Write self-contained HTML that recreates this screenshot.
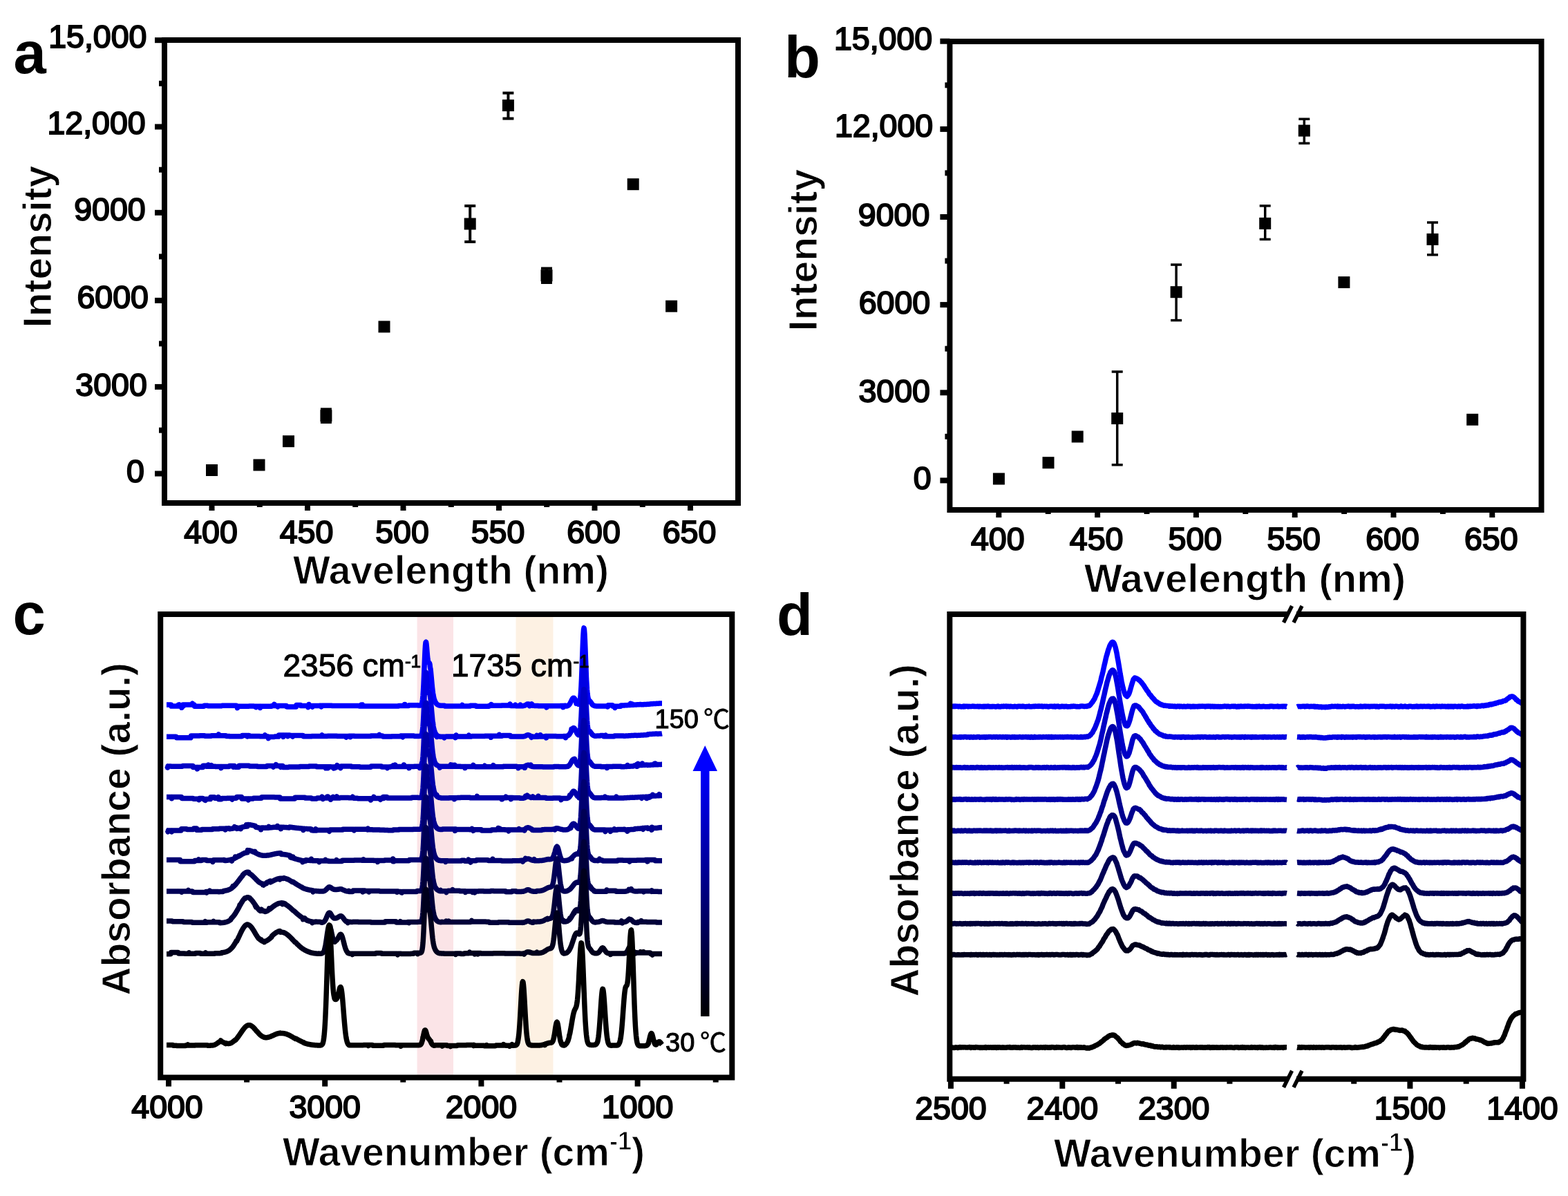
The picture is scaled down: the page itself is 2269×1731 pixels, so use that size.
<!DOCTYPE html>
<html><head><meta charset="utf-8"><title>Figure</title>
<style>
html,body{margin:0;padding:0;background:#fff;}
svg{display:block;}
text{font-family:'Liberation Sans', Arial, Helvetica, sans-serif;fill:#000;}
.tk{stroke:#000;stroke-width:2px;}
.an{stroke:#000;stroke-width:1.1px;}
.th{stroke:#fff;stroke-width:1px;}
</style></head>
<body>
<svg xmlns="http://www.w3.org/2000/svg" width="2269" height="1731" viewBox="0 0 2269 1731">
<rect width="2269" height="1731" fill="#fff"/>
<rect x="238" y="58" width="830" height="670" fill="none" stroke="#000" stroke-width="8" stroke-linejoin="miter"/>
<line x1="224.0" y1="685.5" x2="238.0" y2="685.5" stroke="#000" stroke-width="8" stroke-linecap="butt"/>
<line x1="224.0" y1="559.9" x2="238.0" y2="559.9" stroke="#000" stroke-width="8" stroke-linecap="butt"/>
<line x1="224.0" y1="434.9" x2="238.0" y2="434.9" stroke="#000" stroke-width="8" stroke-linecap="butt"/>
<line x1="224.0" y1="307.8" x2="238.0" y2="307.8" stroke="#000" stroke-width="8" stroke-linecap="butt"/>
<line x1="224.0" y1="183.5" x2="238.0" y2="183.5" stroke="#000" stroke-width="8" stroke-linecap="butt"/>
<line x1="224.0" y1="58.2" x2="238.0" y2="58.2" stroke="#000" stroke-width="8" stroke-linecap="butt"/>
<line x1="230.0" y1="622.7" x2="238.0" y2="622.7" stroke="#000" stroke-width="8" stroke-linecap="butt"/>
<line x1="230.0" y1="497.4" x2="238.0" y2="497.4" stroke="#000" stroke-width="8" stroke-linecap="butt"/>
<line x1="230.0" y1="371.4" x2="238.0" y2="371.4" stroke="#000" stroke-width="8" stroke-linecap="butt"/>
<line x1="230.0" y1="245.7" x2="238.0" y2="245.7" stroke="#000" stroke-width="8" stroke-linecap="butt"/>
<line x1="230.0" y1="120.8" x2="238.0" y2="120.8" stroke="#000" stroke-width="8" stroke-linecap="butt"/>
<text x="208.8" y="698.2" font-size="46.5" font-weight="normal" text-anchor="end" class="tk">0</text>
<text x="212.8" y="573.4" font-size="46.5" font-weight="normal" text-anchor="end" class="tk">3000</text>
<text x="214.9" y="445.6" font-size="46.5" font-weight="normal" text-anchor="end" class="tk">6000</text>
<text x="210.7" y="318.5" font-size="46.5" font-weight="normal" text-anchor="end" class="tk">9000</text>
<text x="210.7" y="193.9" font-size="46.5" font-weight="normal" text-anchor="end" class="tk">12,000</text>
<text x="212.4" y="68.8" font-size="46.5" font-weight="normal" text-anchor="end" class="tk">15,000</text>
<line x1="306.5" y1="728.0" x2="306.5" y2="739.0" stroke="#000" stroke-width="8" stroke-linecap="butt"/>
<text x="305.0" y="786.0" font-size="46.5" font-weight="normal" text-anchor="middle" class="tk">400</text>
<line x1="375.8" y1="728.0" x2="375.8" y2="734.0" stroke="#000" stroke-width="8" stroke-linecap="butt"/>
<line x1="445.0" y1="728.0" x2="445.0" y2="739.0" stroke="#000" stroke-width="8" stroke-linecap="butt"/>
<text x="443.5" y="786.0" font-size="46.5" font-weight="normal" text-anchor="middle" class="tk">450</text>
<line x1="514.2" y1="728.0" x2="514.2" y2="734.0" stroke="#000" stroke-width="8" stroke-linecap="butt"/>
<line x1="583.5" y1="728.0" x2="583.5" y2="739.0" stroke="#000" stroke-width="8" stroke-linecap="butt"/>
<text x="582.0" y="786.0" font-size="46.5" font-weight="normal" text-anchor="middle" class="tk">500</text>
<line x1="652.8" y1="728.0" x2="652.8" y2="734.0" stroke="#000" stroke-width="8" stroke-linecap="butt"/>
<line x1="722.0" y1="728.0" x2="722.0" y2="739.0" stroke="#000" stroke-width="8" stroke-linecap="butt"/>
<text x="720.5" y="786.0" font-size="46.5" font-weight="normal" text-anchor="middle" class="tk">550</text>
<line x1="791.2" y1="728.0" x2="791.2" y2="734.0" stroke="#000" stroke-width="8" stroke-linecap="butt"/>
<line x1="860.5" y1="728.0" x2="860.5" y2="739.0" stroke="#000" stroke-width="8" stroke-linecap="butt"/>
<text x="859.0" y="786.0" font-size="46.5" font-weight="normal" text-anchor="middle" class="tk">600</text>
<line x1="929.8" y1="728.0" x2="929.8" y2="734.0" stroke="#000" stroke-width="8" stroke-linecap="butt"/>
<line x1="999.0" y1="728.0" x2="999.0" y2="739.0" stroke="#000" stroke-width="8" stroke-linecap="butt"/>
<text x="997.5" y="786.0" font-size="46.5" font-weight="normal" text-anchor="middle" class="tk">650</text>
<text x="19.5" y="106.0" font-size="85" font-weight="bold" text-anchor="start" >a</text>
<text class="th" transform="translate(74.0,357.0) rotate(-90)" font-size="57" font-weight="bold" text-anchor="middle">Intensity</text>
<text x="652.5" y="845.0" font-size="57" font-weight="bold" text-anchor="middle" class="th">Wavelength (nm)</text>
<rect x="298.0" y="672.0" width="17" height="17" fill="#000"/>
<rect x="366.5" y="664.5" width="17" height="17" fill="#000"/>
<rect x="409.0" y="630.2" width="17" height="17" fill="#000"/>
<line x1="471.9" y1="592.3" x2="471.9" y2="611.1" stroke="#000" stroke-width="4" stroke-linecap="butt"/>
<line x1="463.9" y1="592.3" x2="479.9" y2="592.3" stroke="#000" stroke-width="4" stroke-linecap="butt"/>
<line x1="463.9" y1="611.1" x2="479.9" y2="611.1" stroke="#000" stroke-width="4" stroke-linecap="butt"/>
<rect x="463.4" y="593.2" width="17" height="17" fill="#000"/>
<rect x="547.5" y="464.4" width="17" height="17" fill="#000"/>
<line x1="680.2" y1="298.0" x2="680.2" y2="350.0" stroke="#000" stroke-width="4" stroke-linecap="butt"/>
<line x1="672.2" y1="298.0" x2="688.2" y2="298.0" stroke="#000" stroke-width="4" stroke-linecap="butt"/>
<line x1="672.2" y1="350.0" x2="688.2" y2="350.0" stroke="#000" stroke-width="4" stroke-linecap="butt"/>
<rect x="671.7" y="315.5" width="17" height="17" fill="#000"/>
<line x1="735.4" y1="134.6" x2="735.4" y2="171.6" stroke="#000" stroke-width="4" stroke-linecap="butt"/>
<line x1="727.4" y1="134.6" x2="743.4" y2="134.6" stroke="#000" stroke-width="4" stroke-linecap="butt"/>
<line x1="727.4" y1="171.6" x2="743.4" y2="171.6" stroke="#000" stroke-width="4" stroke-linecap="butt"/>
<rect x="726.9" y="144.1" width="17" height="17" fill="#000"/>
<line x1="791.0" y1="388.5" x2="791.0" y2="409.0" stroke="#000" stroke-width="4" stroke-linecap="butt"/>
<line x1="783.0" y1="388.5" x2="799.0" y2="388.5" stroke="#000" stroke-width="4" stroke-linecap="butt"/>
<line x1="783.0" y1="409.0" x2="799.0" y2="409.0" stroke="#000" stroke-width="4" stroke-linecap="butt"/>
<rect x="782.5" y="390.2" width="17" height="17" fill="#000"/>
<rect x="907.7" y="258.2" width="17" height="17" fill="#000"/>
<rect x="963.1" y="434.7" width="17" height="17" fill="#000"/>
<rect x="1374.4" y="60" width="856.0999999999999" height="678" fill="none" stroke="#000" stroke-width="8" stroke-linejoin="miter"/>
<line x1="1360.4" y1="695.4" x2="1374.4" y2="695.4" stroke="#000" stroke-width="8" stroke-linecap="butt"/>
<line x1="1360.4" y1="568.3" x2="1374.4" y2="568.3" stroke="#000" stroke-width="8" stroke-linecap="butt"/>
<line x1="1360.4" y1="441.1" x2="1374.4" y2="441.1" stroke="#000" stroke-width="8" stroke-linecap="butt"/>
<line x1="1360.4" y1="314.0" x2="1374.4" y2="314.0" stroke="#000" stroke-width="8" stroke-linecap="butt"/>
<line x1="1360.4" y1="186.9" x2="1374.4" y2="186.9" stroke="#000" stroke-width="8" stroke-linecap="butt"/>
<line x1="1360.4" y1="59.7" x2="1374.4" y2="59.7" stroke="#000" stroke-width="8" stroke-linecap="butt"/>
<line x1="1367.4" y1="631.8" x2="1374.4" y2="631.8" stroke="#000" stroke-width="8" stroke-linecap="butt"/>
<line x1="1367.4" y1="504.7" x2="1374.4" y2="504.7" stroke="#000" stroke-width="8" stroke-linecap="butt"/>
<line x1="1367.4" y1="377.6" x2="1374.4" y2="377.6" stroke="#000" stroke-width="8" stroke-linecap="butt"/>
<line x1="1367.4" y1="250.4" x2="1374.4" y2="250.4" stroke="#000" stroke-width="8" stroke-linecap="butt"/>
<line x1="1367.4" y1="123.3" x2="1374.4" y2="123.3" stroke="#000" stroke-width="8" stroke-linecap="butt"/>
<text x="1347.5" y="708.0" font-size="46.5" font-weight="normal" text-anchor="end" class="tk">0</text>
<text x="1345.9" y="581.7" font-size="46.5" font-weight="normal" text-anchor="end" class="tk">3000</text>
<text x="1346.2" y="453.9" font-size="46.5" font-weight="normal" text-anchor="end" class="tk">6000</text>
<text x="1345.3" y="326.9" font-size="46.5" font-weight="normal" text-anchor="end" class="tk">9000</text>
<text x="1350.2" y="197.8" font-size="46.5" font-weight="normal" text-anchor="end" class="tk">12,000</text>
<text x="1349.2" y="72.2" font-size="46.5" font-weight="normal" text-anchor="end" class="tk">15,000</text>
<line x1="1445.3" y1="738.0" x2="1445.3" y2="749.0" stroke="#000" stroke-width="8" stroke-linecap="butt"/>
<text x="1443.8" y="796.0" font-size="46.5" font-weight="normal" text-anchor="middle" class="tk">400</text>
<line x1="1516.7" y1="738.0" x2="1516.7" y2="744.0" stroke="#000" stroke-width="8" stroke-linecap="butt"/>
<line x1="1588.1" y1="738.0" x2="1588.1" y2="749.0" stroke="#000" stroke-width="8" stroke-linecap="butt"/>
<text x="1586.6" y="796.0" font-size="46.5" font-weight="normal" text-anchor="middle" class="tk">450</text>
<line x1="1659.5" y1="738.0" x2="1659.5" y2="744.0" stroke="#000" stroke-width="8" stroke-linecap="butt"/>
<line x1="1730.9" y1="738.0" x2="1730.9" y2="749.0" stroke="#000" stroke-width="8" stroke-linecap="butt"/>
<text x="1729.4" y="796.0" font-size="46.5" font-weight="normal" text-anchor="middle" class="tk">500</text>
<line x1="1802.3" y1="738.0" x2="1802.3" y2="744.0" stroke="#000" stroke-width="8" stroke-linecap="butt"/>
<line x1="1873.7" y1="738.0" x2="1873.7" y2="749.0" stroke="#000" stroke-width="8" stroke-linecap="butt"/>
<text x="1872.2" y="796.0" font-size="46.5" font-weight="normal" text-anchor="middle" class="tk">550</text>
<line x1="1945.1" y1="738.0" x2="1945.1" y2="744.0" stroke="#000" stroke-width="8" stroke-linecap="butt"/>
<line x1="2016.5" y1="738.0" x2="2016.5" y2="749.0" stroke="#000" stroke-width="8" stroke-linecap="butt"/>
<text x="2015.0" y="796.0" font-size="46.5" font-weight="normal" text-anchor="middle" class="tk">600</text>
<line x1="2087.9" y1="738.0" x2="2087.9" y2="744.0" stroke="#000" stroke-width="8" stroke-linecap="butt"/>
<line x1="2159.3" y1="738.0" x2="2159.3" y2="749.0" stroke="#000" stroke-width="8" stroke-linecap="butt"/>
<text x="2157.8" y="796.0" font-size="46.5" font-weight="normal" text-anchor="middle" class="tk">650</text>
<text x="1135.0" y="112.0" font-size="85" font-weight="bold" text-anchor="start" >b</text>
<text class="th" transform="translate(1182.0,362.0) rotate(-90)" font-size="57" font-weight="bold" text-anchor="middle">Intensity</text>
<text x="1801.5" y="857.0" font-size="58" font-weight="bold" text-anchor="middle" class="th">Wavelength (nm)</text>
<rect x="1436.9" y="684.5" width="17" height="17" fill="#000"/>
<rect x="1508.5" y="661.2" width="17" height="17" fill="#000"/>
<rect x="1550.7" y="623.5" width="17" height="17" fill="#000"/>
<line x1="1616.7" y1="538.0" x2="1616.7" y2="672.8" stroke="#000" stroke-width="3.5" stroke-linecap="butt"/>
<line x1="1608.7" y1="538.0" x2="1624.7" y2="538.0" stroke="#000" stroke-width="3.5" stroke-linecap="butt"/>
<line x1="1608.7" y1="672.8" x2="1624.7" y2="672.8" stroke="#000" stroke-width="3.5" stroke-linecap="butt"/>
<rect x="1608.2" y="597.1" width="17" height="17" fill="#000"/>
<line x1="1702.1" y1="383.1" x2="1702.1" y2="463.6" stroke="#000" stroke-width="3.5" stroke-linecap="butt"/>
<line x1="1694.1" y1="383.1" x2="1710.1" y2="383.1" stroke="#000" stroke-width="3.5" stroke-linecap="butt"/>
<line x1="1694.1" y1="463.6" x2="1710.1" y2="463.6" stroke="#000" stroke-width="3.5" stroke-linecap="butt"/>
<rect x="1693.6" y="414.2" width="17" height="17" fill="#000"/>
<line x1="1830.7" y1="297.9" x2="1830.7" y2="346.4" stroke="#000" stroke-width="3.5" stroke-linecap="butt"/>
<line x1="1822.7" y1="297.9" x2="1838.7" y2="297.9" stroke="#000" stroke-width="3.5" stroke-linecap="butt"/>
<line x1="1822.7" y1="346.4" x2="1838.7" y2="346.4" stroke="#000" stroke-width="3.5" stroke-linecap="butt"/>
<rect x="1822.2" y="314.9" width="17" height="17" fill="#000"/>
<line x1="1887.3" y1="172.3" x2="1887.3" y2="207.4" stroke="#000" stroke-width="3.5" stroke-linecap="butt"/>
<line x1="1879.3" y1="172.3" x2="1895.3" y2="172.3" stroke="#000" stroke-width="3.5" stroke-linecap="butt"/>
<line x1="1879.3" y1="207.4" x2="1895.3" y2="207.4" stroke="#000" stroke-width="3.5" stroke-linecap="butt"/>
<rect x="1878.8" y="180.6" width="17" height="17" fill="#000"/>
<rect x="1936.4" y="400.1" width="17" height="17" fill="#000"/>
<line x1="2073.0" y1="322.0" x2="2073.0" y2="368.8" stroke="#000" stroke-width="3.5" stroke-linecap="butt"/>
<line x1="2065.0" y1="322.0" x2="2081.0" y2="322.0" stroke="#000" stroke-width="3.5" stroke-linecap="butt"/>
<line x1="2065.0" y1="368.8" x2="2081.0" y2="368.8" stroke="#000" stroke-width="3.5" stroke-linecap="butt"/>
<rect x="2064.5" y="337.9" width="17" height="17" fill="#000"/>
<rect x="2122.2" y="598.8" width="17" height="17" fill="#000"/>
<rect x="603.6" y="893" width="52.4" height="662.5" fill="#FBE4E7"/>
<rect x="746.5" y="893" width="54" height="662.5" fill="#FDF1E3"/>
<g fill="none" stroke-width="7.5" stroke-linejoin="round" stroke-linecap="butt">
<path stroke="#0000FF" d="M241.0 1020.0l.5 0l.5 0l.5 0l.5 0l.5 0l.5 0l.5 0l.5 0l.5 0l.5 0l.5 0l.5 0l.5 0l.5 2.1l.5 0l.5 0l.5 0l.5 0l.5 0l.5 0l.5 0l.5 0l.5 0l.5 0l.5 0l.5 0l.5 0l.5 0l.5 0l.5 0l.5 0l.5 0l.5 0l.5-1.7l.5 1.7l.5 0l.5-2.2l.5 2.2l.5 0l.5 0l.5 0l.5 0l.5 0l.5 2.2l.5-2.2l.5 0l.5-2.1l.5 0l.5 1.9l.5-1.9l.5 0l.5 0l.5 0l.5 0l.5 0l.5 0l.5 0l.5 0l.5 0l.5 0l.5 0l.5 0l.5 0l.5 0l.5 0l.5 0l.5 0l.5 0l.5 0l.5 0l.5 0l.5 0l.5 0l.5 0l.5-1.9l.5 1.9l.5 0l.5 0l.5 0l.5 0l.5 2.3l.5 0l.5 0l.5 0l.5 0l.5 0l.5 0l.5 0l.5 0l.5 0l.5 0l.5 0l.5 0l.5 0l.5 0l.5 0l.5 0l.5 0l.5 0l.5 0l.5 0l.5 0l.5 0l.5 0l.5 0l.5 0l.5 0l.5 0l.5-1l.5 0l.5 0l.5 0l.5 0l.5 0l.5 0l.5 0l.5 0l.5 0l.5 0l.5 .4l.5 0l.5 0l.5 0l.5 0l.5 0l.5 0l.5 0l.5 0l.5 0l.5 0l.5 0l.5 0l.5 0l.5 0l.5 0l.5 0l.5 0l.5 0l.5 0l.5 0l.5 0l.5 0l.5 0l.5 0l.5 0l.5 0l.5 0l.5 0l.5 0l.5 0l.5 0l.5 0l.5 0l.5 0l.5 0l.5 0l.5 0l.5 0l.5 0l.5 0l.5-.5l.5 0l.5 0l.5 0l.5 0l.5 0l.5 0l.5 0l.5 0l.5 0l.5 0l.5 0l.5 0l.5 0l.5 0l.5 0l.5 0l.5 0l.5 0l.5 0l.5 0l.5 0l.5 0l.5 0l.5 0l.5 0l.5 0l.5 0l.5 0l.5 0l.5 0l.5 0l.5 0l.5 0l.5 0l.5 0l.5 0l.5 0l.5 0l.5 0l.5 0l.5 0l.5 1.1l.5 0l.5 2.3l.5-2.3l.5 0l.5 0l.5 0l.5 0l.5 0l.5 0l.5 0l.5 0l.5 0l.5 0l.5 0l.5 0l.5 0l.5 0l.5 0l.5 0l.5 0l.5 0l.5 0l.5 0l.5 0l.5 0l.5 0l.5 0l.5 0l.5 0l.5 0l.5 0l.5 0l.5 0l.5 0l.5 0l.5-.4l.5 0l.5 0l.5 0l.5 0l.5 0l.5 0l.5 0l.5 0l.5 0l.5 0l.5 0l.5 0l.5 0l.5 0l.5 .3l.5 0l.5 0l.5 0l.5 0l.5 1.4l.5-1.4l.5 0l.5 0l.5 0l.5 0l.5 0l.5 0l.5 0l.5 0l.5 0l.5 0l.5 2.3l.5-2.3l.5 0l.5 0l.5 .1l.5 0l.5 0l.5 0l.5 0l.5 0l.5 0l.5 0l.5 0l.5 0l.5 0l.5 0l.5 0l.5 0l.5 0l.5 0l.5 0l.5 0l.5 0l.5 0l.5 0l.5 0l.5 0l.5 0l.5 0l.5 0l.5 0l.5 0l.5 0l.5 0l.5-.9l.5 0l.5 0l.5 0l.5 0l.5 0l.5 0l.5-2l.5 2l.5 0l.5 0l.5 0l.5 0l.5 0l.5 0l.5 0l.5 0l.5 1.6l.5-1.6l.5 0l.5 0l.5 0l.5 0l.5 0l.5 0l.5 0l.5 0l.5 0l.5 0l.5 0l.5 0l.5 0l.5 0l.5 0l.5 0l.5 0l.5 0l.5 0l.5 0l.5 0l.5 0l.5 0l.5 0l.5 1.7l.5 0l.5 0l.5 0l.5 0l.5 0l.5 0l.5 0l.5 0l.5 0l.5 0l.5 0l.5 0l.5 0l.5 0l.5 0l.5 0l.5 0l.5 0l.5 0l.5 0l.5 0l.5 0l.5 0l.5 0l.5 0l.5 0l.5 0l.5-2.6l.5 0l.5 0l.5 0l.5 0l.5 0l.5 0l.5 0l.5 0l.5 0l.5 0l.5 0l.5 0l.5 1.1l.5 0l.5 0l.5 0l.5 0l.5 0l.5 0l.5 0l.5 0l.5 0l.5 0l.5 0l.5 0l.5 0l.5 0l.5 0l.5 0l.5 0l.5 0l.5 0l.5 0l.5 2l.5-2l.5-2.1l.5 2.1l.5 0l.5 0l.5 0l.5 0l.5 0l.5 0l.5 0l.5 0l.5 1.5l.5-1.5l.5 0l.5 0l.5 0l.5 0l.5 0l.5 0l.5 0l.5 0l.5 0l.5 0l.5 0l.5 0l.5 0l.5 0l.5 0l.5 0l.5 0l.5 0l.5 0l.5-.3l.5 0l.5 0l.5 0l.5 0l.5 1.6l.5-1.6l.5 0l.5 0l.5 0l.5 0l.5 0l.5 0l.5 0l.5 0l.5 0l.5 0l.5 0l.5 0l.5 0l.5 0l.5 0l.5 0l.5 0l.5 0l.5 0l.5 0l.5 0l.5 0l.5 0l.5 0l.5 0l.5 0l.5 0l.5 0l.5 0l.5 .2l.5 0l.5 0l.5 0l.5 0l.5 0l.5 0l.5 0l.5 0l.5 0l.5 0l.5 0l.5 0l.5 0l.5 0l.5 0l.5 0l.5 0l.5 0l.5 0l.5 0l.5 0l.5 0l.5 0l.5 0l.5 0l.5 0l.5 0l.5 0l.5 0l.5 0l.5 0l.5 0l.5 0l.5 0l.5 0l.5 0l.5 0l.5 .1l.5 0l.5 0l.5 0l.5 0l.5 0l.5 0l.5 0l.5 0l.5 0l.5 0l.5 0l.5 0l.5 0l.5 0l.5 0l.5 0l.5 0l.5 0l.5 0l.5 0l.5 0l.5 0l.5 0l.5 0l.5 0l.5 0l.5 0l.5 0l.5 0l.5 0l.5 0l.5 0l.5 0l.5 0l.5 0l.5 0l.5 0l.5 0l.5 0l.5 0l.5 .5l.5 0l.5 0l.5 0l.5 0l.5 0l.5-2l.5 2l.5 0l.5-2.1l.5 2.1l.5 0l.5 0l.5 0l.5 0l.5 0l.5 0l.5 0l.5 0l.5 0l.5 0l.5 0l.5 0l.5 0l.5 0l.5 0l.5 0l.5 0l.5 0l.5 0l.5 0l.5-.1l.5 0l.5 0l.5 0l.5 0l.5 0l.5 0l.5 0l.5 0l.5 0l.5 0l.5 0l.5 0l.5 0l.5 0l.5 0l.5 0l.5 0l.5 0l.5 0l.5 0l.5 0l.5 0l.5 0l.5 0l.5 0l.5 0l.5 0l.5 0l.5 0l.5 0l.5 0l.5 0l.5 0l.5 0l.5 0l.5 0l.5 0l.5 0l.5 0l.5 0l.5 0l.5 0l.5 0l.5 0l.5 0l.5 0l.5 0l.5 0l.5 0l.5 0l.5 0l.5 0l.5 0l.5 0l.5 0l.5 0l.5 0l.5 0l.5 0l.5 0l.5 0l.5 0l.5 0l.5 0l.5 0l.5 0l.5 0l.5 0l.5 0l.5 0l.5 0l.5 0l.5 0l.5 0l.5 0l.5 0l.5 0l.5 0l.5 0l.5 0l.5 0l.5 0l.5-.6l.5 0l.5 0l.5 0l.5 0l.5 0l.5 0l.5 0l.5 0l.5 0l.5 0l.5 0l.5 0l.5 0l.5 0l.5 0l.5 0l.5-2l.5 0l.5 2l.5 0l.5 0l.5 0l.5 0l.5 0l.5 0l.5 0l.5 0l.5 0l.5 0l.5-.6l.5 0l.5 0l.5 0l.5 0l.5 0l.5 0l.5 0l.5 0l.5 0l.5 0l.5 0l.5 0l.5 0l.5 0l.5 0l.5 0l.5 0l.5 0l.5 0l.5 0l.5 0l.5 0l.5 0l.5 0l.5 0l.5 0l.5 .3l.5 0l.5 0l.5 0l.5 0l.5-.1l.5-.1l.5-.2l.5-.4l.5-.7l.5-1.4l.5-2.2l.5-3.6l.5-5.4l.5-7.4l.5-9.5l.5-11.4l.5-12.5l.5-12.3l.5-11.1l.5-8.3l.5-4.6l.5-.7l.5 2.8l.5 5.1l.5 6.2l.5 5.9l.5 4.7l.5 3.1l.5 1.5l.5 .5l.5 .3l.5 .6l.5 1.6l.5 4.6l.5 2l.5 4.8l.5 5.5l.5 5.5l.5 5.5l.5 5.1l.5 4.5l.5 3.8l.5 3.2l.5 2.6l.5 2.2l.5 1.7l.5 1.4l.5 1.2l.5 1l.5 .9l.5 .7l.5 .7l.5 .5l.5 .5l.5 .4l.5 .3l.5 .2l.5 .3l.5 .1l.5 .2l.5 .1l.5 0l.5 .1l.5 .1l.5 0l.5 0l.5 0l.5 0l.5 0l.5 .1l.5 0l.5 0l.5 0l.5 0l.5 0l.5 0l.5 .7l.5 0l.5 0l.5 0l.5 0l.5 0l.5 0l.5 0l.5 0l.5 0l.5 0l.5 0l.5 0l.5 0l.5 0l.5 0l.5 0l.5 0l.5 0l.5 0l.5 0l.5 0l.5 0l.5 0l.5 0l.5 0l.5 0l.5 0l.5 0l.5 0l.5 0l.5 0l.5 0l.5 0l.5 0l.5 0l.5 .1l.5 0l.5 0l.5 0l.5 0l.5 0l.5 0l.5 0l.5 0l.5 0l.5 0l.5 0l.5 0l.5 0l.5-1.7l.5 1.7l.5 0l.5 0l.5 0l.5 0l.5 0l.5 0l.5 0l.5 0l.5 0l.5 0l.5 0l.5 0l.5 0l.5 0l.5 0l.5 0l.5 0l.5 0l.5 0l.5 0l.5 0l.5-.9l.5 0l.5 0l.5 0l.5 0l.5 0l.5 0l.5 0l.5 0l.5 0l.5 0l.5 0l.5 0l.5 0l.5 0l.5 0l.5 0l.5 1l.5 0l.5 0l.5 0l.5 0l.5 0l.5 0l.5 0l.5 0l.5 0l.5 0l.5 0l.5 0l.5 0l.5 0l.5 0l.5 0l.5 0l.5 0l.5 0l.5 0l.5 0l.5 0l.5 0l.5 0l.5 0l.5 0l.5 0l.5 0l.5 0l.5 0l.5 0l.5 0l.5 0l.5 0l.5 0l.5 0l.5 0l.5-1l.5 0l.5 0l.5 0l.5 0l.5 0l.5-1.7l.5 1.7l.5 0l.5 0l.5 0l.5 0l.5 0l.5 0l.5 0l.5 0l.5 0l.5 0l.5 0l.5 0l.5 0l.5 0l.5 0l.5 0l.5 0l.5 0l.5 0l.5 0l.5 0l.5 0l.5 0l.5 0l.5 0l.5 0l.5 0l.5 0l.5-.2l.5 0l.5 0l.5 0l.5 0l.5 0l.5 0l.5 0l.5 0l.5 0l.5 0l.5 0l.5 0l.5 0l.5 0l.5 0l.5 0l.5 0l.5 0l.5 0l.5 0l.5 0l.5 0l.5 0l.5-2l.5 2l.5 0l.5 .6l.5 0l.5 0l.5 0l.5 0l.5 0l.5 0l.5 0l.5 0l.5 0l.5 0l.5 0l.5 0l.5-1.4l.5 1.6l.5 0l.5 0l.5 0l.5 0l.5 0l.5 0l.5 0l.5 0l.5 0l.5 0l.5 0l.5 0l.5-1.6l.5 1.6l.5 0l.5 0l.5-.1l.5 0l.5 0l.5 0l.5-.1l.5-.1l.5-.1l.5-.1l.5-.1l.5-.2l.5-.3l.5-.2l.5-.2l.5-.3l.5-.6l.5-.2l.5-.2l.5-.1l.5 0l.5 0l.5 .1l.5 .2l.5 .2l.5 2.4l.5-1.9l.5 .2l.5 .3l.5 .2l.5 .2l.5-1.9l.5 2.2l.5 .1l.5 0l.5 .1l.5 0l.5 0l.5 .1l.5 0l.5 0l.5 0l.5 0l.5 0l.5 0l.5 0l.5 0l.5 0l.5 0l.5 0l.5 0l.5 .3l.5 0l.5 0l.5 0l.5 0l.5 0l.5 0l.5 0l.5 0l.5 0l.5 0l.5 0l.5 0l.5 0l.5 0l.5 0l.5 0l.5 0l.5 0l.5 0l.5 0l.5 0l.5 0l.5 2.2l.5-2.2l.5 0l.5 0l.5 0l.5 0l.5 0l.5 0l.5 0l.5 0l.5 0l.5 0l.5 0l.5 0l.5 0l.5 0l.5 0l.5 0l.5 0l.5 0l.5 0l.5 0l.5 0l.5 0l.5 0l.5 0l.5 0l.5 0l.5 0l.5 0l.5 0l.5 0l.5 0l.5 0l.5 0l.5 0l.5 0l.5 0l.5 0l.5 0l.5-.3l.5 0l.5 0l.5 0l.5 0l.5 0l.5 0l.5 0l.5 2.3l.5-2.3l.5 0l.5 0l.5 0l.5-.1l.5 0l.5 0l.5 .8l.5-.1l.5 0l.5-.1l.5-.2l.5-.1l.5-.3l.5-.3l.5-.4l.5-.6l.5-.6l.5-.7l.5-.8l.5-1l.5-1l.5-1l.5-1l.5-1l.5-.9l.5-.8l.5-.5l.5-.4l.5-.1l.5 .1l.5 .4l.5 .5l.5 .8l.5 .9l.5 1l.5 1l.5 3.2l.5-2.1l.5 .9l.5 .8l.5 .7l.5 .5l.5 .3l.5 0l.5-.4l.5-1.1l.5-1.8l.5-3.1l.5-4.6l.5-6.4l.5-8.6l.5-10.7l.5-12.6l.5-13.8l.5-14.1l.5-13l.5-10.6l.5-7l.5-2.5l.5 2.3l.5 6.7l.5 10.3l.5 12.6l.5 13.6l.5 13.3l.5 14.1l.5 8l.5 7.9l.5 5.8l.5 4l.5 2.6l.5 1.6l.5 1.2l.5 .7l.5 .5l.5 .5l.5 .6l.5 .6l.5 .7l.5 .7l.5 .7l.5 1l.5 .6l.5 .5l.5 .5l.5 .3l.5 .3l.5 .2l.5 .2l.5 .1l.5 .1l.5 0l.5 0l.5 .4l.5 0l.5 0l.5 0l.5 0l.5 0l.5 0l.5 0l.5 0l.5 0l.5 0l.5 0l.5 0l.5 0l.5 0l.5 0l.5 0l.5 0l.5 0l.5 0l.5 0l.5 0l.5 0l.5 0l.5 0l.5 0l.5 0l.5 0l.5 0l.5 0l.5 0l.5 0l.5 0l.5 0l.5 .8l.5-2.1l.5 0l.5 0l.5 0l.5 0l.5 0l.5 0l.5 0l.5 0l.5 0l.5 0l.5 0l.5 0l.5 0l.5 1.5l.5 0l.5 0l.5 0l.5 0l.5 0l.5 2.2l.5-2.2l.5 0l.5 0l.5 0l.5 0l.5 0l.5 0l.5 0l.5 0l.5 0l.5 0l.5 0l.5 0l.5 0l.5 0l.5 0l.5-1.2l.5 0l.5 0l.5 0l.5 0l.5 0l.5-.1l.5 0l.5 0l.5-.1l.5 0l.5 0l.5-.1l.5 0l.5 0l.5 0l.5-.1l.5 0l.5 0l.5-.1l.5 0l.5 0l.5-.1l.5 0l.5 0l.5 0l.5-.1l.5 0l.5-2.2l.5 2.1l.5 0l.5 0l.5-1.5l.5 1.4l.5 0l.5 0l.5 0l.5-.1l.5 0l.5 0l.5-.1l.5 0l.5 0l.5 0l.5-.1l.5 0l.5 0l.5-.1l.5 0l.5 0l.5-.1l.5 0l.5 0l.5 0l.5-.1l.5 0l.5 0l.5-.1l.5 0l.5 .3l.5 0l.5 0l.5-.1l.5 0l.5 0l.5 0l.5-.1l.5 0l.5 0l.5-.1l.5 0l.5 0l.5-.1l.5 0l.5 0l.5 0l.5-.1l.5 0l.5 0l.5-.1l.5 0l.5 0l.5-.1l.5 0l.5 0l.5 0l.5-.2l.5-.1l.5 0l.5 0l.5-.1l.5 0l.5 0l.5-.1l.5 0l.5 0l.5 0l.5-.1l.5 0l.5 0l.5-.1l.5 0l.5 0l.5-.1l.5 0l.5 0l.5 0l.5-.1l.5 0l.5 0l.5-.1l.5 0l.5 0l.5-.1l.5 0l.5 0l.5 0l.5-.1l.5 0l.5 0"/>
<path stroke="#0000E3" d="M241.0 1066.3l.5 0l.5 0l.5 0l.5 0l.5 0l.5 0l.5 0l.5 0l.5 0l.5 0l.5 0l.5 0l.5 0l.5 0l.5 0l.5 0l.5 0l.5 0l.5 0l.5 0l.5 0l.5 0l.5 0l.5 0l.5 0l.5 0l.5 0l.5 0l.5 1.5l.5 0l.5 0l.5 0l.5 0l.5 0l.5 0l.5 0l.5 0l.5 0l.5 0l.5 0l.5 0l.5 0l.5 0l.5 0l.5 0l.5 0l.5 0l.5 0l.5 0l.5 0l.5 0l.5 0l.5 0l.5 0l.5 0l.5 0l.5 0l.5 0l.5 0l.5 0l.5 0l.5 0l.5 0l.5 0l.5 0l.5 0l.5 0l.5 0l.5 0l.5 0l.5-2.8l.5 0l.5 0l.5 0l.5 0l.5 0l.5 0l.5 0l.5 0l.5 0l.5 0l.5 0l.5 0l.5 0l.5 0l.5 0l.5 0l.5 0l.5 0l.5 0l.5 0l.5 0l.5 0l.5 0l.5 0l.5-.2l.5 0l.5 0l.5 0l.5 0l.5 0l.5 0l.5 0l.5 0l.5 0l.5 0l.5 0l.5 0l.5 0l.5 0l.5 .4l.5 0l.5 0l.5 0l.5 0l.5 0l.5 0l.5 0l.5 0l.5 0l.5 0l.5 0l.5 0l.5 0l.5 0l.5 0l.5 0l.5 0l.5 0l.5-.4l.5 0l.5 0l.5 0l.5 0l.5 0l.5 0l.5 0l.5 0l.5 0l.5 0l.5 0l.5 0l.5 0l.5 0l.5 0l.5 0l.5 0l.5 0l.5 0l.5 0l.5-2l.5 2l.5 0l.5 0l.5 0l.5 0l.5 0l.5 0l.5 0l.5 0l.5 0l.5 0l.5 0l.5 0l.5 0l.5 0l.5 0l.5 0l.5 0l.5 0l.5 0l.5 0l.5 .8l.5 0l.5 0l.5 0l.5 0l.5 0l.5 0l.5 0l.5 0l.5 0l.5 .2l.5 0l.5 0l.5 0l.5 0l.5 0l.5 0l.5 0l.5 0l.5 0l.5 0l.5 0l.5 0l.5 0l.5 0l.5 0l.5 0l.5 0l.5 0l.5 0l.5 0l.5 0l.5 0l.5 0l.5 0l.5 0l.5 0l.5 0l.5 0l.5 0l.5 0l.5 0l.5 0l.5 0l.5 0l.5 0l.5-1.3l.5 0l.5 0l.5 0l.5 0l.5 0l.5 0l.5 0l.5 0l.5 0l.5 0l.5 0l.5 0l.5 0l.5 0l.5 1.5l.5-1.5l.5 0l.5 0l.5 0l.5 0l.5 1.1l.5 0l.5 0l.5 0l.5 0l.5 0l.5 0l.5 0l.5 0l.5 0l.5 0l.5 0l.5 0l.5 0l.5 0l.5 0l.5 0l.5 0l.5 0l.5 0l.5 0l.5 0l.5 0l.5 0l.5 0l.5 0l.5 0l.5 0l.5 0l.5 0l.5 0l.5 .1l.5 0l.5 0l.5 0l.5 0l.5 0l.5 0l.5 0l.5 0l.5 0l.5 0l.5 0l.5 0l.5 0l.5-1.8l.5 1.8l.5 0l.5 0l.5 0l.5 0l.5 0l.5 0l.5 0l.5 .7l.5 2.2l.5-2.2l.5 0l.5 0l.5 0l.5 0l.5 0l.5 0l.5 0l.5 0l.5 0l.5 0l.5 0l.5 0l.5 0l.5 0l.5 0l.5 0l.5-.3l.5 0l.5 0l.5 0l.5 0l.5 0l.5 0l.5 0l.5 0l.5 0l.5 0l.5 0l.5-2.1l.5 0l.5 0l.5 0l.5 0l.5 0l.5 0l.5 0l.5 0l.5 0l.5 0l.5 0l.5 0l.5 2.4l.5-2.4l.5 0l.5 0l.5 0l.5 0l.5 0l.5 0l.5 0l.5 0l.5 0l.5 0l.5 0l.5 1.6l.5-1.6l.5 0l.5 0l.5 0l.5 0l.5 .6l.5 0l.5 0l.5 0l.5 0l.5 0l.5 0l.5 0l.5 1.6l.5-1.6l.5 0l.5 0l.5 0l.5 0l.5 0l.5 0l.5 0l.5 0l.5 0l.5 0l.5 0l.5 0l.5 0l.5 0l.5 0l.5 0l.5 0l.5 0l.5 0l.5 0l.5 0l.5 0l.5 0l.5 0l.5 0l.5 0l.5 0l.5 0l.5 0l.5 1.1l.5 0l.5 0l.5 0l.5 0l.5 0l.5 0l.5 0l.5 0l.5 0l.5 0l.5 0l.5 0l.5 0l.5 0l.5 0l.5 0l.5 0l.5 0l.5 0l.5 0l.5 0l.5 0l.5 0l.5-.3l.5 0l.5 0l.5 0l.5 0l.5 0l.5 0l.5 0l.5 0l.5 0l.5 0l.5 0l.5 0l.5 0l.5 0l.5 0l.5 0l.5 0l.5 0l.5 0l.5 0l.5 0l.5 0l.5 0l.5 0l.5 0l.5 0l.5 0l.5 0l.5 0l.5-1.6l.5 1.6l.5 0l.5 0l.5 0l.5 0l.5 0l.5 0l.5 0l.5 0l.5 0l.5 0l.5 0l.5 0l.5 0l.5 0l.5 0l.5-.1l.5 0l.5 0l.5 0l.5 0l.5 0l.5 0l.5 0l.5 0l.5 0l.5 0l.5 0l.5 0l.5 0l.5 0l.5 0l.5 0l.5 0l.5 0l.5 0l.5 0l.5 0l.5 0l.5 0l.5 0l.5 0l.5 0l.5 .2l.5 0l.5 0l.5 0l.5 0l.5 0l.5 0l.5 0l.5 0l.5 0l.5 0l.5 0l.5 0l.5 0l.5 0l.5 0l.5 0l.5 0l.5 0l.5 0l.5 0l.5 0l.5 0l.5 0l.5 0l.5 0l.5 1.6l.5-1.6l.5 0l.5 0l.5 0l.5 0l.5 0l.5 0l.5-.3l.5 0l.5 0l.5 0l.5 1.5l.5-1.5l.5 0l.5 0l.5 .1l.5 0l.5 0l.5 0l.5 0l.5 0l.5 0l.5 0l.5 0l.5 .3l.5 0l.5 0l.5 0l.5 0l.5 0l.5 0l.5 0l.5 0l.5 0l.5 0l.5 0l.5 0l.5 0l.5 0l.5-.1l.5 0l.5 0l.5 0l.5 0l.5 0l.5 0l.5 0l.5 0l.5 0l.5 0l.5 0l.5 0l.5 0l.5 0l.5 0l.5 0l.5 0l.5 0l.5 0l.5 0l.5 0l.5 0l.5 0l.5 0l.5 0l.5 0l.5 0l.5 0l.5 0l.5 0l.5 0l.5-.5l.5 0l.5 0l.5 0l.5 0l.5 0l.5 0l.5 0l.5 0l.5 0l.5 0l.5 0l.5 0l.5 0l.5 0l.5 0l.5 0l.5 0l.5 0l.5 0l.5 0l.5 0l.5 0l.5 0l.5-1.7l.5 1.7l.5 0l.5 0l.5 0l.5 0l.5 0l.5 0l.5 0l.5 0l.5 .9l.5 0l.5 0l.5 0l.5 0l.5 0l.5 0l.5 0l.5 0l.5 0l.5 0l.5 0l.5 0l.5 0l.5 0l.5 0l.5 0l.5 0l.5 0l.5 0l.5 0l.5 0l.5 0l.5 0l.5 0l.5 0l.5-.2l.5 0l.5 0l.5 0l.5 0l.5 0l.5 0l.5 0l.5 0l.5 0l.5 0l.5 0l.5 0l.5 0l.5 0l.5 0l.5 0l.5 0l.5 0l.5 0l.5 0l.5 0l.5 0l.5 0l.5 0l.5 0l.5-.6l.5 0l.5 0l.5 0l.5 0l.5 0l.5 1.7l.5-1.7l.5 0l.5 0l.5 0l.5 0l.5 0l.5 0l.5 0l.5 0l.5 0l.5 0l.5 0l.5 0l.5 0l.5 0l.5 0l.5 0l.5 0l.5 0l.5 0l.5 0l.5 0l.5 0l.5 0l.5 0l.5 0l.5 0l.5 0l.5 0l.5 0l.5 0l.5 0l.5 .3l.5 0l.5 0l.5 0l.5 0l.5 0l.5 0l.5 0l.5 0l.5 0l.5 0l.5 0l.5 0l.5 0l.5 0l.5 0l.5-.1l.5 0l.5-.1l.5-.2l.5-.4l.5-.8l.5-1.3l.5-2.3l.5-3.6l.5-5.3l.5-7.4l.5-9.6l.5-11.4l.5-12.5l.5-12.5l.5-11l.5-8.3l.5-4.6l.5-.7l.5 2.7l.5 5.2l.5 6.2l.5 5.9l.5 4.7l.5 3l.5 1.5l.5 .6l.5 .2l.5 .1l.5 1.6l.5 2.7l.5 3.9l.5 4.8l.5 5.4l.5 5.7l.5 5.4l.5 5.1l.5 6l.5 2.1l.5 4.9l.5 2.7l.5 2.1l.5 1.7l.5 1.4l.5 1.2l.5 1l.5 3.2l.5-1.6l.5 .7l.5 .5l.5 2.6l.5-1.7l.5 .3l.5 .3l.5 .2l.5 .2l.5 .1l.5 .1l.5 .1l.5 0l.5 .1l.5 0l.5 0l.5 .1l.5 0l.5 0l.5 0l.5 0l.5 0l.5 0l.5 0l.5 1.7l.5-1.7l.5 0l.5 0l.5 0l.5-.4l.5 0l.5 0l.5 0l.5 0l.5 0l.5 0l.5 0l.5 0l.5 0l.5 0l.5 0l.5 0l.5 0l.5 0l.5 0l.5 0l.5 0l.5 0l.5 0l.5 0l.5 0l.5 0l.5 0l.5 0l.5 0l.5 0l.5 1.8l.5-1.8l.5-1.9l.5 1.9l.5 0l.5 0l.5 0l.5 0l.5 0l.5 0l.5 0l.5 0l.5 0l.5 0l.5 0l.5 0l.5 0l.5 0l.5 0l.5 0l.5 0l.5 0l.5 0l.5 0l.5 0l.5 0l.5 0l.5 0l.5 0l.5 0l.5 0l.5 0l.5 0l.5 0l.5 0l.5 0l.5 0l.5 0l.5 0l.5-1.7l.5 1.7l.5 0l.5 0l.5 0l.5 0l.5 0l.5 0l.5 0l.5-.4l.5 0l.5 0l.5 0l.5 0l.5 0l.5 0l.5 0l.5 0l.5 0l.5 0l.5 0l.5 0l.5 0l.5 0l.5 0l.5 0l.5 0l.5 0l.5 0l.5 0l.5 0l.5 0l.5 0l.5 0l.5 0l.5 0l.5 0l.5 0l.5 0l.5 0l.5 0l.5 0l.5 0l.5 0l.5 0l.5 0l.5-.3l.5 0l.5 0l.5 0l.5 0l.5 0l.5 0l.5 0l.5 0l.5 0l.5 0l.5 0l.5 0l.5 0l.5 .1l.5 0l.5 0l.5 0l.5 2l.5-2l.5 0l.5 0l.5 0l.5 0l.5 0l.5 0l.5 0l.5 0l.5 0l.5 0l.5 0l.5 0l.5 0l.5 0l.5 0l.5 0l.5 0l.5 0l.5 0l.5 0l.5 0l.5 0l.5-2.1l.5 2.1l.5 0l.5 0l.5 0l.5 0l.5 0l.5 0l.5 0l.5-.8l.5 0l.5 0l.5 0l.5 0l.5 0l.5 0l.5 0l.5 0l.5 0l.5 0l.5 0l.5 0l.5 0l.5 0l.5 0l.5 0l.5 0l.5 0l.5 0l.5 0l.5 0l.5 0l.5 0l.5 1.6l.5 0l.5 0l.5 0l.5 0l.5 0l.5 0l.5 0l.5 0l.5 0l.5 0l.5 0l.5 0l.5 0l.5 0l.5 0l.5 0l.5 0l.5 0l.5 0l.5 0l.5 0l.5 0l.5 0l.5 0l.5 0l.5 0l.5 0l.5 0l.5 0l.5 0l.5 0l.5 0l.5 0l.5 0l.5-.1l.5 0l.5-.1l.5-.1l.5-.1l.5-.1l.5-.1l.5-.3l.5-.2l.5-.2l.5-.3l.5-.2l.5-.2l.5-.2l.5-.1l.5 0l.5 0l.5 .1l.5 .2l.5 .2l.5 .2l.5 .3l.5 .2l.5 .2l.5 .3l.5 1.9l.5-1.6l.5 .1l.5 .1l.5 .1l.5 .1l.5 0l.5 0l.5 0l.5 .1l.5 0l.5 0l.5 0l.5 0l.5 0l.5 0l.5-2l.5 2l.5 0l.5 0l.5-.4l.5 0l.5 0l.5 0l.5 0l.5 0l.5-2.2l.5 2.2l.5 0l.5 0l.5 0l.5 0l.5 0l.5 0l.5 0l.5 0l.5 0l.5 0l.5 0l.5 0l.5-.3l.5 0l.5 0l.5 2.3l.5-2.3l.5 0l.5 0l.5 0l.5 0l.5 0l.5 0l.5 0l.5 0l.5 0l.5 0l.5 0l.5 0l.5 0l.5 0l.5 0l.5 0l.5 0l.5 0l.5 0l.5 0l.5 0l.5 0l.5 0l.5 0l.5 0l.5 0l.5 0l.5 0l.5 .1l.5 0l.5 0l.5 0l.5 0l.5 0l.5 0l.5 0l.5 0l.5 0l.5 0l.5 0l.5 0l.5 0l.5 0l.5 0l.5 0l.5 0l.5 0l.5 0l.5-.2l.5 0l.5 0l.5 0l.5 0l.5 0l.5 2.3l.5-2.4l.5 0l.5-.1l.5-.1l.5-.1l.5-.2l.5-.3l.5-.3l.5-.4l.5-.5l.5-.6l.5-.8l.5-.8l.5-.9l.5-1l.5-1l.5-3l.5 .9l.5-.9l.5 1l.5-2.3l.5-.3l.5-.2l.5 .2l.5 .3l.5 .6l.5 .7l.5 .9l.5 1l.5 1l.5 1.1l.5 1.2l.5 .9l.5 .8l.5 .7l.5 .5l.5 .3l.5 0l.5-.5l.5-1l.5-1.8l.5-3.1l.5-5l.5-6.5l.5-8.5l.5-10.8l.5-12.6l.5-13.8l.5-14l.5-13l.5-10.6l.5-7l.5-2.5l.5 2.2l.5 6.7l.5 10.3l.5 12.6l.5 14.7l.5 13.3l.5 12l.5 10.1l.5 7.9l.5 5.8l.5 4l.5 2.7l.5 1.6l.5 1l.5 .6l.5 .5l.5-.5l.5 .5l.5 .6l.5 .7l.5 .7l.5 .7l.5 .7l.5 .6l.5 .5l.5 .5l.5 .3l.5 .3l.5 .2l.5 .2l.5 .1l.5 .1l.5 0l.5 0l.5 .1l.5 0l.5-.4l.5 0l.5 0l.5 0l.5 0l.5 0l.5 0l.5 0l.5 0l.5 0l.5 0l.5-.3l.5 0l.5 0l.5 0l.5 0l.5 0l.5 0l.5 0l.5 0l.5 1.1l.5 0l.5 0l.5 0l.5 0l.5 0l.5-1.6l.5 1.6l.5 0l.5 0l.5 0l.5 0l.5 0l.5 0l.5 0l.5 0l.5 0l.5 0l.5 0l.5 0l.5 0l.5 0l.5 0l.5 0l.5 0l.5 0l.5 0l.5 0l.5 0l.5 0l.5 0l.5-.7l.5 0l.5 0l.5 0l.5 0l.5 0l.5 0l.5 0l.5 0l.5 0l.5 0l.5 0l.5 0l.5 0l.5 0l.5 0l.5 0l.5 0l.5 0l.5 0l.5 0l.5 0l.5 0l.5 0l.5-.1l.5 0l.5 0l.5 0l.5 .3l.5 0l.5 0l.5 0l.5-.1l.5 0l.5 0l.5-.1l.5 0l.5 0l.5-.1l.5 0l.5 0l.5 0l.5-.1l.5 0l.5 0l.5-.1l.5 0l.5 0l.5-.1l.5 0l.5 0l.5 0l.5-.1l.5 0l.5 0l.5-.1l.5 0l.5 0l.5-.1l.5 0l.5 0l.5 0l.5-.1l.5 0l.5 0l.5 .3l.5-.1l.5 0l.5 0l.5-.1l.5 0l.5 0l.5 0l.5-.1l.5 0l.5 0l.5-.1l.5 0l.5 0l.5-.1l.5 0l.5 0l.5 0l.5-.1l.5 0l.5 0l.5-.1l.5 0l.5 0l.5-.1l.5 0l.5 0l.5 0l.5-.1l.5 0l.5 0l.5-.1l.5-.7l.5-.1l.5 0l.5 0l.5-.1l.5 0l.5 0l.5-.1l.5 0l.5 0l.5 0l.5-.1l.5 0l.5 0l.5-.1l.5 0l.5 0l.5-.1l.5 0l.5 0l.5 0l.5-.1l.5 0l.5 0l.5-.1l.5 0l.5 0l.5-.1l.5 .3l.5 0l.5 0l.5-.1l.5 0l.5 0l.5-.1l.5 0l.5 0l.5 0l.5-.1l.5 0l.5 0l.5-.1"/>
<path stroke="#0000C6" d="M241.0 1109.1l.5 0l.5 0l.5 1.9l.5-1.9l.5 0l.5 0l.5 0l.5 0l.5 0l.5 0l.5 0l.5 0l.5 0l.5 .1l.5 0l.5 0l.5 0l.5 0l.5 0l.5 0l.5 0l.5 0l.5 0l.5 0l.5 0l.5 0l.5 0l.5 0l.5 0l.5 0l.5 0l.5 0l.5 0l.5 0l.5 0l.5 0l.5 0l.5 0l.5 0l.5 0l.5 0l.5 0l.5 0l.5 0l.5 0l.5 0l.5-.6l.5 0l.5 0l.5 0l.5 0l.5 0l.5 0l.5 0l.5 0l.5 0l.5 0l.5 0l.5 0l.5 0l.5 0l.5 0l.5 0l.5 0l.5 0l.5 0l.5 0l.5 0l.5 0l.5 0l.5 0l.5 0l.5 0l.5 0l.5 0l.5 0l.5 1.9l.5 0l.5 0l.5 0l.5 0l.5 0l.5 0l.5 0l.5 0l.5 0l.5 0l.5 0l.5 2.4l.5-2.4l.5 0l.5 0l.5 0l.5 0l.5 0l.5 0l.5 0l.5 0l.5 0l.5 0l.5 0l.5 0l.5 0l.5 0l.5 0l.5-2.3l.5 0l.5 0l.5 0l.5 0l.5 0l.5 0l.5 0l.5 0l.5 1.1l.5 0l.5 0l.5 0l.5 0l.5 0l.5-2.3l.5 2.3l.5 0l.5 0l.5 0l.5 0l.5 0l.5 0l.5 0l.5-1.8l.5 1.8l.5 0l.5 0l.5 0l.5 0l.5 0l.5 0l.5 0l.5 0l.5 0l.5 0l.5 .2l.5 0l.5 0l.5 0l.5 0l.5 0l.5 0l.5 0l.5 0l.5 0l.5 0l.5 0l.5 0l.5 0l.5 0l.5 0l.5 2.2l.5-2.2l.5 0l.5 0l.5 0l.5 0l.5 0l.5 0l.5 0l.5 0l.5 0l.5 0l.5 0l.5 0l.5 0l.5 0l.5 0l.5 0l.5 0l.5 0l.5 0l.5 0l.5 0l.5 0l.5-.9l.5 0l.5 0l.5 0l.5 0l.5 0l.5 0l.5 0l.5 0l.5 0l.5 0l.5 1.6l.5-1.6l.5 0l.5 0l.5 0l.5 1.6l.5 0l.5 0l.5 0l.5 0l.5 0l.5 0l.5 0l.5 0l.5 0l.5 0l.5 0l.5-2l.5 0l.5 0l.5 0l.5 0l.5 0l.5 0l.5 0l.5 0l.5 0l.5 0l.5 0l.5 0l.5 0l.5 0l.5 0l.5 0l.5 0l.5 0l.5 0l.5 0l.5 0l.5 0l.5 0l.5 0l.5 0l.5 0l.5 0l.5 0l.5 0l.5 .7l.5 0l.5 0l.5 0l.5 0l.5 0l.5 0l.5 0l.5 0l.5 0l.5 0l.5 0l.5 0l.5 0l.5 0l.5 0l.5 0l.5 0l.5 0l.5 0l.5 0l.5 0l.5 0l.5 0l.5 .7l.5 0l.5 0l.5 0l.5 0l.5 0l.5 0l.5 0l.5 0l.5 0l.5 0l.5 0l.5 0l.5 0l.5 0l.5 0l.5 0l.5 0l.5 0l.5 0l.5 0l.5 0l.5 0l.5 0l.5 0l.5 0l.5 0l.5-1l.5 0l.5 0l.5 0l.5 0l.5 0l.5 0l.5 0l.5 0l.5 0l.5 0l.5 0l.5 0l.5 0l.5 0l.5 0l.5 0l.5 0l.5 1.6l.5-1.6l.5 0l.5 0l.5 0l.5 0l.5 0l.5 0l.5-2l.5 2l.5 0l.5 0l.5 0l.5 0l.5 0l.5 0l.5 0l.5 0l.5 0l.5 0l.5 0l.5 1.7l.5-1.7l.5 0l.5 0l.5 0l.5 0l.5 0l.5 1.8l.5 0l.5 0l.5 0l.5 0l.5 0l.5 0l.5 0l.5 0l.5 0l.5 0l.5 0l.5 0l.5 0l.5 0l.5 0l.5 0l.5-.3l.5 0l.5 0l.5 0l.5 0l.5 0l.5 0l.5 0l.5 0l.5 0l.5 0l.5 0l.5 0l.5 0l.5 0l.5 0l.5 0l.5 0l.5 0l.5 0l.5 0l.5 0l.5 0l.5 0l.5 0l.5 0l.5 0l.5 0l.5 0l.5 0l.5 0l.5 0l.5-.5l.5 0l.5 0l.5 0l.5 0l.5 0l.5 0l.5 0l.5 0l.5 0l.5 0l.5 0l.5 0l.5 0l.5 0l.5 0l.5 0l.5 0l.5 0l.5 0l.5 0l.5 0l.5 0l.5 0l.5 0l.5 0l.5 0l.5-.5l.5 0l.5 0l.5 0l.5 0l.5 0l.5 0l.5 0l.5 0l.5 0l.5 0l.5 0l.5 0l.5 0l.5 0l.5 0l.5 0l.5 0l.5 0l.5 0l.5 0l.5 0l.5 .7l.5 0l.5 0l.5 0l.5 0l.5 0l.5 0l.5 0l.5 0l.5 0l.5 0l.5 0l.5 0l.5 0l.5 0l.5 0l.5 0l.5 0l.5 0l.5 0l.5 0l.5 0l.5 0l.5 0l.5 0l.5 0l.5 2l.5-2l.5 0l.5 0l.5 0l.5 0l.5 2l.5-2l.5 0l.5 0l.5 0l.5 0l.5 0l.5 0l.5 0l.5 .1l.5 0l.5 0l.5 0l.5 0l.5 0l.5 0l.5 0l.5 2.1l.5-2.1l.5 0l.5 0l.5 1.5l.5-1.5l.5 0l.5 0l.5 0l.5 0l.5-2.3l.5 2.3l.5 0l.5 0l.5 0l.5 0l.5 0l.5 0l.5 0l.5 0l.5 1.7l.5-2.5l.5 0l.5 0l.5 0l.5 0l.5 0l.5 0l.5 0l.5 0l.5 0l.5 0l.5 0l.5 0l.5 0l.5 0l.5 0l.5 0l.5 0l.5 0l.5 0l.5 0l.5 0l.5 0l.5 0l.5 0l.5 0l.5 0l.5 0l.5 0l.5 0l.5 0l.5 .7l.5 0l.5 0l.5 0l.5 0l.5 0l.5 0l.5 0l.5 0l.5 0l.5 0l.5 0l.5 0l.5 0l.5 0l.5 0l.5 0l.5 0l.5 0l.5 0l.5 0l.5 0l.5 0l.5 0l.5 .4l.5 0l.5 0l.5 0l.5 0l.5 0l.5 0l.5 0l.5 0l.5 0l.5 0l.5 0l.5 0l.5 0l.5 0l.5 0l.5 0l.5 0l.5 0l.5 0l.5 0l.5 0l.5 0l.5 0l.5 0l.5 0l.5 0l.5 0l.5 0l.5 0l.5 0l.5 0l.5-1.1l.5 0l.5 0l.5 0l.5 0l.5 0l.5 0l.5 0l.5 0l.5 0l.5 0l.5 0l.5 0l.5 0l.5 0l.5 0l.5 0l.5 0l.5 0l.5 0l.5 0l.5 0l.5 0l.5 0l.5 0l.5 0l.5 0l.5 0l.5 0l.5 0l.5 0l.5 1l.5 0l.5 0l.5 0l.5 0l.5 0l.5 0l.5 0l.5 0l.5 0l.5 0l.5 0l.5 0l.5 0l.5 0l.5 0l.5 1.5l.5-1.5l.5 0l.5 0l.5 0l.5 0l.5 0l.5 0l.5 0l.5-.7l.5 0l.5 0l.5 0l.5 0l.5 0l.5 0l.5 0l.5-1.5l.5 1.5l.5 0l.5 0l.5 0l.5 0l.5-2.3l.5 2.3l.5 0l.5 0l.5 0l.5 0l.5 0l.5 0l.5 0l.5 0l.5 0l.5 0l.5 0l.5 0l.5 0l.5 0l.5 0l.5 0l.5 0l.5 0l.5 0l.5 0l.5 0l.5 0l.5 0l.5-2.4l.5 2.4l.5 0l.5 0l.5 0l.5 0l.5 0l.5 0l.5 0l.5 0l.5 0l.5 0l.5 0l.5 0l.5 0l.5 2.3l.5-2.3l.5 0l.5 0l.5 0l.5 0l.5 0l.5 0l.5 0l.5 0l.5 0l.5 0l.5 0l.5 0l.5 0l.5-.2l.5 0l.5 0l.5 0l.5 0l.5 0l.5 0l.5 0l.5 0l.5 0l.5 0l.5 0l.5 0l.5 0l.5 0l.5 0l.5 2.3l.5-2.4l.5-.1l.5-.2l.5-.4l.5-.8l.5-3.5l.5-.1l.5-3.6l.5-5.3l.5-7.4l.5-9.6l.5-11.4l.5-12.5l.5-12.4l.5-11.1l.5-8.3l.5-4.6l.5-.7l.5 3.7l.5 5.2l.5 6.2l.5 5.9l.5 4.7l.5 3l.5 1.5l.5 .6l.5 .2l.5 .7l.5 1.5l.5 2.8l.5 3.9l.5 4.8l.5 5.4l.5 5.6l.5 5.5l.5 5.1l.5 4.5l.5 3.8l.5 3.2l.5 2.6l.5 2.1l.5 1.8l.5 1.4l.5 1.2l.5 1l.5 .9l.5 .7l.5 .6l.5-.3l.5 .5l.5 .4l.5 .3l.5 .3l.5 .2l.5 .1l.5 .2l.5 .1l.5 2.2l.5-2.1l.5 .1l.5 0l.5 0l.5 0l.5 .1l.5 0l.5 0l.5 0l.5 0l.5 0l.5 0l.5 0l.5 0l.5 0l.5 0l.5 0l.5-.1l.5 0l.5 0l.5 0l.5 0l.5 0l.5 0l.5 0l.5 0l.5 0l.5 0l.5 0l.5 0l.5 0l.5-2.3l.5 2.3l.5 0l.5 0l.5 0l.5 0l.5-1.8l.5 1.8l.5 0l.5 0l.5 0l.5-2l.5 2l.5 0l.5 0l.5 0l.5 0l.5 0l.5 0l.5 0l.5 0l.5 0l.5 0l.5 0l.5 0l.5 0l.5 0l.5 0l.5 0l.5 .3l.5 0l.5 0l.5 0l.5 0l.5 0l.5 0l.5 0l.5 0l.5 0l.5 0l.5 0l.5 2l.5-2l.5 0l.5 0l.5 0l.5 0l.5 0l.5 0l.5 0l.5 0l.5 0l.5 0l.5 0l.5 0l.5 0l.5 0l.5 0l.5 0l.5 0l.5 0l.5 0l.5 0l.5 0l.5 0l.5-2.1l.5 2.1l.5 0l.5 0l.5 0l.5 0l.5 .2l.5 0l.5 0l.5 0l.5 0l.5 0l.5 0l.5 0l.5 0l.5 0l.5 0l.5 0l.5 0l.5 0l.5 0l.5 0l.5 0l.5 0l.5 0l.5 0l.5 0l.5 0l.5 0l.5 0l.5 0l.5 0l.5 0l.5-1.5l.5 1.5l.5 0l.5 0l.5 0l.5 0l.5 0l.5 0l.5 0l.5 0l.5 0l.5 0l.5 0l.5 0l.5 0l.5 .1l.5 0l.5 0l.5 0l.5 0l.5 0l.5 0l.5 0l.5 0l.5 0l.5-2.2l.5 2.2l.5 0l.5 0l.5 0l.5 0l.5 0l.5 0l.5 0l.5 0l.5 0l.5 0l.5 0l.5 0l.5 0l.5 0l.5 0l.5 0l.5 0l.5 0l.5 0l.5 0l.5 0l.5 0l.5 0l.5 0l.5 0l.5 0l.5 0l.5-.5l.5 0l.5 0l.5 0l.5 0l.5 0l.5 0l.5 0l.5 0l.5 0l.5 0l.5 0l.5 0l.5 0l.5 0l.5 0l.5 0l.5 0l.5 0l.5 0l.5 0l.5 0l.5 0l.5 0l.5 0l.5 0l.5 0l.5 0l.5 0l.5 0l.5 0l.5 0l.5 0l.5 0l.5 0l.5 0l.5 0l.5 0l.5 0l.5 .5l.5 0l.5 0l.5 0l.5 1.9l.5-1.9l.5 0l.5 0l.5 0l.5 0l.5 0l.5 0l.5 0l.5 0l.5 0l.5 0l.5 0l.5-.1l.5 0l.5-.1l.5-.1l.5-.1l.5-.2l.5 2.1l.5-2.5l.5-.2l.5-.3l.5-.2l.5-.3l.5-.2l.5-.1l.5-.1l.5-.1l.5-.1l.5 .1l.5 .2l.5 .2l.5 .2l.5 .3l.5 .2l.5-1.3l.5 1.8l.5 .2l.5 .1l.5 .2l.5 .1l.5 0l.5 .1l.5 0l.5 .1l.5 0l.5 0l.5 0l.5 0l.5 0l.5 0l.5 0l.5 0l.5 0l.5 0l.5 0l.5 0l.5 0l.5 0l.5 0l.5 0l.5 0l.5 0l.5 0l.5 0l.5 0l.5 0l.5 0l.5 0l.5 0l.5 .4l.5 0l.5 0l.5 0l.5 0l.5 0l.5 0l.5 0l.5 0l.5 0l.5 0l.5 0l.5 0l.5 0l.5 0l.5 0l.5 0l.5 0l.5 0l.5 0l.5 0l.5 0l.5 0l.5 0l.5 0l.5 0l.5 0l.5 0l.5 0l.5 0l.5 0l.5 0l.5-.7l.5 0l.5 0l.5 0l.5 0l.5 0l.5 0l.5 0l.5 0l.5 0l.5 0l.5 0l.5 0l.5 0l.5 0l.5 0l.5 .3l.5 0l.5 0l.5 0l.5 0l.5 0l.5 0l.5 0l.5 0l.5 0l.5 0l.5 0l.5 0l.5 0l.5 0l.5 0l.5 0l.5 0l.5 0l.5-.1l.5 0l.5-.1l.5 0l.5-.2l.5-.1l.5 0l.5-.3l.5-.4l.5-.5l.5-.5l.5-.7l.5-.8l.5-.8l.5-.9l.5-1l.5-.9l.5-.9l.5-.9l.5-.6l.5-.6l.5-.3l.5-.3l.5 .1l.5 .4l.5-1l.5 2.2l.5 .8l.5 .9l.5 .9l.5 1l.5 .9l.5 .8l.5 .8l.5 .6l.5 .4l.5 .4l.5-.1l.5-.4l.5 .6l.5-3.6l.5-3l.5-4.6l.5-6.5l.5-8.5l.5-10.8l.5-12.5l.5-13.9l.5-13.9l.5-13l.5-10.6l.5-7l.5-2.5l.5 2.2l.5 6.7l.5 10.3l.5 12.6l.5 13.6l.5 13.3l.5 12l.5 10.1l.5 7.9l.5 5.8l.5 4.1l.5 2.6l.5 1.6l.5 1l.5 0l.5 .5l.5 .5l.5 .5l.5 .7l.5 .6l.5 .8l.5 .7l.5 .6l.5 .6l.5 .6l.5 .4l.5 .4l.5 .2l.5 .3l.5 .1l.5 .1l.5 .1l.5 0l.5 .1l.5 0l.5 0l.5 0l.5 0l.5 0l.5 0l.5 0l.5 0l.5 0l.5 0l.5 0l.5 0l.5 0l.5 0l.5 0l.5 .5l.5 0l.5 0l.5 0l.5 0l.5 0l.5 0l.5 0l.5 0l.5 0l.5 0l.5 0l.5 0l.5 0l.5-.2l.5 0l.5 0l.5 1.8l.5-1.8l.5 0l.5 0l.5 0l.5 0l.5 0l.5 0l.5 0l.5 0l.5 0l.5 0l.5 0l.5 0l.5 0l.5 0l.5-.3l.5 0l.5 0l.5 0l.5 0l.5 0l.5 0l.5 0l.5 0l.5 0l.5 0l.5 0l.5 0l.5 0l.5 0l.5 0l.5 0l.5 0l.5 0l.5 0l.5 0l.5 0l.5 0l.5 0l.5 0l.5 .5l.5 0l.5 0l.5 0l.5 0l.5 0l.5-.1l.5 0l.5 0l.5-.1l.5 0l.5 0l.5-.1l.5 0l.5 0l.5 0l.5-.1l.5 0l.5-1.9l.5 1.8l.5 0l.5 0l.5-.1l.5 0l.5 0l.5 0l.5-.1l.5 0l.5 0l.5-.1l.5 0l.5 0l.5-.1l.5 0l.5 0l.5 0l.5-.1l.5-.7l.5 0l.5 0l.5-.1l.5 0l.5 0l.5-.1l.5 0l.5-1.6l.5 3l.5-1.5l.5 0l.5-2.4l.5 2.3l.5 0l.5 0l.5-.1l.5 0l.5 0l.5-.1l.5 0l.5 0l.5 0l.5-.1l.5-2.4l.5 2.4l.5-.1l.5 0l.5 0l.5-.1l.5 0l.5 0l.5 0l.5-.1l.5 0l.5 0l.5-.1l.5 0l.5 .4l.5 0l.5 0l.5-.1l.5 0l.5 0l.5 0l.5-.1l.5 0l.5 0l.5-.1l.5 0l.5 0l.5-.1l.5 0l.5 0l.5 0l.5-.1l.5 0l.5 0l.5-.1l.5-1.5l.5 1.5l.5-.1l.5-1.7l.5 1.7l.5 0l.5-.1l.5 0l.5 0l.5-.1l.5 .2l.5-.1l.5 0l.5 0l.5 0l.5-.1l.5 0l.5 0l.5-.1l.5 0l.5 0l.5-.1l.5 0"/>
<path stroke="#0000AA" d="M241.0 1153.5l.5 0l.5 0l.5 0l.5 0l.5 0l.5 0l.5 0l.5 0l.5 0l.5 0l.5 0l.5 0l.5 0l.5 0l.5 2.3l.5-2.3l.5 0l.5 0l.5 0l.5 0l.5 0l.5 0l.5 0l.5 0l.5 0l.5 0l.5 0l.5 0l.5 0l.5 0l.5 0l.5 0l.5 0l.5 0l.5 0l.5 0l.5 0l.5 0l.5 0l.5 0l.5 0l.5 0l.5 0l.5 1.9l.5 0l.5 0l.5 0l.5 0l.5 0l.5 0l.5 0l.5 0l.5 0l.5 0l.5 0l.5 0l.5 0l.5 0l.5 0l.5 0l.5 0l.5 0l.5 0l.5 0l.5 0l.5 0l.5 0l.5 0l.5 0l.5 0l.5 0l.5 0l.5 0l.5 0l.5 0l.5 0l.5 0l.5 .8l.5 0l.5 0l.5 0l.5 0l.5 0l.5 0l.5 0l.5 0l.5 0l.5 0l.5 0l.5 0l.5 0l.5 0l.5 0l.5 1.5l.5-2.1l.5 0l.5 0l.5 0l.5 0l.5 0l.5 0l.5 0l.5 0l.5 0l.5 0l.5 1l.5 0l.5 0l.5 0l.5 0l.5 1.5l.5-1.5l.5 1.7l.5-1.7l.5 0l.5 0l.5 0l.5 0l.5 0l.5 0l.5 0l.5 0l.5 0l.5 0l.5 0l.5 0l.5 0l.5-2.9l.5 0l.5 0l.5 0l.5 0l.5 0l.5 0l.5 0l.5 0l.5 0l.5 0l.5 0l.5 1.6l.5 0l.5 0l.5 0l.5 0l.5 0l.5 0l.5 0l.5 0l.5 0l.5-1.8l.5 3.3l.5 0l.5 0l.5 0l.5 0l.5 0l.5 0l.5 0l.5 0l.5-1.4l.5 0l.5 0l.5 0l.5 0l.5 0l.5 0l.5 0l.5 0l.5 0l.5 0l.5 0l.5 0l.5 0l.5 0l.5 0l.5-.1l.5 0l.5 0l.5 0l.5 0l.5 0l.5 0l.5 0l.5 0l.5 0l.5 0l.5 0l.5 0l.5 0l.5 1.8l.5-1.8l.5 0l.5 0l.5 0l.5 0l.5 0l.5 0l.5 0l.5 0l.5 0l.5 0l.5 0l.5-1.7l.5 0l.5 0l.5 0l.5 0l.5 0l.5 0l.5 0l.5 0l.5 0l.5 0l.5 0l.5 0l.5 0l.5 0l.5 2.3l.5 0l.5 0l.5 0l.5 0l.5 0l.5 0l.5 0l.5 0l.5 0l.5 0l.5 0l.5 0l.5 0l.5 0l.5 0l.5 0l.5 0l.5 0l.5 2l.5-2l.5 0l.5 0l.5 0l.5 0l.5 0l.5 0l.5 0l.5 0l.5 0l.5 0l.5 0l.5 0l.5 0l.5-.6l.5 0l.5 0l.5 0l.5 0l.5 0l.5 0l.5 0l.5 0l.5 0l.5 0l.5 0l.5 0l.5 0l.5 0l.5 0l.5 0l.5 0l.5 0l.5 0l.5 0l.5 0l.5 0l.5-1.6l.5 0l.5 0l.5 0l.5 0l.5 0l.5 0l.5 0l.5 0l.5 0l.5 0l.5 0l.5 0l.5 0l.5 0l.5 0l.5 0l.5 0l.5 0l.5 0l.5 0l.5 0l.5 0l.5 0l.5 0l.5 0l.5 0l.5 0l.5 0l.5 0l.5 0l.5 0l.5 0l.5 0l.5 0l.5 0l.5 0l.5 0l.5 .4l.5 0l.5 0l.5 0l.5 0l.5 0l.5 0l.5 0l.5 0l.5 0l.5 0l.5 0l.5 0l.5 0l.5 0l.5 0l.5 1.9l.5 0l.5 0l.5 0l.5 0l.5 0l.5 0l.5 0l.5 0l.5 0l.5 0l.5 0l.5 0l.5 0l.5 0l.5 0l.5 0l.5 0l.5 0l.5 0l.5 0l.5 0l.5 0l.5 0l.5 0l.5 0l.5 0l.5 0l.5 0l.5 0l.5 0l.5 0l.5 0l.5 0l.5 0l.5 0l.5 0l.5 0l.5 0l.5 0l.5 0l.5 0l.5 0l.5-1.8l.5 0l.5 0l.5 0l.5 0l.5 0l.5 0l.5 0l.5 0l.5 0l.5 0l.5 0l.5 0l.5 0l.5 0l.5 0l.5 0l.5 0l.5 0l.5 0l.5 0l.5 0l.5 0l.5 0l.5 0l.5 0l.5 0l.5 0l.5 0l.5 0l.5 .9l.5 0l.5 0l.5 0l.5 0l.5 0l.5 0l.5 0l.5 0l.5 0l.5 0l.5 0l.5 0l.5 0l.5 0l.5 0l.5 0l.5 0l.5 .8l.5 0l.5 0l.5 0l.5 0l.5 0l.5 0l.5 0l.5 0l.5 0l.5 0l.5 0l.5 0l.5 0l.5 0l.5 0l.5-1l.5 0l.5 0l.5 0l.5 0l.5 0l.5 0l.5 0l.5 0l.5 0l.5 0l.5 0l.5 0l.5 0l.5-1.7l.5 1.7l.5 0l.5 1.6l.5-1.6l.5 0l.5 0l.5 0l.5 0l.5 0l.5 0l.5 0l.5 0l.5 0l.5 0l.5-1.9l.5 1.9l.5-1.9l.5 1.9l.5 0l.5 0l.5 0l.5 0l.5 0l.5 0l.5 2.4l.5-2.4l.5 0l.5 0l.5 0l.5 0l.5 0l.5-1.5l.5 1.5l.5 0l.5 0l.5 0l.5 0l.5 0l.5 0l.5 0l.5 0l.5 0l.5-2.1l.5 2.1l.5 0l.5 0l.5 0l.5 0l.5 0l.5 0l.5 0l.5 0l.5-.3l.5 0l.5 0l.5 0l.5 0l.5 0l.5 0l.5 0l.5 0l.5 0l.5 0l.5 0l.5 0l.5 0l.5 0l.5 0l.5 0l.5 0l.5 0l.5 0l.5 0l.5 0l.5 0l.5 0l.5 0l.5 .1l.5 0l.5 0l.5 0l.5 0l.5 0l.5 0l.5 0l.5 0l.5 0l.5 0l.5-1.5l.5 1.5l.5 .5l.5 0l.5 0l.5 0l.5 0l.5 0l.5 0l.5 0l.5 0l.5 0l.5 0l.5 0l.5 .5l.5 0l.5 0l.5 0l.5 0l.5 0l.5 0l.5 0l.5 0l.5 0l.5 0l.5 0l.5 0l.5 0l.5 0l.5 0l.5 0l.5 0l.5 0l.5 0l.5 0l.5 0l.5 0l.5 0l.5 0l.5 0l.5 0l.5 0l.5 0l.5 0l.5 0l.5 0l.5 0l.5 0l.5 0l.5 0l.5 0l.5 0l.5 2.3l.5-2.3l.5 0l.5-.2l.5 0l.5 0l.5 0l.5 0l.5 0l.5-2.1l.5 2.1l.5 0l.5 0l.5 0l.5 0l.5 0l.5 0l.5 0l.5 0l.5 0l.5 0l.5 0l.5 0l.5 0l.5 0l.5 0l.5 0l.5 0l.5 1.9l.5-1.9l.5 0l.5 0l.5 0l.5 0l.5 0l.5 0l.5-2l.5 0l.5 1.8l.5-1.8l.5 0l.5 0l.5 0l.5 0l.5 0l.5 0l.5 0l.5 0l.5 1.6l.5 0l.5 0l.5 0l.5 0l.5 0l.5 0l.5 0l.5 0l.5 0l.5 0l.5 0l.5 0l.5 0l.5 0l.5 0l.5 0l.5 0l.5 0l.5 0l.5 0l.5 0l.5 0l.5 0l.5 0l.5 0l.5 0l.5 0l.5 0l.5 0l.5 0l.5 0l.5 0l.5 0l.5 0l.5 0l.5 0l.5 0l.5 0l.5 0l.5 0l.5 0l.5 0l.5 0l.5 0l.5 0l.5 0l.5 0l.5 0l.5 0l.5 0l.5 0l.5 0l.5 0l.5 0l.5 0l.5 0l.5 0l.5 0l.5 0l.5 0l.5 0l.5 0l.5 0l.5 0l.5 0l.5 0l.5 0l.5 0l.5 0l.5 0l.5-.8l.5 0l.5 0l.5 0l.5 0l.5 0l.5 0l.5 0l.5 0l.5 0l.5 0l.5 0l.5 0l.5 0l.5 0l.5 0l.5 0l.5 0l.5 0l.5 .3l.5 0l.5 0l.5 0l.5 0l.5-.1l.5-.1l.5-.2l.5-.4l.5-.7l.5-1.4l.5-2.3l.5-3.6l.5-5.3l.5-7.4l.5-9.5l.5-11.4l.5-12.5l.5-12.5l.5-11l.5-8.3l.5-4.7l.5-.7l.5 2.8l.5 5.2l.5 6.2l.5 5.9l.5 4.6l.5 3.2l.5 1.5l.5 .6l.5 .2l.5 .7l.5 1.5l.5 2.8l.5 3.9l.5 4.8l.5 5.4l.5 5.6l.5 5.5l.5 5.1l.5 4.5l.5 3.8l.5 3.2l.5 2.6l.5 2.1l.5 1.8l.5 1.4l.5 1.2l.5 1l.5 .9l.5 .7l.5 .6l.5-1.3l.5 2.3l.5 .4l.5 .4l.5 .2l.5 .2l.5 .2l.5 .1l.5 .1l.5 .1l.5 .1l.5 0l.5 .3l.5 0l.5 .1l.5 0l.5 0l.5 0l.5 0l.5 0l.5 0l.5 0l.5 0l.5 0l.5 0l.5 0l.5 0l.5 0l.5 0l.5 0l.5 0l.5 0l.5 0l.5 0l.5 0l.5 0l.5-.2l.5 0l.5 0l.5 0l.5 0l.5 0l.5 0l.5 0l.5 0l.5 0l.5 0l.5 0l.5 0l.5 0l.5 0l.5 1.9l.5-1.9l.5 0l.5 0l.5 0l.5 0l.5 0l.5 0l.5 0l.5-.4l.5 0l.5 0l.5 0l.5 0l.5 0l.5 0l.5 0l.5 0l.5 0l.5-.1l.5 0l.5 0l.5 0l.5 0l.5 0l.5 0l.5 0l.5 0l.5 0l.5 0l.5 0l.5 0l.5 0l.5 0l.5 0l.5 0l.5 0l.5 0l.5 0l.5 0l.5 0l.5 0l.5 0l.5 0l.5 0l.5 0l.5 .5l.5 0l.5 0l.5 0l.5 0l.5 0l.5 0l.5 0l.5 0l.5 0l.5 0l.5 0l.5 0l.5 0l.5 0l.5 0l.5 0l.5 0l.5 0l.5 0l.5-2.4l.5 2.4l.5 0l.5 0l.5 0l.5 0l.5 0l.5 0l.5 0l.5 0l.5 0l.5 0l.5 0l.5 0l.5 0l.5 0l.5 0l.5 0l.5 0l.5 0l.5 0l.5 0l.5 0l.5 0l.5 0l.5 0l.5 0l.5 0l.5 0l.5 0l.5 0l.5-.1l.5 0l.5 0l.5 0l.5 0l.5 0l.5 0l.5 0l.5 0l.5 0l.5 0l.5 0l.5 0l.5 0l.5 0l.5 0l.5 0l.5 0l.5 0l.5 0l.5 0l.5 0l.5 0l.5 0l.5 0l.5 0l.5 0l.5 0l.5 0l.5 0l.5 0l.5 0l.5 0l.5 0l.5 0l.5 0l.5 0l.5 0l.5 0l.5 0l.5 2l.5-2l.5 1.9l.5-1.9l.5 0l.5 0l.5 0l.5 0l.5 0l.5 0l.5 0l.5 0l.5-1.6l.5 1.6l.5-.3l.5 0l.5 0l.5 0l.5 0l.5 0l.5 0l.5 0l.5 0l.5 0l.5 0l.5 0l.5 0l.5 2.2l.5-2.2l.5 0l.5 0l.5 0l.5 0l.5 0l.5 .4l.5 0l.5 0l.5 0l.5 0l.5 0l.5 0l.5 0l.5 0l.5 0l.5 0l.5 0l.5 0l.5 0l.5 0l.5 0l.5 0l.5 0l.5 0l.5 .5l.5 0l.5 0l.5 0l.5 0l.5 0l.5 0l.5 0l.5-.1l.5 0l.5-.1l.5-.1l.5-.1l.5-.2l.5-.2l.5-.2l.5-2.1l.5 1.6l.5-.2l.5-.3l.5-.2l.5-1.9l.5 1.7l.5-.1l.5 .1l.5 .1l.5 .1l.5 .2l.5 .3l.5 .2l.5 .3l.5 .2l.5 .2l.5-.6l.5 .2l.5 .1l.5 .1l.5-1.5l.5 1.6l.5 .1l.5 0l.5 0l.5 0l.5 0l.5 0l.5 0l.5 0l.5 0l.5 0l.5 0l.5 0l.5 0l.5 0l.5-2.3l.5 2.3l.5 0l.5 0l.5 0l.5 0l.5 0l.5 0l.5 0l.5 0l.5 0l.5 0l.5 0l.5 0l.5 0l.5 0l.5 0l.5 0l.5 0l.5 0l.5 0l.5 0l.5 0l.5 .7l.5 0l.5 0l.5 0l.5 0l.5 0l.5 0l.5 0l.5 0l.5 0l.5 0l.5 0l.5 0l.5 0l.5 0l.5 0l.5 0l.5 0l.5 0l.5-.3l.5 0l.5 0l.5 0l.5 0l.5 0l.5 0l.5 0l.5 0l.5 0l.5 0l.5 0l.5 0l.5 0l.5 0l.5 0l.5 0l.5 0l.5 0l.5 0l.5 0l.5 0l.5 .7l.5 0l.5 2.1l.5-2.1l.5 0l.5 0l.5 0l.5 0l.5 0l.5 0l.5 0l.5 0l.5 0l.5 0l.5 0l.5 0l.5-.1l.5 0l.5-.1l.5 0l.5-.2l.5-.1l.5-.2l.5-.3l.5-.3l.5-.5l.5-.5l.5-2.2l.5 .9l.5-.8l.5-.8l.5-.9l.5-.8l.5-.8l.5-.8l.5-.6l.5-.5l.5-.8l.5-.1l.5 .1l.5 .3l.5 .5l.5 .6l.5 .8l.5 .8l.5 .9l.5 .8l.5 .8l.5 .8l.5 .7l.5 .5l.5 .4l.5 .2l.5 0l.5 1.3l.5-2.9l.5-1.9l.5-3l.5-4.6l.5-6.5l.5-8.6l.5-10.7l.5-12.6l.5-13.8l.5-14.1l.5-13l.5-10.6l.5-7l.5-2.5l.5 2.3l.5 6.7l.5 10.3l.5 12.6l.5 13.6l.5 13.3l.5 12l.5 9.8l.5 7.9l.5 5.8l.5 4l.5 2.6l.5 1.6l.5 1l.5 .7l.5 .5l.5 .5l.5 .6l.5 .6l.5 .7l.5 .7l.5 .7l.5 .6l.5 .7l.5 .5l.5 .4l.5 .4l.5 .3l.5 .2l.5 .1l.5 .1l.5 .1l.5 .1l.5 0l.5 0l.5 0l.5 0l.5 0l.5 0l.5 0l.5 0l.5 0l.5 0l.5 0l.5 0l.5 0l.5 0l.5 0l.5 0l.5-.2l.5 0l.5 0l.5 0l.5 0l.5 0l.5 0l.5 0l.5 0l.5 0l.5 0l.5-1.5l.5 1.5l.5 0l.5 0l.5 0l.5 0l.5 0l.5 0l.5 0l.5 .5l.5 0l.5 0l.5 0l.5 0l.5 0l.5 0l.5 0l.5 0l.5 0l.5 0l.5 0l.5 0l.5 0l.5 0l.5 0l.5 0l.5 0l.5 0l.5 0l.5 0l.5 0l.5 0l.5 0l.5-2l.5 2l.5 0l.5 0l.5 0l.5 0l.5 0l.5-.1l.5 0l.5 0l.5 0l.5 0l.5 0l.5 0l.5 0l.5 0l.5 0l.5 0l.5 0l.5 0l.5-.1l.5 0l.5 0l.5-.1l.5 0l.5 0l.5-.1l.5 0l.5 0l.5 0l.5-.1l.5 0l.5 0l.5-.1l.5 0l.5 0l.5-.1l.5 0l.5 0l.5 0l.5-.1l.5 0l.5 0l.5-.1l.5 0l.5 0l.5-.1l.5 .2l.5 0l.5 0l.5-.1l.5 0l.5 0l.5-.1l.5 0l.5 0l.5-.1l.5 0l.5 0l.5 0l.5-.1l.5 0l.5 0l.5-.1l.5 0l.5 0l.5-.1l.5 0l.5 0l.5 0l.5-.1l.5 0l.5 0l.5 1.7l.5-1.8l.5 0l.5-.1l.5 .2l.5-.1l.5 0l.5 0l.5 0l.5-.1l.5 0l.5 0l.5-.1l.5 1.8l.5-1.8l.5 2.2l.5-2.3l.5 0l.5 0l.5-.1l.5 0l.5 0l.5-.1l.5 1.1l.5-1.7l.5 0l.5-.1l.5 0l.5 0l.5 0l.5-.1l.5 0l.5-2l.5 1.9l.5 0l.5 0l.5-.1l.5 0l.5 0l.5 0l.5-.1l.5 0l.5 0l.5-.1l.5 0l.5 0l.5-.1l.5 0l.5 0l.5 0l.5-.1l.5-1.9l.5 1.9l.5-.1l.5 0l.5 0l.5-.1l.5 0l.5 0l.5 0"/>
<path stroke="#00008E" d="M241.0 1202.0l.5 0l.5 0l.5 0l.5 1.9l.5-1.9l.5 0l.5 0l.5 0l.5 0l.5 0l.5 0l.5 0l.5 0l.5 0l.5 1.8l.5-1.8l.5 0l.5 0l.5 0l.5 0l.5 0l.5 0l.5 0l.5 0l.5 0l.5 0l.5 0l.5 0l.5 0l.5 0l.5 0l.5 0l.5 0l.5 0l.5 0l.5 0l.5 0l.5 0l.5 0l.5 0l.5 0l.5 0l.5-2.3l.5 0l.5 0l.5 0l.5 0l.5 0l.5 0l.5 0l.5 0l.5 0l.5 0l.5 0l.5 0l.5 0l.5 0l.5 0l.5 .8l.5 0l.5 0l.5 0l.5 0l.5 0l.5 0l.5 0l.5 0l.5 0l.5 0l.5 0l.5 0l.5 0l.5 0l.5 0l.5 0l.5 0l.5 0l.5 0l.5-1.4l.5 0l.5 0l.5 0l.5 0l.5 0l.5 0l.5 0l.5 0l.5 2.2l.5 0l.5 0l.5 0l.5 0l.5 0l.5 0l.5 0l.5 0l.5 0l.5 0l.5 0l.5 0l.5 0l.5-.7l.5 0l.5 0l.5 0l.5 0l.5 0l.5 0l.5 0l.5 0l.5 0l.5 0l.5 0l.5 0l.5 0l.5 0l.5 0l.5 0l.5 0l.5 0l.5 0l.5 0l.5 0l.5 0l.5 0l.5 0l.5 0l.5 0l.5 0l.5 0l.5 0l.5 0l.5-.9l.5 0l.5 0l.5 0l.5 0l.5 0l.5 0l.5 0l.5 0l.5 0l.5 0l.5 0l.5 0l.5 0l.5 0l.5 0l.5 0l.5 0l.5 0l.5 0l.5-.4l.5 0l.5 0l.5 0l.5 0l.5 0l.5 0l.5 0l.5 0l.5 0l.5-.1l.5 0l.5 0l.5 0l.5 0l.5 0l.5 0l.5 1.7l.5-1.8l.5 0l.5 0l.5 0l.5-.1l.5 0l.5 0l.5-.1l.5 0l.5-.1l.5 0l.5 .9l.5 0l.5-.1l.5-.1l.5 0l.5-.1l.5-.1l.5 0l.5-.1l.5-.1l.5-.1l.5-.1l.5-.1l.5-.1l.5-.1l.5-2l.5 1.7l.5-.1l.5-.1l.5-.1l.5-.2l.5-.1l.5 1.7l.5-.1l.5-.2l.5-.1l.5-.2l.5-.1l.5-.2l.5-.2l.5-.1l.5-.2l.5-.1l.5 1.8l.5-2.1l.5-.1l.5-.2l.5-.1l.5-.1l.5-.2l.5-.1l.5-.1l.5-.1l.5-.1l.5-.1l.5-.1l.5 0l.5-.1l.5 0l.5-2.3l.5 2.2l.5 0l.5 0l.5-2.5l.5 0l.5 0l.5 0l.5 .1l.5 0l.5 .1l.5 0l.5 .1l.5 .1l.5 .1l.5 .1l.5 .1l.5 .1l.5 .1l.5 .1l.5 .1l.5 .1l.5 .1l.5 .2l.5 .1l.5 .1l.5 .1l.5 1.6l.5 .2l.5 .1l.5 .1l.5 .1l.5 .1l.5 .1l.5 .1l.5 .1l.5 .1l.5 .1l.5 .1l.5 .1l.5 .1l.5 0l.5 2.4l.5-2.2l.5-.7l.5 .1l.5 0l.5 .1l.5 0l.5 0l.5 0l.5 0l.5 .1l.5 0l.5-.1l.5 0l.5 0l.5 0l.5 .2l.5 0l.5 0l.5-.1l.5 0l.5 0l.5-.1l.5-1.8l.5 1.7l.5 0l.5-.1l.5 0l.5-.1l.5 0l.5-.1l.5 0l.5-.1l.5 0l.5-.1l.5 0l.5-.1l.5-.1l.5 0l.5-.1l.5 0l.5 0l.5-.1l.5 0l.5-.1l.5 0l.5 .5l.5 0l.5-2l.5 1.9l.5 0l.5 0l.5-.1l.5 0l.5 0l.5 0l.5 0l.5 0l.5 2.3l.5-2.3l.5 0l.5 0l.5 0l.5 0l.5 0l.5 0l.5 0l.5 .1l.5 0l.5 0l.5 0l.5 .1l.5 0l.5 .1l.5 0l.5 0l.5 .1l.5 0l.5 .1l.5 0l.5 .1l.5 0l.5 .1l.5-1l.5 .1l.5 0l.5 .1l.5 .1l.5 0l.5 .1l.5 .1l.5 0l.5 .1l.5 .1l.5 0l.5 .1l.5 .1l.5 0l.5 .1l.5 .1l.5 0l.5 .1l.5 .1l.5 0l.5 .1l.5 .1l.5-.1l.5 0l.5 .1l.5 .1l.5 0l.5 .1l.5 0l.5 .1l.5 0l.5 .1l.5 0l.5 .1l.5 0l.5 .1l.5 0l.5 .1l.5 0l.5 2.3l.5-2.2l.5 0l.5 .1l.5 0l.5 0l.5 .1l.5 0l.5 0l.5 .1l.5 0l.5 0l.5 .1l.5 0l.5 0l.5 0l.5 0l.5 .1l.5 0l.5 0l.5 0l.5 0l.5 .1l.5 0l.5 1.9l.5 0l.5 0l.5 .1l.5 0l.5 0l.5 0l.5 0l.5 0l.5 0l.5 0l.5 0l.5-2.1l.5 2.1l.5 .1l.5-.5l.5 0l.5 0l.5 0l.5 0l.5 0l.5 0l.5 0l.5 0l.5 0l.5 0l.5 0l.5 0l.5 0l.5 0l.5 0l.5 0l.5 0l.5 0l.5 0l.5 0l.5 0l.5 0l.5 0l.5 0l.5 0l.5 0l.5 0l.5 0l.5 0l.5 0l.5 0l.5 0l.5 0l.5 0l.5 0l.5 1.8l.5-1.8l.5-.4l.5 0l.5 0l.5 0l.5 0l.5 0l.5 0l.5 0l.5 0l.5 0l.5 0l.5 0l.5 0l.5 0l.5 0l.5 0l.5 0l.5 0l.5 0l.5 0l.5 0l.5 0l.5 0l.5 0l.5 0l.5 0l.5 0l.5 0l.5 0l.5 0l.5 0l.5 0l.5 0l.5 0l.5 0l.5 0l.5 0l.5-.9l.5 0l.5 0l.5 0l.5 0l.5 0l.5 0l.5 0l.5 0l.5 0l.5 0l.5 0l.5 0l.5 0l.5 0l.5 0l.5 0l.5 0l.5 0l.5 0l.5 0l.5 0l.5 0l.5 0l.5 0l.5 0l.5 0l.5 0l.5 0l.5 0l.5 0l.5 0l.5 0l.5 1.7l.5-1.7l.5 0l.5 0l.5 0l.5 0l.5 0l.5 0l.5 0l.5 0l.5 0l.5 0l.5 0l.5 0l.5 0l.5 0l.5 0l.5 0l.5 0l.5 0l.5 0l.5 0l.5 0l.5 0l.5 0l.5 0l.5 0l.5 0l.5 0l.5 0l.5 0l.5 0l.5 0l.5 0l.5 0l.5 0l.5 0l.5 0l.5 0l.5 .6l.5-1.7l.5 1.7l.5 0l.5 0l.5 0l.5 0l.5 0l.5 0l.5 0l.5 0l.5 0l.5 0l.5 0l.5 .1l.5 0l.5 0l.5 0l.5 0l.5 0l.5 0l.5 0l.5 0l.5 0l.5 0l.5 0l.5 0l.5 0l.5 0l.5 0l.5 0l.5 0l.5 0l.5 0l.5 0l.5 0l.5 .3l.5 0l.5 0l.5 0l.5 0l.5 0l.5 0l.5 0l.5 0l.5 0l.5 0l.5 0l.5 0l.5 .2l.5 0l.5 0l.5 0l.5 0l.5 0l.5 0l.5 0l.5 0l.5 0l.5 0l.5 .3l.5 0l.5 0l.5 0l.5 0l.5 0l.5 0l.5 0l.5 0l.5 0l.5 0l.5 0l.5 0l.5 0l.5-.7l.5 0l.5 0l.5 0l.5 0l.5 0l.5 0l.5 0l.5 0l.5 0l.5 0l.5 0l.5 0l.5 0l.5 0l.5 0l.5 0l.5-.6l.5 0l.5 0l.5 0l.5 0l.5 0l.5 0l.5 0l.5 0l.5 0l.5 0l.5 0l.5 0l.5 0l.5 0l.5 0l.5 0l.5 0l.5 0l.5 0l.5 0l.5 0l.5 0l.5 0l.5 0l.5 0l.5 0l.5 0l.5 0l.5 0l.5 0l.5 0l.5 0l.5 0l.5 0l.5 0l.5 0l.5 0l.5 0l.5 0l.5 0l.5-.2l.5 0l.5 0l.5 0l.5 0l.5 0l.5 0l.5 0l.5 0l.5 0l.5 0l.5 0l.5 0l.5 0l.5 0l.5 0l.5 0l.5 0l.5 0l.5 0l.5-.1l.5-.1l.5-.2l.5-.4l.5-.8l.5-1.3l.5-2.3l.5-3.6l.5-4.8l.5-7.4l.5-9.5l.5-11.4l.5-12.5l.5-12.5l.5-11l.5-8.3l.5-4.7l.5-.6l.5 2.7l.5 5.2l.5 6.2l.5 5.9l.5 4.7l.5 3l.5 1.5l.5 .6l.5 .2l.5 .5l.5 1.6l.5 2.7l.5 3.9l.5 4.8l.5 5.4l.5 5.7l.5 5.5l.5 5l.5 4.5l.5 3.8l.5 3.2l.5 2.7l.5 2.1l.5 1.7l.5 1.4l.5 1.2l.5 1l.5 .9l.5 .7l.5 .7l.5 .5l.5 .5l.5 .4l.5 .3l.5 .3l.5 .2l.5 .2l.5 .1l.5 .1l.5 .1l.5 0l.5 .1l.5 0l.5 0l.5 .1l.5 0l.5 0l.5-.5l.5 0l.5 0l.5 0l.5 0l.5 0l.5 0l.5 0l.5 0l.5 0l.5 0l.5 0l.5 0l.5 0l.5 0l.5 0l.5 0l.5 0l.5 0l.5 0l.5 0l.5 0l.5 0l.5 0l.5 0l.5 0l.5 0l.5 0l.5 0l.5 0l.5 0l.5 0l.5 0l.5 0l.5 0l.5 0l.5 2.3l.5-2.3l.5 0l.5 0l.5 .3l.5 0l.5 0l.5 0l.5 0l.5 0l.5 0l.5 0l.5 0l.5 0l.5 0l.5 0l.5 0l.5 0l.5 0l.5 0l.5 0l.5 0l.5 0l.5 0l.5 0l.5 0l.5 0l.5 0l.5 0l.5 0l.5 0l.5 0l.5 0l.5 0l.5 0l.5 0l.5 0l.5 0l.5 0l.5 0l.5 0l.5 0l.5 .4l.5 0l.5 0l.5 0l.5 0l.5 0l.5 0l.5-1.5l.5 1.5l.5 0l.5 0l.5 1.5l.5-1.5l.5 0l.5 0l.5 0l.5 0l.5 0l.5 0l.5 0l.5 0l.5 0l.5 0l.5 0l.5 0l.5 0l.5 0l.5 0l.5 0l.5 0l.5 0l.5 0l.5 0l.5 0l.5 0l.5 1.1l.5 0l.5 0l.5 0l.5 0l.5 0l.5 0l.5 0l.5 0l.5 0l.5 0l.5 0l.5 0l.5 0l.5 0l.5 0l.5 0l.5 0l.5 0l.5 0l.5 0l.5 0l.5 0l.5 0l.5 0l.5 0l.5 0l.5 0l.5 0l.5-.8l.5 0l.5 0l.5 0l.5 0l.5 0l.5 0l.5 0l.5 0l.5 0l.5 0l.5 0l.5 0l.5 0l.5 0l.5-.4l.5 0l.5 0l.5 0l.5-2.2l.5 2.2l.5 0l.5 0l.5 0l.5-1.5l.5 1.5l.5 0l.5 0l.5 0l.5 0l.5 0l.5 0l.5 0l.5 0l.5 0l.5 0l.5 0l.5 0l.5 0l.5 0l.5 .3l.5 0l.5 0l.5 0l.5 0l.5 0l.5 0l.5 0l.5 0l.5 1.9l.5-1.9l.5 0l.5 0l.5 0l.5 0l.5 0l.5 0l.5 0l.5 0l.5 0l.5 0l.5 0l.5 0l.5 0l.5 0l.5 0l.5 0l.5 0l.5 0l.5 .1l.5 0l.5 0l.5 0l.5 0l.5 0l.5 0l.5 0l.5 0l.5 0l.5-1.5l.5 1.5l.5 0l.5 0l.5 0l.5 0l.5 0l.5 0l.5 0l.5 0l.5 0l.5-.1l.5 0l.5-.1l.5-.1l.5-.1l.5 1.3l.5-1.7l.5-.2l.5-1l.5-.3l.5-.2l.5-.3l.5-.2l.5-.1l.5-.1l.5-.1l.5 .1l.5 .1l.5 .1l.5 .2l.5 .3l.5 .2l.5 .3l.5 .2l.5 .2l.5 .2l.5 .2l.5 1.3l.5 .1l.5 .1l.5 0l.5 0l.5 .1l.5 0l.5 0l.5 0l.5 0l.5 0l.5 0l.5 0l.5 0l.5 0l.5 0l.5 0l.5 0l.5 0l.5 0l.5 0l.5 0l.5 0l.5 0l.5 0l.5 0l.5 0l.5 0l.5 0l.5-.8l.5 0l.5 0l.5 0l.5 0l.5 0l.5-.1l.5 0l.5 0l.5 0l.5 0l.5 0l.5 0l.5 0l.5 0l.5-.1l.5 0l.5 0l.5 0l.5 0l.5 0l.5 0l.5 0l.5 0l.5 0l.5 0l.5 0l.5 0l.5-.1l.5 0l.5-.1l.5 0l.5-.1l.5-.1l.5-.2l.5-.1l.5-.2l.5 1.3l.5-1.6l.5-.2l.5-.2l.5-.1l.5-.1l.5 0l.5 .1l.5 0l.5 .2l.5 0l.5 .2l.5 .2l.5 .2l.5 .2l.5 .1l.5 .2l.5 .1l.5 .1l.5 .1l.5 .1l.5 0l.5 .1l.5 .3l.5 .1l.5 0l.5 0l.5 0l.5 0l.5 0l.5 0l.5-.1l.5 0l.5 0l.5-.1l.5 0l.5-.1l.5-.2l.5-.2l.5-.2l.5-.3l.5-.4l.5-.5l.5-.4l.5-.7l.5-.7l.5 1.3l.5-2.8l.5-.8l.5-.7l.5-.7l.5-.5l.5-.5l.5-.2l.5 2.1l.5-2.1l.5 .2l.5 .5l.5 .5l.5 .5l.5 .8l.5 .7l.5 .8l.5 .8l.5 .6l.5 .6l.5 .5l.5 .4l.5 .2l.5-.2l.5-.4l.5-1.1l.5-1.9l.5-3.1l.5-4.6l.5-5.7l.5-8.6l.5-10.7l.5-12.6l.5-13.8l.5-14.1l.5-13l.5-10.6l.5-7l.5-2.5l.5 2.2l.5 6.4l.5 10.3l.5 12.7l.5 13.6l.5 13.3l.5 12l.5 10l.5 7.9l.5 5.9l.5 4l.5 2.6l.5 1.6l.5 1l.5 .7l.5 .5l.5 .1l.5 .6l.5 .6l.5 .7l.5 .7l.5 .7l.5 .7l.5 .6l.5 .5l.5 .5l.5 .3l.5 .3l.5 .2l.5 .2l.5 .1l.5 .1l.5 0l.5-.1l.5 0l.5 0l.5 0l.5 0l.5 0l.5 0l.5 0l.5 0l.5 0l.5 0l.5 0l.5 0l.5 0l.5 0l.5 0l.5 0l.5 0l.5 0l.5 0l.5 0l.5 0l.5 0l.5 0l.5 0l.5 0l.5 0l.5 .3l.5 2.4l.5-2.4l.5 0l.5 0l.5 0l.5 0l.5 0l.5 0l.5 0l.5 0l.5 0l.5 0l.5 0l.5 0l.5 0l.5 2.2l.5-2.2l.5 0l.5 0l.5 0l.5 0l.5 0l.5 0l.5 0l.5 .1l.5 0l.5-1.5l.5 1.5l.5 0l.5 0l.5 0l.5 0l.5 0l.5 0l.5 0l.5-.8l.5 0l.5 0l.5 0l.5 0l.5 0l.5 0l.5 0l.5 0l.5 0l.5 0l.5 0l.5 0l.5 0l.5 0l.5 0l.5-.1l.5 0l.5 0l.5-.1l.5 0l.5 0l.5 .8l.5 0l.5 0l.5-.1l.5 0l.5 0l.5-.1l.5 2.2l.5-2.2l.5 0l.5-.1l.5 0l.5 0l.5-.1l.5 0l.5 0l.5-.1l.5 0l.5 0l.5 0l.5-.1l.5 0l.5 0l.5-.1l.5 0l.5 0l.5-.1l.5 0l.5-.7l.5 0l.5 0l.5-.1l.5 0l.5 0l.5-.1l.5 0l.5 0l.5-.1l.5 0l.5 0l.5 0l.5-.1l.5 0l.5 0l.5-.1l.5 0l.5 0l.5-.1l.5 0l.5 0l.5-.4l.5-.1l.5 1.8l.5-1.8l.5-.1l.5 0l.5 0l.5 0l.5-.1l.5 0l.5 0l.5-.1l.5 0l.5 0l.5-.1l.5 0l.5 1.1l.5-.1l.5 0l.5 0l.5 0l.5-.1l.5 0l.5 0l.5-.1l.5 0l.5 0l.5 2.2l.5-3.8l.5 1.5l.5 0l.5-.1l.5 0l.5 0l.5-.1l.5 0l.5 0l.5-.1l.5 0l.5 0l.5 0l.5-.1l.5 0l.5 0l.5-.1l.5 0l.5-.4l.5 0l.5 0l.5 0l.5-.1l.5 0l.5 0l.5-.1l.5 0l.5 0l.5-.1l.5 0"/>
<path stroke="#000071" d="M241.0 1244.4l.5 0l.5 0l.5 0l.5 0l.5 0l.5 0l.5 0l.5 0l.5 0l.5 0l.5 0l.5 0l.5 0l.5 0l.5 0l.5 0l.5 0l.5 0l.5 0l.5 0l.5 0l.5 0l.5 0l.5 0l.5 0l.5 0l.5 0l.5 0l.5 0l.5 0l.5 0l.5 0l.5 0l.5 0l.5 0l.5 0l.5 0l.5 0l.5 0l.5 2.4l.5 0l.5 0l.5 0l.5 0l.5 0l.5 0l.5 0l.5 0l.5 0l.5 0l.5 0l.5 0l.5 0l.5 0l.5 0l.5 0l.5 0l.5 0l.5 0l.5 0l.5 0l.5 0l.5 0l.5 0l.5 0l.5 0l.5 0l.5 0l.5 0l.5 0l.5 0l.5 0l.5 0l.5 0l.5 0l.5 0l.5 0l.5 0l.5 0l.5 0l.5 0l.5-1.3l.5 0l.5 0l.5 0l.5 0l.5 0l.5 0l.5 0l.5 0l.5 0l.5 0l.5-1.7l.5 1.7l.5 0l.5 0l.5 0l.5 0l.5 0l.5 0l.5 0l.5-1l.5 0l.5 0l.5 0l.5 0l.5 0l.5 0l.5 0l.5 0l.5 0l.5 0l.5 0l.5 0l.5 0l.5 .9l.5 0l.5 0l.5 0l.5 0l.5 0l.5 0l.5 0l.5 0l.5 0l.5 0l.5 0l.5 0l.5 0l.5 0l.5 0l.5 0l.5 0l.5 2.1l.5-2.1l.5-.6l.5 0l.5 0l.5 0l.5 0l.5 0l.5 0l.5 0l.5 0l.5 0l.5 0l.5 0l.5 0l.5 0l.5 0l.5 0l.5 0l.5 0l.5 0l.5 0l.5 0l.5 0l.5-.1l.5 0l.5 0l.5 0l.5 0l.5 0l.5-.1l.5 0l.5 0l.5 0l.5 1l.5 0l.5-.1l.5 0l.5 0l.5-.1l.5-.1l.5 0l.5-.1l.5-.1l.5 0l.5-.1l.5-.1l.5-.1l.5-.1l.5-.1l.5-.2l.5-.1l.5-.1l.5-.2l.5 .3l.5 1.9l.5-2.3l.5-.2l.5-.2l.5-.2l.5-.2l.5-.3l.5-.2l.5-.2l.5-.3l.5-2.1l.5 1.5l.5-.2l.5-.3l.5-.3l.5-.3l.5-.4l.5-.3l.5-.3l.5-.3l.5-.4l.5 .4l.5-.3l.5-.3l.5-.4l.5-.3l.5-.3l.5-.3l.5-.3l.5-.3l.5-.3l.5-.3l.5-.3l.5-.2l.5-.2l.5-.3l.5-.2l.5-.2l.5-.1l.5-.2l.5-.1l.5-.1l.5-.1l.5-.1l.5 0l.5-.1l.5-3.2l.5 .1l.5 0l.5 .1l.5 0l.5 .1l.5 .1l.5 .2l.5 .1l.5 .2l.5 .2l.5 .2l.5 .2l.5 .2l.5 .2l.5 .3l.5-.2l.5 .3l.5 .3l.5 .2l.5 .3l.5-1.3l.5 1.8l.5 .3l.5 .3l.5 .2l.5 .3l.5 .2l.5 .3l.5 .2l.5 .2l.5 .2l.5 .3l.5 .1l.5 .2l.5 .2l.5 .2l.5 .1l.5 .1l.5 .2l.5 .1l.5 .1l.5 .1l.5 0l.5 .1l.5 0l.5 .1l.5 0l.5 0l.5 0l.5 0l.5-.1l.5 0l.5 0l.5-.1l.5 0l.5-.1l.5-.1l.5-.1l.5-.1l.5 .2l.5-.1l.5-.1l.5-.1l.5-.1l.5-.1l.5-.1l.5-.1l.5-.2l.5-.1l.5-.1l.5-.1l.5-.1l.5-.2l.5-.1l.5-.1l.5-.1l.5-.1l.5-.1l.5-.1l.5-.1l.5-.1l.5-.1l.5-.1l.5-.1l.5-.1l.5 0l.5-.1l.5-.1l.5 0l.5-.1l.5 0l.5-.1l.5 0l.5 0l.5 0l.5 0l.5 1.6l.5 0l.5 0l.5 0l.5 0l.5 .1l.5 0l.5 .1l.5 0l.5 .1l.5 0l.5 .1l.5 .1l.5 .1l.5 0l.5 .1l.5 .1l.5 .1l.5 .1l.5 .2l.5 .1l.5 .1l.5 .1l.5 .1l.5 .2l.5 .1l.5 .2l.5 2.4l.5 .2l.5 .1l.5 .1l.5 .2l.5 .1l.5 .2l.5-1.7l.5 2l.5 .1l.5 .2l.5 .1l.5 .2l.5 .1l.5 .2l.5 .1l.5 .2l.5 .1l.5 .2l.5 .1l.5 .2l.5 .1l.5 .1l.5 .2l.5 .1l.5 .1l.5 .2l.5 .1l.5 .1l.5 .1l.5 .1l.5 .1l.5 .2l.5 .1l.5 .1l.5 2.1l.5-1.9l.5 0l.5 .1l.5 .1l.5 .1l.5 .1l.5 .1l.5 0l.5-1.6l.5 .1l.5 .1l.5 0l.5 .1l.5 .1l.5 0l.5 .1l.5 0l.5 .1l.5 0l.5 .1l.5 0l.5 0l.5 .1l.5 0l.5-2.3l.5 2.4l.5 0l.5 0l.5 .1l.5 0l.5 0l.5 0l.5 0l.5 .1l.5 0l.5 0l.5 0l.5 0l.5 0l.5 0l.5 0l.5 0l.5 0l.5 0l.5 .1l.5 0l.5 0l.5 1.7l.5-1.7l.5 0l.5 0l.5 0l.5 0l.5 0l.5 0l.5 0l.5 0l.5 0l.5 0l.5 0l.5 0l.5 0l.5 0l.5 0l.5 0l.5-1.5l.5 1.5l.5 0l.5 0l.5 0l.5 0l.5 .1l.5 0l.5 0l.5 .6l.5 0l.5 0l.5 0l.5 0l.5 0l.5 0l.5 0l.5 0l.5 0l.5 0l.5 0l.5 0l.5 0l.5 0l.5 0l.5 0l.5 0l.5 0l.5 0l.5 0l.5 0l.5 0l.5-1.9l.5 1.9l.5 0l.5 0l.5 0l.5 0l.5 0l.5 0l.5 0l.5 0l.5 0l.5 0l.5 0l.5 0l.5 0l.5 0l.5 0l.5-1.4l.5 0l.5 0l.5 0l.5 0l.5 0l.5 0l.5 0l.5 0l.5 0l.5 0l.5 0l.5 0l.5 0l.5 0l.5 0l.5 0l.5 0l.5 0l.5 0l.5 0l.5 0l.5 0l.5 0l.5 0l.5 0l.5 0l.5 0l.5 0l.5 0l.5 0l.5 0l.5 0l.5 0l.5-.3l.5 0l.5 0l.5 0l.5 0l.5 0l.5 0l.5 0l.5 0l.5 0l.5 0l.5 0l.5 0l.5 0l.5 0l.5 0l.5 0l.5 0l.5 0l.5 0l.5 0l.5 0l.5 .4l.5 0l.5 0l.5 0l.5 0l.5-1.5l.5 1.5l.5 0l.5 0l.5 0l.5 0l.5 0l.5 0l.5 0l.5 0l.5 0l.5 0l.5 0l.5 0l.5 0l.5 0l.5 0l.5 0l.5 0l.5 0l.5 0l.5 0l.5 0l.5 0l.5 0l.5 0l.5 0l.5 0l.5 0l.5 0l.5 0l.5 .3l.5 0l.5 0l.5 0l.5 0l.5 0l.5 0l.5 0l.5 0l.5 0l.5 1.8l.5-1.8l.5 0l.5 0l.5 0l.5 0l.5 0l.5 0l.5 0l.5 0l.5 0l.5 0l.5 0l.5 0l.5 0l.5 0l.5 0l.5 0l.5 0l.5 0l.5-.7l.5 0l.5 0l.5 0l.5 0l.5 0l.5 0l.5 0l.5 0l.5 0l.5 0l.5 0l.5 0l.5 0l.5 0l.5 0l.5 0l.5 0l.5 0l.5 0l.5 0l.5 0l.5 0l.5 0l.5-1.9l.5 3.7l.5-1.8l.5 1.9l.5-1.9l.5 .8l.5 0l.5 0l.5 0l.5 0l.5 0l.5 0l.5 0l.5 0l.5 0l.5 0l.5 0l.5 0l.5 0l.5 0l.5 0l.5 0l.5 0l.5 0l.5 0l.5 0l.5 0l.5 0l.5 0l.5 0l.5 0l.5 0l.5 0l.5 0l.5 0l.5 0l.5 0l.5 0l.5 0l.5 0l.5 0l.5 0l.5 0l.5 0l.5 0l.5 0l.5 0l.5 0l.5-1.3l.5 0l.5 0l.5 0l.5 0l.5 0l.5 0l.5 0l.5 0l.5 0l.5 0l.5 0l.5 0l.5 0l.5 0l.5 0l.5 0l.5 0l.5 0l.5 0l.5 0l.5 0l.5 0l.5 0l.5 0l.5 0l.5 0l.5 0l.5 0l.5 0l.5-.1l.5 0l.5-.1l.5 .5l.5-.4l.5-.8l.5-1.3l.5-2.3l.5-3.6l.5-5.3l.5-7.4l.5-9.6l.5-11.4l.5-12.5l.5-12.5l.5-11l.5-7.8l.5-4.6l.5-.7l.5 2.8l.5 5.1l.5 6.2l.5 5.9l.5 4.7l.5 3l.5 1.6l.5 .5l.5 .3l.5 .6l.5 1.6l.5 2.7l.5 3.9l.5 4.8l.5 5.7l.5 5.6l.5 5.5l.5 5l.5 4.5l.5 3.8l.5 3.2l.5 2.7l.5 2.1l.5 1.7l.5 1.4l.5 1.2l.5 1l.5 .8l.5 .8l.5 .6l.5 .6l.5 .4l.5 .4l.5 .3l.5 .3l.5 .2l.5 .2l.5 .1l.5 .1l.5 .1l.5 .1l.5 0l.5 .1l.5 0l.5 0l.5 0l.5 0l.5 0l.5 0l.5 0l.5 0l.5 0l.5 0l.5 0l.5 0l.5 0l.5 1.7l.5-1.7l.5 0l.5 0l.5 0l.5 0l.5 0l.5 .3l.5 0l.5 0l.5 0l.5 0l.5 0l.5 0l.5 0l.5 0l.5 0l.5 0l.5 0l.5 0l.5 0l.5 0l.5 0l.5 0l.5 0l.5 0l.5 0l.5 0l.5 0l.5 0l.5 0l.5 0l.5 0l.5 0l.5 0l.5 0l.5 0l.5 0l.5 0l.5 0l.5 0l.5 0l.5 0l.5 0l.5 0l.5 0l.5-.7l.5 0l.5 0l.5 0l.5 0l.5 0l.5 0l.5 0l.5 0l.5 .9l.5 0l.5 0l.5 0l.5 0l.5 0l.5 0l.5 0l.5 0l.5 0l.5 0l.5-2.1l.5 2.1l.5 0l.5 0l.5-.5l.5 0l.5 2.4l.5-2.4l.5 0l.5 0l.5 0l.5 0l.5 0l.5 0l.5 0l.5 0l.5 0l.5 0l.5 0l.5 0l.5 0l.5 0l.5 0l.5-.9l.5 0l.5 0l.5 0l.5 0l.5 0l.5 0l.5 0l.5 0l.5 0l.5 0l.5 0l.5 0l.5 0l.5 0l.5 0l.5 0l.5 0l.5 0l.5 0l.5 0l.5 0l.5 0l.5 0l.5 0l.5 0l.5 0l.5 0l.5 0l.5 0l.5 0l.5 0l.5 0l.5 0l.5 .8l.5 0l.5 0l.5 0l.5 0l.5 0l.5 0l.5 0l.5 0l.5 0l.5 0l.5 0l.5 0l.5-2.4l.5 2.4l.5 0l.5 0l.5 0l.5 0l.5 0l.5 0l.5 0l.5 0l.5 0l.5 0l.5 0l.5 0l.5 0l.5 0l.5 0l.5 0l.5 0l.5 0l.5 0l.5 0l.5 0l.5 0l.5 0l.5 0l.5 .4l.5 0l.5 0l.5 0l.5 0l.5 0l.5 0l.5 0l.5 0l.5 0l.5 0l.5 0l.5 0l.5 0l.5 0l.5 0l.5 0l.5 0l.5 0l.5 0l.5 0l.5 0l.5 0l.5 0l.5 0l.5 0l.5 0l.5 0l.5 0l.5 0l.5 0l.5-.3l.5 0l.5 0l.5 0l.5 0l.5 0l.5 0l.5 0l.5 0l.5 0l.5 0l.5 0l.5 0l.5 0l.5 0l.5 0l.5 0l.5 0l.5 0l.5 0l.5 0l.5-.3l.5 0l.5 0l.5 0l.5 0l.5-.1l.5 0l.5 0l.5 0l.5 1.9l.5-2l.5-.1l.5-.1l.5-.1l.5-.2l.5-.1l.5-.3l.5-2l.5 1.5l.5-.2l.5-.2l.5-.2l.5-.2l.5-.1l.5 0l.5 0l.5 .1l.5 .2l.5 .2l.5 .2l.5 .2l.5 .3l.5 .2l.5 .3l.5 .1l.5 .2l.5 .1l.5 .1l.5 .1l.5 .1l.5 0l.5 0l.5-1.8l.5 2.2l.5 0l.5 0l.5 0l.5 0l.5 0l.5 0l.5 0l.5 0l.5 0l.5 0l.5 0l.5 0l.5 0l.5-.1l.5 0l.5 0l.5 0l.5-.1l.5 0l.5 0l.5-.1l.5 0l.5-.1l.5-.1l.5-.1l.5-.1l.5 0l.5-.1l.5-.2l.5-.1l.5-.1l.5-.1l.5-.1l.5-.1l.5-.2l.5-.1l.5-.1l.5-.1l.5-.1l.5-.1l.5 0l.5 .3l.5-.1l.5 0l.5-.1l.5 0l.5-.1l.5-.1l.5-.1l.5-.3l.5-.3l.5-.5l.5-.7l.5-.9l.5-1.2l.5-1.4l.5-1.6l.5-1.8l.5-.2l.5-3.5l.5-1.8l.5-1.5l.5-1.2l.5-.7l.5-.5l.5 .4l.5 .8l.5 1.4l.5 1.7l.5 1.9l.5 2l.5 2.1l.5 1.9l.5 1.8l.5 1.5l.5 1.3l.5 1l.5 .8l.5 .6l.5 .5l.5 .3l.5 .2l.5 .1l.5 .1l.5 0l.5 .1l.5 0l.5-.1l.5 0l.5 0l.5-.1l.5-.1l.5 0l.5-.1l.5-.2l.5-.1l.5-.2l.5-.1l.5-.3l.5-.2l.5-.3l.5-.3l.5-.3l.5-.4l.5-.3l.5-.4l.5-.5l.5 1.1l.5-2l.5-.5l.5-.5l.5-.5l.5-.5l.5-.5l.5-.5l.5-.4l.5-.4l.5-.3l.5-.3l.5-.2l.5-.2l.5-.1l.5-.1l.5 0l.5 .1l.5 0l.5 .1l.5-.2l.5-.4l.5-3.1l.5 1l.5-2.8l.5-4.2l.5-6l.5-8.1l.5-10.3l.5-12.1l.5-13.3l.5-13.6l.5-12.6l.5-10.2l.5-6.6l.5-2.1l.5 2.6l.5 7l.5 10.5l.5 12.9l.5 13.8l.5 13.5l.5 12.1l.5 10.3l.5 8.1l.5 5.9l.5 4.1l.5 2.7l.5 1.7l.5 1l.5 .7l.5 .5l.5 .6l.5 .6l.5 .6l.5 .7l.5 .7l.5 .7l.5 .7l.5 .6l.5-.1l.5 .4l.5 .4l.5 .3l.5 .2l.5 .1l.5 .2l.5 0l.5 .1l.5 0l.5 0l.5 0l.5 0l.5 0l.5 0l.5 .1l.5 0l.5-.8l.5 0l.5 0l.5-1.7l.5 1.7l.5 0l.5 0l.5 0l.5 0l.5 0l.5 0l.5 0l.5 1l.5 0l.5 0l.5 0l.5 0l.5 0l.5 0l.5 0l.5 0l.5 0l.5 0l.5 0l.5 0l.5 0l.5 0l.5 0l.5 0l.5 0l.5 0l.5 0l.5 0l.5 0l.5 0l.5 0l.5 0l.5 0l.5 0l.5 0l.5 0l.5 0l.5 0l.5 0l.5 0l.5 0l.5 0l.5 0l.5 0l.5 0l.5 0l.5 0l.5 0l.5 0l.5 0l.5 0l.5-.8l.5 0l.5 0l.5 0l.5 0l.5 0l.5 0l.5 0l.5 0l.5 0l.5 0l.5 0l.5 0l.5 0l.5 0l.5 0l.5 .1l.5 0l.5 0l.5 0l.5 0l.5 0l.5 0l.5 0l.5 0l.5 0l.5 0l.5 0l.5 0l.5 0l.5 0l.5 0l.5 0l.5 0l.5 1.9l.5-1.9l.5 0l.5 0l.5 0l.5 0l.5 0l.5 0l.5 0l.5 0l.5 0l.5 0l.5 0l.5 0l.5 0l.5 0l.5 0l.5 0l.5 0l.5 0l.5 0l.5-.1l.5 0l.5 0l.5 0l.5 0l.5 0l.5 0l.5 0l.5 0l.5 0l.5 0l.5 0l.5 0l.5 0l.5 0l.5 0l.5 0l.5 0l.5 0l.5 0l.5 0l.5 0l.5 0l.5 0l.5 0l.5-.5l.5 0l.5 0l.5 0l.5 0l.5 0l.5 2.3l.5-2.3l.5 0l.5 0l.5 0l.5 0l.5 0l.5 0l.5 0l.5 0l.5 0l.5 0l.5 0l.5 0l.5 0l.5 0l.5 0l.5 0l.5 0l.5 0l.5 0l.5 0l.5 1.1l.5 0l.5 0l.5 0l.5 0l.5 0l.5 0l.5 0l.5 0l.5 0l.5 0l.5 0l.5 0l.5 0l.5 0l.5 0l.5 0l.5 0l.5 0l.5 0l.5 0"/>
<path stroke="#000055" d="M241.0 1290.1l.5 0l.5 0l.5 0l.5 0l.5 0l.5 0l.5 0l.5 0l.5 0l.5 0l.5 0l.5 0l.5 0l.5 0l.5 0l.5 0l.5 0l.5 0l.5 0l.5 0l.5 0l.5 0l.5 0l.5 0l.5 0l.5 0l.5 0l.5 0l.5 0l.5 0l.5 0l.5 0l.5 0l.5-.2l.5 0l.5 0l.5 0l.5 0l.5 0l.5 0l.5 0l.5 0l.5 0l.5 1.3l.5-1.3l.5 0l.5 0l.5 0l.5 0l.5 0l.5 0l.5 0l.5 0l.5 0l.5 0l.5 0l.5 0l.5 0l.5 0l.5 0l.5 0l.5 0l.5-1.5l.5 1.5l.5 0l.5 0l.5 0l.5 0l.5 0l.5 0l.5 0l.5 0l.5 0l.5 0l.5 0l.5 1.5l.5 0l.5 0l.5 0l.5 0l.5 0l.5 0l.5 0l.5 0l.5 0l.5 0l.5 0l.5 0l.5 0l.5 0l.5 0l.5 0l.5 0l.5 0l.5 0l.5 0l.5 0l.5 0l.5 0l.5 0l.5 0l.5 0l.5 0l.5 0l.5 0l.5 0l.5 0l.5 0l.5 0l.5 0l.5 0l.5 0l.5 0l.5-.9l.5 0l.5 1.7l.5-1.7l.5 0l.5 0l.5 0l.5 0l.5 0l.5 0l.5 0l.5-1.5l.5 1.5l.5 0l.5 0l.5 0l.5 0l.5 0l.5 0l.5 0l.5 0l.5 0l.5 0l.5 0l.5 0l.5 0l.5 0l.5 0l.5 0l.5 0l.5 0l.5 0l.5 0l.5 0l.5 0l.5 0l.5-.1l.5 .3l.5 0l.5 0l.5-.1l.5 0l.5 0l.5 0l.5 0l.5 0l.5-.1l.5 0l.5 0l.5-.1l.5 0l.5-1l.5 0l.5-.1l.5 0l.5-.1l.5-.1l.5-.1l.5-.1l.5-.1l.5-.1l.5-.1l.5-.1l.5-.2l.5-.1l.5-.2l.5-.2l.5-.2l.5-.2l.5-.3l.5-.2l.5-.3l.5-.3l.5-.3l.5-.3l.5-.3l.5-.7l.5-.4l.5-1.8l.5 1l.5-.5l.5-.4l.5-.5l.5-.5l.5-.5l.5-.6l.5-.5l.5-.6l.5-.6l.5-.6l.5-.6l.5-.7l.5-.6l.5-.6l.5-.7l.5-.7l.5-.6l.5-.7l.5-.6l.5-.7l.5-.7l.5-.6l.5-.6l.5-.6l.5-.6l.5-.6l.5-.6l.5-1.3l.5-.5l.5-.4l.5-.5l.5-.4l.5-.4l.5-.3l.5-.3l.5-.3l.5-.2l.5-.2l.5-.2l.5-.1l.5 0l.5 0l.5 0l.5 .1l.5 .1l.5 1.8l.5 .2l.5 .2l.5 .2l.5 .3l.5 .4l.5 .3l.5 .4l.5 .4l.5 .5l.5 .4l.5 .5l.5 .5l.5 .5l.5 .5l.5 .5l.5 .6l.5 .5l.5 .5l.5 .5l.5 .5l.5 .6l.5 .4l.5 .5l.5 .5l.5 .5l.5 .5l.5 .4l.5 .4l.5 .3l.5 .4l.5 .3l.5 .3l.5 .3l.5 .2l.5 .2l.5 .2l.5 .2l.5 .1l.5 .2l.5 1.5l.5-1.4l.5 1.8l.5-1.8l.5 0l.5 0l.5-.1l.5 0l.5-.1l.5-.2l.5-.1l.5-1.5l.5-.2l.5-.1l.5-.2l.5-.3l.5-.2l.5-.2l.5-.3l.5-.2l.5-.3l.5-.2l.5 1.8l.5-.3l.5-.3l.5-.3l.5-.2l.5-.3l.5-.3l.5-.2l.5-.3l.5-.3l.5-.2l.5-.3l.5-.2l.5-.3l.5-.1l.5-.2l.5-.2l.5-.2l.5-.2l.5-.2l.5-.2l.5-.1l.5-.1l.5-.2l.5-.1l.5-.1l.5 0l.5 1.5l.5-1.7l.5 0l.5 0l.5 0l.5 0l.5 0l.5 0l.5 .1l.5 .1l.5 0l.5-.8l.5 .1l.5 .1l.5 .2l.5 .1l.5 .2l.5 .2l.5 .2l.5 .2l.5 .2l.5 .2l.5-.1l.5 .3l.5 .2l.5 .3l.5 .3l.5 .3l.5 .3l.5 .3l.5 .3l.5 .3l.5 .3l.5 .3l.5 .3l.5 .4l.5 .3l.5-.5l.5 .3l.5 .4l.5 .3l.5 .3l.5 .4l.5 .3l.5 .3l.5 .4l.5 .3l.5 .3l.5 .4l.5 .3l.5 .3l.5 .3l.5 .3l.5 .3l.5 .3l.5 .3l.5 .3l.5 .3l.5 .2l.5 .3l.5 .3l.5 .2l.5 .3l.5 .2l.5 .2l.5 .7l.5 .2l.5 .3l.5 .2l.5 .2l.5 .2l.5 .1l.5 .2l.5 .2l.5 .2l.5 .1l.5 .2l.5 .1l.5 .2l.5 .1l.5 .1l.5 .1l.5 .2l.5 .1l.5 .1l.5 .1l.5 .1l.5 .1l.5 .1l.5 0l.5 .1l.5 .1l.5 .1l.5 0l.5 .1l.5 .5l.5 1.6l.5-1.5l.5 0l.5 .1l.5 0l.5 .1l.5 0l.5 .1l.5 0l.5 0l.5 0l.5 .1l.5 .1l.5 0l.5 0l.5 0l.5 .1l.5 0l.5 0l.5 0l.5 0l.5 0l.5 0l.5 0l.5 0l.5 0l.5 .2l.5 0l.5-.1l.5 0l.5-.1l.5-.1l.5-.2l.5-.2l.5-.3l.5-.3l.5-.4l.5-.4l.5-.5l.5-.5l.5-.5l.5-.5l.5-.5l.5-.5l.5-.4l.5-.5l.5-.2l.5-.1l.5 .1l.5 .1l.5 .2l.5 .3l.5 .3l.5 .4l.5 .4l.5 .4l.5 .3l.5 .3l.5 .2l.5 .2l.5 .2l.5 .1l.5 .1l.5 0l.5 .1l.5 0l.5 0l.5 0l.5-.1l.5 0l.5 0l.5-.1l.5-.1l.5 0l.5-.1l.5-.1l.5-.1l.5 0l.5-.1l.5 0l.5 0l.5 0l.5 .1l.5 .1l.5 .2l.5 .3l.5 .2l.5 .2l.5 .2l.5 .3l.5 .2l.5 .2l.5 .2l.5 .2l.5 .2l.5 .2l.5 .1l.5 .1l.5 .1l.5 .1l.5 0l.5 .1l.5 0l.5 .3l.5-1.1l.5 1.1l.5 0l.5 .1l.5 0l.5 0l.5 0l.5 0l.5 0l.5 0l.5 0l.5 0l.5-1.4l.5 0l.5 0l.5 0l.5 0l.5 0l.5 0l.5 0l.5 0l.5 0l.5 0l.5 0l.5 0l.5 0l.5 0l.5 0l.5 0l.5 0l.5 0l.5 0l.5 0l.5 0l.5 0l.5 0l.5 0l.5 0l.5 0l.5 0l.5 1.8l.5-1.8l.5 0l.5 0l.5 0l.5 0l.5 0l.5 .5l.5 0l.5 0l.5 0l.5 0l.5 0l.5 0l.5 0l.5 0l.5 0l.5 0l.5 1.3l.5-1.3l.5 0l.5 0l.5 0l.5 0l.5 0l.5 0l.5 0l.5 0l.5 0l.5 0l.5 0l.5 0l.5 0l.5 0l.5 0l.5 0l.5 0l.5 0l.5 0l.5 0l.5 0l.5 0l.5 0l.5 0l.5 0l.5 0l.5 0l.5 0l.5 0l.5 .3l.5 0l.5 0l.5 0l.5 0l.5 0l.5 0l.5 0l.5 0l.5 0l.5 0l.5 0l.5 0l.5 0l.5 0l.5 0l.5 0l.5 0l.5 0l.5 0l.5 0l.5 0l.5 .1l.5 0l.5 0l.5 0l.5 0l.5 0l.5 0l.5 0l.5 0l.5 0l.5 0l.5 0l.5 0l.5 0l.5 0l.5 0l.5 0l.5 0l.5 0l.5 0l.5 0l.5 0l.5 0l.5 0l.5 0l.5 0l.5 0l.5 0l.5 1.2l.5-1.2l.5 0l.5 0l.5 .5l.5 0l.5 0l.5 0l.5 0l.5 0l.5 0l.5 0l.5 0l.5 1.4l.5 .2l.5-1.6l.5 0l.5 0l.5 0l.5 0l.5 0l.5 0l.5 0l.5 0l.5 0l.5 0l.5-.1l.5 0l.5 0l.5 0l.5 0l.5 0l.5 0l.5 0l.5 0l.5 0l.5 0l.5 0l.5 0l.5 0l.5 0l.5 0l.5 0l.5 0l.5 0l.5 0l.5 0l.5 0l.5 0l.5 0l.5 0l.5 0l.5 0l.5 0l.5 0l.5 0l.5 0l.5 0l.5-.8l.5 0l.5 0l.5 0l.5 0l.5 0l.5 0l.5 0l.5-.1l.5 0l.5-.1l.5-.2l.5-.4l.5-.4l.5-1.4l.5-2.2l.5-3.6l.5-5.4l.5-7.4l.5-9.5l.5-11.4l.5-12.5l.5-12.5l.5-11l.5-8.3l.5-4.7l.5-.7l.5 2.8l.5 5.2l.5 6.2l.5 5.9l.5 4.7l.5 3l.5 1.5l.5 .6l.5 .2l.5 .7l.5 1.5l.5 2.8l.5 3.9l.5 4.8l.5 5.4l.5 5.2l.5 5.5l.5 5l.5 4.5l.5 3.9l.5 3.2l.5 2.6l.5 2.1l.5 1.7l.5 1.5l.5 1.1l.5 .9l.5 .9l.5 .7l.5 .7l.5 .5l.5 .5l.5 .4l.5 .3l.5 .3l.5 .2l.5 .1l.5 .6l.5 .2l.5 0l.5 .1l.5-1.4l.5 1.5l.5 0l.5 0l.5 0l.5 0l.5 0l.5 0l.5 0l.5 0l.5 0l.5 0l.5 0l.5 0l.5 0l.5 0l.5 0l.5 1.8l.5-1.8l.5 0l.5 0l.5 0l.5-.5l.5 0l.5 0l.5 0l.5 0l.5 0l.5 0l.5 0l.5 0l.5 0l.5 0l.5 0l.5 0l.5-1.6l.5 1.6l.5 0l.5 0l.5 0l.5 0l.5 0l.5 0l.5 0l.5 0l.5 0l.5 0l.5 0l.5 0l.5 0l.5 0l.5 0l.5 0l.5 0l.5 0l.5 0l.5 .5l.5 0l.5 0l.5 0l.5 0l.5 0l.5 0l.5 0l.5 0l.5 0l.5 0l.5 0l.5 0l.5 0l.5 0l.5 0l.5 1.6l.5-1.4l.5 0l.5 0l.5 0l.5 0l.5 0l.5 0l.5 0l.5 0l.5 0l.5 0l.5 0l.5 0l.5 0l.5 0l.5 0l.5 0l.5 0l.5 0l.5 0l.5 1.4l.5-1.4l.5 0l.5 0l.5 0l.5 0l.5 1.8l.5-1.8l.5 0l.5 0l.5 0l.5 0l.5 0l.5 0l.5 0l.5 0l.5 0l.5-.2l.5 0l.5 0l.5 0l.5 0l.5 0l.5 0l.5 0l.5 0l.5 0l.5 0l.5 0l.5 0l.5 0l.5 0l.5 0l.5 .3l.5 0l.5 0l.5 0l.5 0l.5 0l.5 0l.5 0l.5 0l.5 0l.5 0l.5 0l.5 0l.5 0l.5 0l.5 0l.5 0l.5 0l.5 0l.5-.7l.5 0l.5 0l.5 0l.5 0l.5 0l.5 0l.5 0l.5 0l.5 0l.5 .3l.5 0l.5 0l.5 0l.5 0l.5 0l.5 0l.5 0l.5 0l.5 0l.5 0l.5 0l.5 0l.5 0l.5 0l.5 0l.5 0l.5 0l.5 0l.5 0l.5 0l.5 0l.5 0l.5 0l.5 0l.5 0l.5 0l.5 0l.5 0l.5 0l.5 0l.5 0l.5 0l.5 0l.5 1l.5 0l.5 0l.5 0l.5 0l.5 0l.5 0l.5 0l.5 0l.5 0l.5 0l.5 0l.5 0l.5 0l.5 0l.5 0l.5 0l.5 0l.5-.9l.5 0l.5 0l.5 0l.5 0l.5 0l.5 0l.5 0l.5 0l.5 0l.5 0l.5 0l.5 .6l.5 0l.5 0l.5 0l.5 0l.5 0l.5 0l.5 0l.5 0l.5 0l.5 0l.5 0l.5 0l.5 0l.5 0l.5 0l.5 0l.5-.1l.5 0l.5 0l.5-.1l.5-.1l.5-.1l.5-.1l.5-.3l.5-.2l.5-.2l.5-.2l.5-.3l.5-.2l.5-.3l.5-.2l.5-.1l.5-.1l.5-.1l.5 .1l.5 .1l.5 .1l.5 .2l.5 .3l.5 .2l.5 .3l.5 .2l.5 .2l.5 .2l.5 .2l.5 .1l.5 .1l.5 .1l.5 0l.5 .1l.5 0l.5 0l.5 0l.5 0l.5 0l.5 0l.5 0l.5 0l.5 0l.5-.6l.5 0l.5 0l.5 0l.5 0l.5-.1l.5 0l.5 0l.5-.1l.5 0l.5-.1l.5-.1l.5-.1l.5-.1l.5-.1l.5-.1l.5-.2l.5-.1l.5-.2l.5-.2l.5-.2l.5-.3l.5-.2l.5-.3l.5-.2l.5-.3l.5-.3l.5-.3l.5-.2l.5-.3l.5-.2l.5-.3l.5-.2l.5-.2l.5-.2l.5-.1l.5-.1l.5-.1l.5-.1l.5-.1l.5-.2l.5-.2l.5-.4l.5-.5l.5-.5l.5-1.1l.5-1.6l.5-2.1l.5-2.6l.5-3.2l.5-3.7l.5-4.1l.5-4.4l.5-4.3l.5-4.1l.5-3.5l.5-2.7l.5-1.6l.5-.2l.5 .8l.5 2l.5 3.1l.5 3.9l.5 4.4l.5 4.7l.5 4.7l.5 4.5l.5 4l.5 3.5l.5 3l.5 2.3l.5 1.9l.5 1.4l.5 1l.5 .7l.5 .5l.5 .3l.5 .2l.5 .1l.5 .1l.5 0l.5 0l.5 0l.5-.1l.5 0l.5-.1l.5-.1l.5-.2l.5-.3l.5-.2l.5-.2l.5-.3l.5-.3l.5-.3l.5-.3l.5-.4l.5-.4l.5-.5l.5-.5l.5-.6l.5-.5l.5-.6l.5-.7l.5-.6l.5-.7l.5-.6l.5-.7l.5-.6l.5-.6l.5-.6l.5-.5l.5-.4l.5-.4l.5-.3l.5-.2l.5-.2l.5 0l.5 0l.5 .1l.5 .1l.5-.1l.5-.1l.5-.3l.5-.7l.5-1.5l.5-2.6l.5-4.1l.5-5.9l.5-7.9l.5-10.1l.5-12l.5-13.2l.5-13.4l.5-12.5l.5-10l.5-6.5l.5-2.1l.5 2.7l.5 7.1l.5 10.6l.5 13l.5 13.9l.5 13.5l.5 12.2l.5 10.3l.5 8l.5 6l.5 3.6l.5 2.7l.5 1.7l.5 1l.5 .7l.5 .6l.5 .5l.5 .6l.5 .6l.5 .7l.5 1.9l.5-.4l.5 .7l.5 .6l.5 .5l.5 .4l.5 .4l.5 .3l.5 .2l.5 1.1l.5 .2l.5 0l.5 .1l.5 0l.5 0l.5 0l.5 0l.5 .1l.5 0l.5 0l.5 0l.5 0l.5 0l.5 0l.5 0l.5 0l.5 0l.5 0l.5 0l.5 0l.5 0l.5 0l.5 0l.5 0l.5 0l.5 0l.5 0l.5 0l.5 0l.5 0l.5 0l.5 0l.5 0l.5 0l.5 0l.5-2.3l.5 1.3l.5 0l.5 0l.5 0l.5 0l.5 0l.5 0l.5 0l.5 0l.5 0l.5 0l.5 0l.5 0l.5 0l.5 0l.5 0l.5 0l.5 0l.5 0l.5 0l.5 0l.5 0l.5 0l.5 0l.5 0l.5 0l.5 1l.5 0l.5 0l.5 0l.5 0l.5 0l.5 0l.5 0l.5 0l.5 0l.5 0l.5 0l.5 0l.5 0l.5 0l.5 0l.5 0l.5 0l.5 0l.5 0l.5 0l.5-.1l.5 0l.5 0l.5 0l.5 0l.5 0l.5-.1l.5 0l.5-.1l.5-.1l.5-.1l.5-.2l.5-.2l.5-.2l.5-.2l.5-.4l.5-1.2l.5 .9l.5-.1l.5-.1l.5 0l.5 0l.5 .1l.5-1.6l.5 1.9l.5 .1l.5 .2l.5 .2l.5 .2l.5 .2l.5 .2l.5 .1l.5 .1l.5 .1l.5 0l.5 .1l.5 0l.5 0l.5 0l.5 0l.5 0l.5 .1l.5 0l.5-.4l.5 0l.5 0l.5 0l.5 0l.5 0l.5 0l.5 0l.5 0l.5 0l.5 0l.5 0l.5 0l.5 0l.5 0l.5 0l.5 1.2l.5-1.2l.5 0l.5 0l.5 0l.5 0l.5 0l.5 0l.5 0l.5 0l.5 0l.5 0l.5 0l.5 0l.5 0l.5 0l.5 0l.5 0l.5 0l.5 0l.5 0l.5 0l.5 .5l.5-1.4l.5 1.4l.5 0l.5 0l.5 0l.5 0l.5 0l.5 0l.5 0l.5 0l.5 0l.5 0l.5 0l.5 0l.5 0l.5 0l.5 0l.5 0l.5 0l.5 .4l.5 0l.5 0l.5 0l.5 0l.5 0l.5 0l.5 0l.5 0l.5 0l.5 0l.5 0"/>
<path stroke="#000039" d="M241.0 1332.9l.5 0l.5 0l.5 0l.5 0l.5 0l.5 0l.5 0l.5 0l.5 0l.5 0l.5 0l.5 0l.5 0l.5 0l.5 0l.5 0l.5 .9l.5 0l.5 0l.5 0l.5 0l.5 0l.5 0l.5 0l.5 0l.5 0l.5 0l.5 0l.5 0l.5 0l.5 0l.5 0l.5 0l.5 0l.5 0l.5 0l.5 0l.5 0l.5 0l.5 0l.5 0l.5 0l.5 0l.5 0l.5 0l.5 0l.5 0l.5 0l.5 .8l.5 0l.5 0l.5 0l.5 0l.5 0l.5 0l.5 0l.5 0l.5 0l.5 0l.5 0l.5 0l.5 0l.5 0l.5 0l.5 0l.5 0l.5 0l.5 0l.5 0l.5 0l.5 0l.5 0l.5 0l.5 .6l.5 0l.5 0l.5 0l.5 0l.5 0l.5 0l.5 0l.5 0l.5 0l.5 0l.5 0l.5 0l.5 0l.5 0l.5 0l.5 0l.5 0l.5 0l.5 0l.5 0l.5 0l.5 0l.5 0l.5 0l.5 0l.5 0l.5 0l.5 0l.5 0l.5 0l.5 0l.5 0l.5 0l.5 0l.5 0l.5 0l.5 0l.5-1.6l.5 1.6l.5 0l.5 0l.5 0l.5 0l.5-.4l.5 0l.5 0l.5 0l.5 0l.5 0l.5 0l.5 0l.5 0l.5 0l.5 0l.5 0l.5 0l.5 0l.5 0l.5 0l.5 0l.5 0l.5-1.5l.5 1.5l.5 0l.5 0l.5 0l.5 0l.5 0l.5 0l.5 0l.5 0l.5 0l.5-.1l.5 0l.5 0l.5 0l.5 0l.5 0l.5 0l.5 1l.5 0l.5 0l.5 0l.5-.1l.5 0l.5 0l.5-.1l.5 0l.5-.1l.5 0l.5-.1l.5-.1l.5-.1l.5 0l.5-.1l.5-.2l.5-.1l.5-.1l.5-.2l.5-.1l.5-.2l.5-.2l.5-.2l.5-.2l.5-.2l.5-.3l.5-.3l.5-.3l.5-.3l.5-.3l.5-.4l.5-.4l.5-1.6l.5-.5l.5-.4l.5-.5l.5-.6l.5-.5l.5-.6l.5-.6l.5-.7l.5-.6l.5-.7l.5-.7l.5-.8l.5-.8l.5-.8l.5-.8l.5-.8l.5-.9l.5-.8l.5-.9l.5-.9l.5-.9l.5-.9l.5-1l.5-.9l.5-2.1l.5 .3l.5-.9l.5-.9l.5-.9l.5-.8l.5-.8l.5-.8l.5-.8l.5-.8l.5-.7l.5-.6l.5-.6l.5-.6l.5-.6l.5-.4l.5 .4l.5-.4l.5-.3l.5-.3l.5-.2l.5-.1l.5-.1l.5 0l.5 0l.5 .1l.5 .2l.5 .2l.5 .2l.5 .3l.5 .9l.5 .4l.5 .4l.5 .5l.5 .6l.5 .5l.5 .6l.5 .7l.5 .6l.5 .7l.5 .7l.5 .7l.5 .7l.5 .8l.5 .7l.5 1.9l.5-.5l.5 2.2l.5-.8l.5 .7l.5 .7l.5 .6l.5 .7l.5 .6l.5 .5l.5 .6l.5 .5l.5 .5l.5 .4l.5 .4l.5-1.4l.5 .4l.5 .3l.5-1.4l.5 1.9l.5 .1l.5 .2l.5 .1l.5 .1l.5 0l.5 0l.5 0l.5 0l.5 .9l.5-.1l.5-.1l.5-.2l.5-.2l.5-.2l.5-.3l.5-.2l.5-.3l.5-.3l.5-.3l.5-.3l.5-2.1l.5 1.4l.5-.4l.5-.4l.5-.3l.5-.4l.5-.4l.5-.4l.5-.4l.5-.6l.5-.3l.5-.4l.5-.4l.5-.4l.5-.3l.5-.4l.5-.3l.5-.3l.5-.3l.5-.4l.5-.2l.5-.3l.5-.3l.5-.2l.5-.3l.5-.2l.5-.2l.5-.1l.5-.2l.5-.1l.5-.1l.5-.1l.5-.1l.5 0l.5-.1l.5-.3l.5 0l.5 .1l.5 0l.5 1.9l.5-1.7l.5 .1l.5 .1l.5 .2l.5 .2l.5 .2l.5 .2l.5 .2l.5 1l.5 .2l.5 .3l.5 .3l.5 .3l.5 .4l.5 .3l.5 .4l.5 .4l.5 .4l.5 .4l.5 .4l.5 .4l.5 .4l.5 .5l.5 .4l.5 .5l.5 .4l.5 .5l.5 .4l.5 .5l.5 .5l.5 .4l.5 .5l.5 0l.5 .5l.5 .4l.5 .5l.5 .5l.5 .4l.5 .5l.5 .4l.5 .5l.5 .4l.5 .5l.5 .4l.5 .4l.5 .4l.5 .4l.5 .4l.5 .4l.5 .4l.5 .4l.5 .3l.5 .4l.5 .4l.5 .3l.5 .3l.5 .3l.5 .3l.5 2.1l.5-1.5l.5 .3l.5 .3l.5 .2l.5-1.1l.5 1.6l.5 .3l.5 .2l.5 .2l.5 .2l.5 .2l.5 .7l.5 .1l.5 .2l.5 .2l.5 .1l.5 .2l.5 .1l.5 .2l.5 .1l.5 .1l.5 .1l.5 .1l.5 .1l.5 .1l.5 .1l.5 1.6l.5-1.4l.5 .1l.5 .1l.5 0l.5 .1l.5 0l.5 .1l.5-.7l.5 .1l.5 0l.5 0l.5 .1l.5 0l.5 .1l.5 0l.5 0l.5 .1l.5 0l.5 0l.5 0l.5 0l.5 .1l.5 0l.5 0l.5 0l.5 .8l.5 0l.5 0l.5-.1l.5-.1l.5-.2l.5-.2l.5-.3l.5-.4l.5-.5l.5-.6l.5-.8l.5-.9l.5-1l.5-1.1l.5-1.1l.5-1.3l.5-1.2l.5-1.1l.5-1.1l.5-.9l.5-.7l.5-.4l.5-.2l.5 0l.5 .3l.5 .5l.5 .7l.5 .8l.5 .9l.5 .9l.5 .8l.5 .8l.5 .7l.5 .5l.5 .5l.5 .3l.5 .3l.5 .1l.5-.1l.5 0l.5 0l.5-.1l.5-.1l.5-.1l.5-.2l.5-.2l.5-.3l.5-.3l.5-.3l.5-.4l.5-.3l.5-.3l.5-.3l.5-.2l.5-.1l.5-.1l.5 .1l.5 .2l.5 .3l.5 .4l.5 .5l.5 .6l.5 .6l.5 .7l.5 .7l.5 .7l.5 .7l.5 .6l.5 .6l.5 .5l.5 .4l.5 .4l.5-.5l.5 .2l.5 .3l.5 .1l.5 1.8l.5-1.5l.5 .1l.5 0l.5 .1l.5 0l.5 0l.5 .1l.5 0l.5 0l.5 0l.5 0l.5 0l.5 0l.5 0l.5-.1l.5 0l.5 0l.5 0l.5 0l.5 0l.5 0l.5 0l.5 0l.5 0l.5 0l.5 0l.5 0l.5 0l.5 0l.5 0l.5 .3l.5 0l.5 0l.5 0l.5 0l.5 0l.5 0l.5 0l.5 0l.5 0l.5 0l.5 0l.5 0l.5 0l.5 0l.5 0l.5 0l.5 0l.5 0l.5 0l.5 0l.5 0l.5 0l.5 0l.5 0l.5 0l.5 0l.5 0l.5 0l.5 0l.5 0l.5 0l.5 0l.5 0l.5 0l.5 0l.5 .5l.5 0l.5 0l.5 0l.5 0l.5 0l.5 0l.5 0l.5 0l.5 0l.5 0l.5 0l.5 0l.5 0l.5 0l.5 0l.5 0l.5 0l.5 0l.5 0l.5 0l.5 0l.5 0l.5 0l.5 0l.5 0l.5 0l.5 0l.5 0l.5 0l.5 0l.5 0l.5 0l.5 0l.5 0l.5 0l.5 0l.5 0l.5 0l.5 0l.5 0l.5-1.3l.5 0l.5 0l.5 0l.5 0l.5 0l.5 0l.5 0l.5 0l.5 0l.5 0l.5 0l.5 0l.5 0l.5 0l.5 0l.5 0l.5 0l.5 0l.5 0l.5 0l.5 0l.5 0l.5 0l.5 0l.5 0l.5 0l.5 0l.5 0l.5 0l.5 0l.5 0l.5 1.1l.5 0l.5 0l.5 0l.5 0l.5 0l.5 0l.5 0l.5 0l.5 0l.5 0l.5 0l.5-1.2l.5 1.2l.5 0l.5 0l.5 0l.5 0l.5 0l.5 0l.5 0l.5 0l.5 0l.5 0l.5 0l.5 0l.5 0l.5 0l.5 0l.5 0l.5 0l.5 0l.5 0l.5-.5l.5 0l.5 0l.5 0l.5 1.3l.5-1.3l.5 0l.5 0l.5 0l.5 0l.5 0l.5 0l.5 0l.5 0l.5 0l.5 0l.5 0l.5 0l.5 0l.5 0l.5 0l.5 0l.5 0l.5 0l.5 0l.5 0l.5 0l.5 0l.5 0l.5 0l.5 0l.5-.1l.5 0l.5 0l.5 0l.5 0l.5 0l.5-.1l.5-.2l.5-.4l.5-.7l.5-1.4l.5-2.3l.5-3.5l.5-5.4l.5-7.4l.5-9.5l.5-11.4l.5-12.5l.5-12.5l.5-11l.5-8.3l.5-4.7l.5-.7l.5 2.8l.5 4l.5 7.4l.5 5.9l.5 4.7l.5 3l.5 1.5l.5 .5l.5 .3l.5 .7l.5 1.5l.5 2.8l.5 3.9l.5 4.8l.5 5.4l.5 5.6l.5 5.5l.5 5.1l.5 4.4l.5 3.9l.5 3.2l.5 2.6l.5 2.5l.5 1.7l.5 1.4l.5 1.2l.5 1l.5 .9l.5 .7l.5 .7l.5 .5l.5 .5l.5 .4l.5 .3l.5 .3l.5 .2l.5 .1l.5 .2l.5 .1l.5 .1l.5 0l.5 .1l.5 0l.5 0l.5-.4l.5 0l.5 .1l.5 0l.5 0l.5 0l.5 0l.5 0l.5 0l.5 0l.5 0l.5 0l.5 0l.5-1.3l.5 1.3l.5 0l.5 0l.5 0l.5 0l.5 0l.5 0l.5-1.2l.5 1.2l.5 0l.5 0l.5 0l.5 0l.5 0l.5 0l.5 0l.5 .2l.5 0l.5 0l.5 0l.5 0l.5 0l.5 0l.5 0l.5 0l.5 0l.5 0l.5 0l.5 0l.5 0l.5 0l.5 0l.5 0l.5 0l.5 0l.5 0l.5 0l.5 0l.5-.2l.5 0l.5 0l.5 0l.5 0l.5 0l.5 0l.5 0l.5 0l.5 0l.5 0l.5 0l.5 0l.5 0l.5 0l.5 0l.5 0l.5 0l.5 0l.5 0l.5 0l.5 0l.5 0l.5 0l.5 0l.5 0l.5 0l.5 0l.5 0l.5 0l.5 0l.5 0l.5 0l.5 0l.5-.5l.5-1.5l.5 1.5l.5 0l.5 0l.5 0l.5 0l.5 0l.5 0l.5 0l.5 0l.5 0l.5 0l.5 0l.5 0l.5 0l.5 0l.5 0l.5 0l.5 0l.5 0l.5 0l.5 0l.5 0l.5 0l.5 0l.5 0l.5 0l.5 0l.5 0l.5 0l.5 0l.5 0l.5 0l.5 0l.5 0l.5 0l.5 0l.5 0l.5 0l.5 0l.5 0l.5 0l.5 .4l.5 0l.5 0l.5 0l.5 0l.5 0l.5 0l.5 0l.5 0l.5 .9l.5 0l.5 0l.5 0l.5 0l.5 0l.5 0l.5 0l.5 0l.5 0l.5 0l.5 0l.5 0l.5 0l.5 0l.5 0l.5 0l.5 0l.5 0l.5 0l.5 0l.5 0l.5 0l.5 0l.5 0l.5 0l.5 0l.5-.4l.5 0l.5 0l.5 0l.5 0l.5 0l.5 0l.5 0l.5 0l.5 0l.5 0l.5 0l.5 0l.5 0l.5 0l.5 0l.5 0l.5 0l.5 0l.5 0l.5 0l.5 0l.5 0l.5 0l.5 0l.5 0l.5 0l.5 0l.5 0l.5 0l.5 .4l.5 0l.5 0l.5 0l.5 0l.5 0l.5 0l.5 0l.5 0l.5 0l.5 0l.5 0l.5 0l.5 0l.5 0l.5 0l.5 0l.5 0l.5 0l.5 0l.5 0l.5 0l.5 0l.5 0l.5 0l.5 0l.5 0l.5 0l.5 0l.5 0l.5 0l.5 0l.5 0l.5 0l.5 0l.5 0l.5 0l.5 0l.5-.1l.5 .3l.5-.1l.5 0l.5-.1l.5-.1l.5-.1l.5-.2l.5-.2l.5-.2l.5-.2l.5-.3l.5-.2l.5-.3l.5-.2l.5-.1l.5-.1l.5-.1l.5 .1l.5 .1l.5 .1l.5 .2l.5 .3l.5 .2l.5 .3l.5 .2l.5 .2l.5 .2l.5 .2l.5 .1l.5 .1l.5 .1l.5 0l.5-1.2l.5 0l.5 0l.5 .1l.5 0l.5 0l.5 0l.5 0l.5 0l.5 0l.5-.1l.5 0l.5 0l.5 0l.5 0l.5-.1l.5 0l.5 0l.5-.1l.5 0l.5-.1l.5-.1l.5-.1l.5-.1l.5-.1l.5-.2l.5-.1l.5-.2l.5-.2l.5-.2l.5-.3l.5-.2l.5-.3l.5-.3l.5-.3l.5-.3l.5-.3l.5-.3l.5-.3l.5-.2l.5-.3l.5 1.1l.5-.3l.5-.2l.5-.2l.5-.1l.5-.1l.5-.2l.5-.1l.5-.1l.5-.1l.5-.3l.5-.4l.5-.6l.5-.8l.5-1.3l.5-1.7l.5-2.3l.5-2.9l.5-3.4l.5-4.1l.5-4.4l.5-4.7l.5-4.7l.5-4.5l.5-3.8l.5-2.9l.5-1.8l.5-.5l.5 .9l.5 2.2l.5 3.4l.5 4.2l.5 4.8l.5 5.1l.5 5.1l.5 4.9l.5 4.4l.5 3.8l.5 3.2l.5 2.6l.5 .8l.5 1.6l.5 1.1l.5 .7l.5 .6l.5 .3l.5-1.4l.5 1.7l.5 .1l.5 0l.5 0l.5-.1l.5-.1l.5-.1l.5-.1l.5-.1l.5-.2l.5-.2l.5-.3l.5-.3l.5-.3l.5-.4l.5-.4l.5-.5l.5-1.8l.5 .7l.5-.7l.5-.7l.5-.7l.5-.8l.5-.9l.5-.8l.5-.9l.5-.9l.5-1l.5-.9l.5-.8l.5 .8l.5-2.4l.5-.7l.5-.6l.5-.5l.5-.4l.5-.3l.5-.2l.5-.1l.5 .1l.5 .1l.5 .2l.5 1.5l.5-1.2l.5-.1l.5-.6l.5-1.3l.5-2.4l.5-3.8l.5-5.6l.5-7.7l.5-9.9l.5-11.7l.5-12.9l.5-13.3l.5-12.2l.5-9.8l.5-5.7l.5-1.9l.5 2.9l.5 7.2l.5 10.8l.5 13.1l.5 13.9l.5 13.7l.5 12.3l.5 10.3l.5 8.1l.5 6l.5 4.2l.5 2.7l.5 1.7l.5 1.1l.5 .7l.5 .6l.5 .5l.5 .6l.5 .7l.5 .7l.5 .7l.5 .8l.5 .6l.5 .6l.5 .6l.5 .4l.5 .4l.5 .3l.5 .2l.5 .1l.5 .1l.5 .1l.5 .1l.5 0l.5-.4l.5 0l.5 0l.5-.1l.5 0l.5 0l.5-.1l.5-.1l.5-.1l.5-.1l.5-.1l.5-.2l.5-.2l.5-.2l.5-.2l.5-.2l.5-.2l.5-.1l.5-.1l.5 0l.5 0l.5 .1l.5 .1l.5 .2l.5 .2l.5 .2l.5 .2l.5 .2l.5 .2l.5 .1l.5 .1l.5 .1l.5 .1l.5 .1l.5 0l.5 0l.5 .1l.5 0l.5 0l.5 0l.5 0l.5 0l.5 0l.5-.2l.5 0l.5 0l.5 0l.5 0l.5 0l.5 0l.5 0l.5 0l.5 0l.5 0l.5 .6l.5 0l.5 0l.5 0l.5 0l.5 0l.5 0l.5 0l.5 0l.5 0l.5 0l.5 0l.5-.1l.5 0l.5 0l.5 0l.5 0l.5 0l.5 0l.5 0l.5-2.1l.5 1.7l.5 1.5l.5-1.5l.5 0l.5 0l.5-.1l.5 0l.5 0l.5-.1l.5 0l.5-.2l.5-.1l.5-.2l.5-.3l.5-.3l.5-.4l.5-.4l.5-.5l.5-.5l.5-.5l.5-.4l.5-.4l.5 .9l.5-.2l.5-.1l.5 .1l.5 .2l.5 .3l.5 .4l.5 .5l.5 .5l.5 .5l.5 .5l.5 .4l.5 .4l.5 .1l.5 .2l.5 .2l.5 .2l.5 .1l.5 .1l.5 0l.5 .1l.5 0l.5 0l.5 0l.5 0l.5-1.2l.5 0l.5 0l.5 0l.5 0l.5 0l.5 0l.5 0l.5 0l.5-1.8l.5 1.8l.5 0l.5 0l.5 0l.5 0l.5 0l.5 0l.5 0l.5 0l.5 0l.5 0l.5 0l.5 0l.5 0l.5 0l.5 0l.5 .3l.5 0l.5 0l.5 0l.5 0l.5 0l.5 0l.5 0l.5 0l.5 0l.5 0l.5 0l.5 0l.5 0l.5 0l.5 0l.5 0l.5 0l.5 0l.5 0l.5 0l.5 0l.5 0l.5 0l.5 0l.5 0l.5 0l.5 .5l.5 0l.5 0l.5 0l.5 0l.5 0l.5 0l.5 0l.5 0l.5 0l.5 0l.5 0l.5 0l.5 0l.5 0l.5 0l.5 0"/>
<path stroke="#00001C" d="M241.0 1380.7l.5 0l.5 0l.5 0l.5 0l.5 0l.5 0l.5 0l.5 0l.5 0l.5 0l.5 0l.5 0l.5-2.2l.5 0l.5 0l.5 0l.5 0l.5 0l.5 0l.5 0l.5 0l.5 0l.5 0l.5 0l.5 0l.5 0l.5 0l.5 0l.5 0l.5 0l.5 0l.5 0l.5 0l.5 0l.5 1.6l.5 0l.5 0l.5 0l.5 0l.5 0l.5 0l.5 0l.5 0l.5 0l.5 0l.5 0l.5 0l.5 0l.5 0l.5 0l.5 0l.5 0l.5 .2l.5 0l.5 0l.5 0l.5 0l.5 0l.5 0l.5 0l.5 0l.5 0l.5 0l.5 0l.5-1.4l.5 1.4l.5 0l.5 0l.5 0l.5 0l.5 0l.5 0l.5 0l.5 0l.5 0l.5 0l.5 0l.5 0l.5 0l.5 0l.5 0l.5 0l.5 0l.5-.7l.5 0l.5 0l.5 0l.5 0l.5 0l.5 0l.5 0l.5 0l.5 0l.5 0l.5 0l.5 0l.5 0l.5 0l.5 .7l.5 0l.5 0l.5 0l.5 0l.5 0l.5 0l.5 0l.5 0l.5 0l.5 0l.5 0l.5 0l.5 0l.5-1.5l.5 1.5l.5 0l.5 0l.5 0l.5 0l.5 0l.5 0l.5 0l.5 0l.5 0l.5 0l.5 0l.5 0l.5 0l.5 0l.5 0l.5 0l.5 0l.5 0l.5 0l.5 0l.5 0l.5 0l.5 0l.5 0l.5 0l.5-.5l.5 0l.5 0l.5 0l.5 0l.5 0l.5 0l.5 0l.5-.1l.5 0l.5 0l.5 0l.5 0l.5 0l.5 0l.5-.1l.5 0l.5 0l.5-.1l.5 0l.5-.7l.5-.1l.5 0l.5-.1l.5-.1l.5 0l.5-.1l.5-.1l.5-.1l.5-.1l.5-.2l.5-.1l.5-.2l.5-.1l.5-.2l.5-.2l.5-.2l.5-.3l.5-.2l.5-.3l.5-.3l.5-.3l.5-.4l.5-.4l.5-.4l.5-.4l.5-.5l.5-.5l.5-.5l.5-.5l.5-.6l.5-.6l.5-.7l.5-.6l.5-.8l.5-.7l.5-.8l.5-.8l.5-.8l.5-.9l.5-.9l.5-.9l.5-1l.5 .6l.5-1l.5-1l.5-1l.5-1.1l.5-1l.5-1.1l.5-1.1l.5-1l.5-1.1l.5-1.1l.5-1l.5-1.1l.5-1l.5-1l.5-.9l.5-1l.5-.9l.5-.8l.5-.9l.5-.7l.5-.7l.5-.7l.5-.6l.5-.6l.5-.5l.5-.4l.5-.4l.5-.3l.5-.2l.5-.2l.5-.1l.5 0l.5 .5l.5 .1l.5 .2l.5 .3l.5 .3l.5 .3l.5 .5l.5 .5l.5 .5l.5 .6l.5 .6l.5 .7l.5 .7l.5 .7l.5 .8l.5 .8l.5 .8l.5 .8l.5 .9l.5 .8l.5 .9l.5 .8l.5 .9l.5 .8l.5 .8l.5 .8l.5 .8l.5 .8l.5 .7l.5 .7l.5 .7l.5 .6l.5-.2l.5 .6l.5 .5l.5 .5l.5 .5l.5 .4l.5-1.1l.5 1.7l.5 .3l.5 .2l.5 .2l.5 .2l.5 .1l.5 0l.5 .1l.5 1.1l.5-1.2l.5-.1l.5-.1l.5-.2l.5-.2l.5-.2l.5-.2l.5-.3l.5-.3l.5-.3l.5-.3l.5-.4l.5-.4l.5-.4l.5-.3l.5-.5l.5-.4l.5-.4l.5-.4l.5-.5l.5-.4l.5-1.6l.5-.4l.5-.5l.5-.4l.5-.4l.5-.5l.5-.4l.5-.4l.5-.4l.5-.3l.5-.4l.5-.3l.5-.4l.5-.3l.5-.3l.5-.3l.5-.2l.5-.3l.5-.2l.5-.2l.5-.2l.5-.1l.5-.1l.5-.1l.5 1.7l.5-.1l.5 0l.5-.1l.5 .1l.5 0l.5 .1l.5 0l.5 .2l.5 .1l.5 .2l.5 .1l.5 .2l.5 .3l.5 .2l.5 .3l.5 .3l.5 .3l.5 .3l.5 .4l.5 .3l.5 .4l.5 .4l.5 .4l.5 .5l.5 .4l.5 .5l.5 .4l.5 .5l.5 .5l.5 .5l.5 .5l.5 .5l.5 .5l.5 .6l.5 .5l.5 .5l.5 .6l.5 .5l.5 .5l.5 .6l.5 .5l.5 .6l.5 .5l.5-.1l.5 .5l.5 .5l.5 .5l.5 .6l.5 .5l.5 .5l.5 .4l.5 .5l.5 .5l.5 .5l.5 .4l.5 .5l.5 .4l.5 .4l.5 .5l.5 .4l.5 .4l.5 .4l.5 .3l.5 .4l.5 .3l.5 .4l.5 .3l.5 .3l.5 .3l.5 .3l.5 .3l.5 .3l.5 .3l.5 .2l.5 .3l.5 .2l.5 .2l.5 .3l.5 .2l.5 .2l.5 .1l.5 .2l.5 .2l.5 .2l.5 .1l.5 .4l.5 .1l.5 .2l.5 .1l.5 .1l.5 .1l.5 .1l.5 .1l.5 .1l.5 .1l.5 .1l.5 .1l.5 .1l.5 0l.5 .1l.5 .1l.5 0l.5 .1l.5 0l.5 .1l.5 0l.5 .1l.5 0l.5 0l.5 .1l.5-.2l.5 0l.5 0l.5 .1l.5 0l.5 0l.5 0l.5-.1l.5 0l.5-.1l.5-.2l.5-.2l.5-.4l.5-.4l.5-.7l.5-.9l.5 .5l.5-3.1l.5-1.7l.5-2.2l.5-2.5l.5-2.9l.5-3.1l.5-3.4l.5-3.5l.5-3.5l.5-3.3l.5-3l.5-2.6l.5-2l.5-1.3l.5-.5l.5 .1l.5 .9l.5 1.4l.5 3.1l.5 1.2l.5 2.4l.5 2.5l.5 2.5l.5 2.2l.5 1.9l.5 1.6l.5 1.3l.5 .5l.5 .7l.5 .4l.5 1.4l.5-1.2l.5-.1l.5-.2l.5-.3l.5-.5l.5-.5l.5-.7l.5-.8l.5-.9l.5-.9l.5-1l.5-1l.5-.9l.5-.8l.5-.6l.5-.4l.5-.1l.5 .2l.5 .6l.5 .8l.5 1.2l.5 1.4l.5 1.7l.5 1.9l.5 1.9l.5 2l.5 2l.5 2l.5 1.8l.5 1.7l.5 1.5l.5 1.3l.5 1.1l.5 1l.5 .8l.5 .6l.5 1l.5 .4l.5 .3l.5 .2l.5 .2l.5 .1l.5 .1l.5 .1l.5 0l.5 .1l.5 0l.5 0l.5 0l.5 0l.5 1.2l.5-1.2l.5 0l.5 0l.5 0l.5 0l.5 0l.5 0l.5 0l.5 0l.5 0l.5 0l.5 0l.5 0l.5 0l.5 0l.5 0l.5 0l.5 0l.5 0l.5 0l.5 0l.5 0l.5 0l.5 0l.5 0l.5 0l.5 0l.5 0l.5 0l.5 0l.5 0l.5 0l.5 0l.5 0l.5 0l.5 0l.5 0l.5 0l.5 0l.5 0l.5 0l.5 0l.5 0l.5 0l.5 0l.5 0l.5 0l.5 0l.5 0l.5 0l.5 0l.5 0l.5 0l.5 0l.5 0l.5 0l.5 0l.5 0l.5 0l.5 0l.5 0l.5 0l.5 0l.5 0l.5 0l.5 0l.5 0l.5-.8l.5 0l.5 0l.5 0l.5 0l.5 0l.5 0l.5 0l.5 0l.5 0l.5 0l.5 0l.5 0l.5 0l.5 0l.5 0l.5 0l.5 .7l.5 0l.5 0l.5 0l.5 0l.5 0l.5 0l.5 0l.5 0l.5 0l.5 0l.5 0l.5 0l.5 0l.5 0l.5 0l.5 0l.5 0l.5 0l.5 0l.5 0l.5 0l.5 0l.5 0l.5 0l.5 0l.5 0l.5 0l.5 0l.5 0l.5 0l.5 0l.5 0l.5 0l.5 0l.5 0l.5 0l.5 0l.5 0l.5 0l.5 0l.5 0l.5 0l.5 0l.5 0l.5 0l.5 1.6l.5-1.6l.5 0l.5 0l.5 0l.5 0l.5 0l.5 0l.5 0l.5 0l.5 0l.5 .3l.5 0l.5 0l.5 0l.5 0l.5 0l.5 0l.5 0l.5 0l.5 0l.5 0l.5 0l.5 0l.5 0l.5 0l.5 0l.5 0l.5 0l.5 0l.5 0l.5 0l.5 0l.5 0l.5 0l.5 0l.5 0l.5 0l.5-.3l.5 0l.5 0l.5 0l.5 0l.5 0l.5 0l.5 0l.5 0l.5-.9l.5 0l.5 0l.5 0l.5 0l.5 0l.5 0l.5 0l.5 0l.5 0l.5 0l.5 1.4l.5-1.4l.5 0l.5 0l.5 0l.5 0l.5 0l.5-.1l.5-.1l.5-.2l.5-.4l.5-.7l.5-1.4l.5-2.3l.5-3.6l.5-5.3l.5-7.4l.5-9.5l.5-11.4l.5-12.5l.5-12.5l.5-11.1l.5-8.3l.5-4.6l.5-.7l.5 2.8l.5 5.2l.5 6.2l.5 6.3l.5 4.7l.5 3l.5 1.6l.5 .5l.5 .2l.5 .7l.5 1.6l.5 2.7l.5 3.9l.5 4.8l.5 5.4l.5 5.7l.5 5.4l.5 5.1l.5 4.7l.5 3.8l.5 3.2l.5 2.6l.5 2.1l.5 1.8l.5 1.4l.5 1.2l.5 1l.5 .9l.5 .7l.5 .6l.5 .6l.5 .5l.5 .3l.5 .4l.5 .2l.5 .2l.5 .2l.5 .2l.5 .1l.5 0l.5 .1l.5 0l.5 .1l.5 0l.5 0l.5 0l.5 0l.5 0l.5 0l.5 .1l.5 0l.5 0l.5 .2l.5 0l.5 0l.5 0l.5 0l.5 0l.5 0l.5 0l.5 0l.5 0l.5 0l.5 0l.5 0l.5 0l.5 0l.5 0l.5 0l.5 0l.5 0l.5 0l.5 0l.5 0l.5 0l.5 0l.5 0l.5 0l.5 0l.5 0l.5 0l.5 0l.5 0l.5-.3l.5 0l.5 1.5l.5-1.5l.5 0l.5 0l.5 0l.5 0l.5 0l.5 0l.5 0l.5 0l.5 0l.5 0l.5 0l.5 0l.5 0l.5 .6l.5 0l.5 0l.5 0l.5 0l.5 0l.5 0l.5 0l.5 0l.5 0l.5-.8l.5 0l.5 0l.5 0l.5 0l.5 0l.5 0l.5 0l.5 0l.5 0l.5 0l.5 0l.5 0l.5-.1l.5 0l.5-1.5l.5 1.5l.5 0l.5 0l.5 0l.5 0l.5 0l.5 0l.5 0l.5 0l.5 0l.5 0l.5 0l.5 0l.5 0l.5 1.4l.5-1.4l.5 0l.5 0l.5 0l.5 0l.5 0l.5 0l.5 0l.5 1.4l.5-1.4l.5 0l.5 0l.5 0l.5 0l.5 0l.5 0l.5 0l.5 .5l.5 0l.5 0l.5 0l.5 0l.5 0l.5 0l.5 0l.5 0l.5 0l.5 0l.5 0l.5 0l.5 0l.5 0l.5 0l.5 0l.5 0l.5 0l.5 0l.5 0l.5 0l.5 0l.5 0l.5 0l.5 0l.5 0l.5 0l.5 0l.5 0l.5 0l.5 0l.5 0l.5 0l.5 0l.5 0l.5-.4l.5 0l.5 0l.5 0l.5 0l.5 0l.5 0l.5 0l.5 0l.5 0l.5 0l.5 0l.5 0l.5 0l.5 0l.5 0l.5 0l.5 0l.5 0l.5 0l.5 0l.5 0l.5 0l.5 0l.5 0l.5 0l.5 0l.5 0l.5 0l.5 0l.5 0l.5 0l.5 0l.5 0l.5 .3l.5 0l.5 0l.5 0l.5 0l.5 0l.5 0l.5 0l.5 0l.5 0l.5 0l.5 0l.5 0l.5 0l.5 0l.5 0l.5 0l.5 0l.5 0l.5 0l.5 0l.5 0l.5 .1l.5 0l.5 0l.5 0l.5 0l.5 0l.5 0l.5 0l.5 0l.5 0l.5 0l.5 0l.5 0l.5 0l.5 0l.5 0l.5 0l.5 0l.5 0l.5 0l.5 0l.5 0l.5 .1l.5 0l.5 0l.5 0l.5 0l.5 0l.5 0l.5-.1l.5 0l.5-.1l.5-.1l.5 1.1l.5-1.4l.5-.2l.5-.2l.5-.2l.5-.3l.5-.2l.5-.3l.5-.2l.5-.1l.5-.1l.5-.1l.5 .1l.5 .1l.5 .1l.5 .2l.5 .3l.5-.4l.5 .3l.5 .2l.5 .2l.5 .2l.5 .2l.5 .1l.5 .1l.5 .1l.5 0l.5 .1l.5 0l.5 0l.5 0l.5 0l.5 0l.5 0l.5 0l.5 0l.5 0l.5-1.5l.5 1.5l.5 0l.5 0l.5-.1l.5 0l.5 0l.5-.1l.5-.1l.5 0l.5-.1l.5-.1l.5-.1l.5-.1l.5-.2l.5-.1l.5-.2l.5-.2l.5-.3l.5-.2l.5-.3l.5-.3l.5-.3l.5-.1l.5-.4l.5-.3l.5-.4l.5-.3l.5-.3l.5-.4l.5-.3l.5-.3l.5-.2l.5-.2l.5-.2l.5-.2l.5-.2l.5-.1l.5-.1l.5-.1l.5-.2l.5-.3l.5-.4l.5-.7l.5-1l.5-1.5l.5-1.9l.5-2.6l.5-3.3l.5-3.9l.5-4.6l.5-5.1l.5-5.4l.5-5.3l.5-5.1l.5-4.3l.5-3.4l.5-2l.5-.5l.5 1l.5 2.5l.5 3.8l.5 4.8l.5 5.5l.5 5.8l.5 5.9l.5 5.5l.5 5l.5 4.3l.5 3.7l.5 2.9l.5 2.3l.5 1.8l.5 1.2l.5 1.3l.5 .6l.5 .4l.5 .2l.5 .2l.5 0l.5 0l.5-.1l.5-.1l.5-.1l.5-.2l.5-.2l.5-.2l.5-.3l.5-.4l.5-.4l.5-.5l.5-.5l.5-.7l.5-.7l.5-.8l.5-.9l.5-1l.5-1.1l.5-1.1l.5-1.3l.5-1.3l.5-1.4l.5-1.5l.5-1.5l.5-1.5l.5-1.5l.5-1.5l.5-1.4l.5-1.6l.5-1.3l.5-1.2l.5-1l.5-.9l.5-.7l.5-.5l.5-.3l.5-.1l.5 .1l.5 .2l.5 .4l.5 .5l.5 .5l.5 .3l.5-.1l.5-.8l.5-1.8l.5-3.3l.5-5l.5-7.1l.5-9.2l.5-11.2l.5-12.3l.5-12.7l.5-11.7l.5-9.3l.5-5.8l.5-1.5l.5 3.3l.5 7.6l.5 11.1l.5 13.3l.5 14.2l.5 13.9l.5 12.5l.5 10.5l.5 8.2l.5 6.2l.5 4.2l.5 2.8l.5 1.8l.5 1.2l.5 .7l.5 .6l.5 .6l.5 .6l.5 .7l.5 .7l.5 .8l.5 .7l.5 .7l.5 .6l.5 .5l.5 .5l.5 .1l.5 .2l.5 .2l.5 .2l.5 .1l.5 .1l.5 0l.5 0l.5 0l.5 0l.5 0l.5-.1l.5-.1l.5-.2l.5-.3l.5-.3l.5-.4l.5-.5l.5-.6l.5-.7l.5-.7l.5-.8l.5-.8l.5-.8l.5-.6l.5-.6l.5-.3l.5-.1l.5 .1l.5 .3l.5 .6l.5 .6l.5 .8l.5 .8l.5 .8l.5 .7l.5 .7l.5 .6l.5 .5l.5 .4l.5 .3l.5 .3l.5 .2l.5 .1l.5 .2l.5 .1l.5 0l.5 .1l.5 0l.5 0l.5 1.5l.5-1.5l.5 0l.5 0l.5 0l.5 0l.5 0l.5 0l.5 0l.5 0l.5 0l.5 0l.5 0l.5 0l.5 0l.5 0l.5 0l.5 0l.5 0l.5 0l.5 0l.5 0l.5 0l.5 0l.5 0l.5 .1l.5 0l.5 0l.5 0l.5 0l.5 0l.5 0l.5 0l.5 0l.5 0l.5 0l.5 0l.5 0l.5 0l.5-.1l.5-.1l.5-.1l.5-.1l.5-.2l.5-.3l.5-.4l.5-.5l.5-.7l.5-.7l.5-.9l.5-.9l.5-1.1l.5-1l.5-.9l.5-.8l.5-.7l.5-.4l.5-.1l.5 .1l.5 .4l.5 .7l.5 .8l.5 .9l.5 1l.5 1l.5 1l.5 .8l.5 .8l.5 .6l.5 .5l.5 .4l.5 .3l.5 .3l.5-1.1l.5 .1l.5 .1l.5 0l.5 .1l.5 0l.5 0l.5 0l.5 0l.5 0l.5 0l.5 0l.5 0l.5 0l.5-1.2l.5 1.2l.5 0l.5 0l.5 0l.5 0l.5 0l.5 0l.5-1.3l.5 1.3l.5 0l.5 0l.5 0l.5 0l.5 0l.5 0l.5 0l.5 0l.5 0l.5 0l.5 0l.5 0l.5 0l.5 0l.5 0l.5 0l.5 0l.5 0l.5 0l.5 1.6l.5 0l.5 0l.5 0l.5 0l.5 1.6l.5-1.6l.5 0l.5 0l.5 0l.5 0l.5 0l.5 0l.5 0l.5 0l.5 0l.5 0l.5 0l.5 0l.5 0l.5 0l.5-.1l.5 0l.5 0l.5 0l.5 0l.5 0l.5 0l.5 0l.5 0l.5 0l.5 0l.5 0l.5 0"/>
<path stroke="#000000" d="M241.0 1512.6l.5 0l.5 0l.5 0l.5 0l.5 0l.5 0l.5 0l.5 0l.5 0l.5 0l.5 0l.5 0l.5 0l.5 0l.5 0l.5 0l.5 0l.5 0l.5 .6l.5 0l.5 0l.5 0l.5 0l.5 0l.5 0l.5 0l.5 0l.5 0l.5 0l.5 .4l.5 0l.5 0l.5 0l.5 0l.5 0l.5 0l.5 0l.5 0l.5 0l.5 0l.5 0l.5 0l.5 0l.5 0l.5 0l.5 0l.5 0l.5 0l.5 0l.5 0l.5 0l.5 0l.5 0l.5 0l.5 0l.5-.6l.5 0l.5 0l.5 0l.5 0l.5 0l.5-1.1l.5 1.1l.5 0l.5 0l.5 0l.5 0l.5 0l.5 0l.5 0l.5 0l.5 0l.5 0l.5 0l.5 0l.5 0l.5 0l.5 0l.5 0l.5 0l.5 0l.5 0l.5-.2l.5 0l.5 0l.5 0l.5 0l.5 0l.5 0l.5 0l.5 0l.5 0l.5 0l.5 0l.5 0l.5 0l.5 0l.5 0l.5 0l.5 0l.5 0l.5 0l.5 0l.5 0l.5 0l.5 0l.5 0l.5 0l.5 0l.5 0l.5 0l.5 0l.5 0l.5 0l.5 0l.5 0l.5 0l.5 0l.5 .4l.5 0l.5 0l.5 0l.5 0l.5 0l.5 0l.5 0l.5-.1l.5 0l.5 0l.5 0l.5-.1l.5 0l.5-.1l.5 0l.5-.1l.5-.1l.5-.2l.5-.1l.5-.2l.5-.2l.5-.2l.5-.3l.5-.3l.5-.3l.5-.3l.5-.3l.5-.4l.5-.4l.5-.3l.5-.4l.5-.3l.5-.4l.5-.3l.5-.2l.5-.2l.5-.2l.5-1.2l.5 1.6l.5 0l.5 .1l.5 .1l.5 .2l.5 .2l.5 .3l.5 .3l.5 .3l.5 .3l.5 .3l.5 .3l.5 .3l.5 .3l.5-.9l.5 .2l.5 .2l.5 .1l.5 .1l.5 .1l.5 .1l.5 0l.5 0l.5-.1l.5-.1l.5-.1l.5-.1l.5-.2l.5-.2l.5-.3l.5-.2l.5-.3l.5-.3l.5-.3l.5-.4l.5-.4l.5-.4l.5-.4l.5-.4l.5-.5l.5-.5l.5 .3l.5-.6l.5-.5l.5-.6l.5-.6l.5-.6l.5-.7l.5-.6l.5-.7l.5-.7l.5-.7l.5-.7l.5-.7l.5-.8l.5-.7l.5-.7l.5-.8l.5-.7l.5-.7l.5-.8l.5-.7l.5-.7l.5-.7l.5-.6l.5-.7l.5-.6l.5-.6l.5-.7l.5-.5l.5-.5l.5-.5l.5-.4l.5-.4l.5-.3l.5-.3l.5-.3l.5-.2l.5-.1l.5-.2l.5 0l.5 0l.5 0l.5 .1l.5 .1l.5 .2l.5 .2l.5 .3l.5 .3l.5 .3l.5 .4l.5 .4l.5 .4l.5 .5l.5 .5l.5 .5l.5 .6l.5 .5l.5 .6l.5 .6l.5 .6l.5 .6l.5 .6l.5 .6l.5 .3l.5 .6l.5 .6l.5 .6l.5 .5l.5 .6l.5 .5l.5 .5l.5 .5l.5 .5l.5 .4l.5 .4l.5 .4l.5 .4l.5 .3l.5 .4l.5 .2l.5 .3l.5 .2l.5 .2l.5 .2l.5 .1l.5 .2l.5 .1l.5 0l.5 .1l.5 0l.5 0l.5-.1l.5 0l.5-.1l.5-.1l.5-.1l.5-.1l.5-.1l.5-.2l.5-.1l.5-.2l.5-.2l.5-.2l.5-.2l.5-.2l.5-.2l.5-.3l.5-.2l.5-.2l.5-.2l.5-.3l.5-.2l.5-.2l.5-.2l.5-.3l.5-.2l.5-.2l.5-.2l.5-.2l.5-.2l.5-.2l.5-.1l.5-.2l.5-.1l.5-.2l.5-.1l.5-.1l.5-.1l.5-.1l.5-.1l.5-.1l.5 .5l.5 0l.5-.1l.5 0l.5 0l.5 0l.5 0l.5 .1l.5 0l.5 .1l.5 .1l.5 0l.5 .1l.5 .2l.5 .1l.5 .1l.5 .2l.5 .1l.5 .2l.5 .2l.5 .2l.5 .2l.5 .2l.5 .3l.5 .2l.5 .2l.5 .3l.5 .2l.5 .3l.5 .3l.5 .2l.5 .3l.5 .3l.5 .3l.5 .3l.5 .3l.5 .3l.5 .3l.5 .3l.5 .3l.5 .3l.5 .3l.5 .3l.5 .3l.5-.5l.5 .3l.5 .3l.5 .3l.5 .2l.5 .3l.5 .3l.5 .3l.5 .3l.5 .2l.5 .3l.5 .3l.5 .2l.5 .3l.5 .2l.5 .3l.5 .2l.5 .2l.5 .3l.5 .2l.5 .2l.5 .2l.5 .2l.5 .2l.5 .7l.5 .1l.5 .2l.5 .2l.5 .1l.5 .2l.5 .1l.5 .2l.5 .1l.5 .2l.5 .1l.5 .1l.5 .1l.5 .1l.5 .1l.5 .1l.5 .1l.5 .1l.5 .1l.5 .1l.5 .1l.5 .1l.5 0l.5 .1l.5 .1l.5 0l.5 .1l.5 .1l.5 0l.5 .1l.5 0l.5 0l.5 .1l.5 0l.5 .1l.5 0l.5 0l.5 0l.5 .1l.5 0l.5 0l.5 0l.5 .1l.5 0l.5 0l.5 0l.5 0l.5 0l.5-.1l.5-.1l.5-.2l.5-.2l.5-.5l.5-.7l.5-1l.5-1.5l.5-2.2l.5-2.9l.5-4.1l.5-5.3l.5-6.7l.5-8.4l.5-10.1l.5-11.8l.5-13.4l.5-14.6l.5-15.9l.5-15.6l.5-15.2l.5-13.9l.5-11.8l.5-9.2l.5-6l.5-2.5l.5 .9l.5 4.3l.5 7.2l.5 9.3l.5 10.9l.5 11.5l.5 11.6l.5 10.9l.5 9.7l.5 8.4l.5 6.8l.5 5.3l.5 3.9l.5 2.6l.5 2.4l.5 1l.5 .6l.5 .2l.5-.1l.5-.2l.5-.5l.5-.7l.5-.9l.5-1.3l.5-1.7l.5-1.9l.5-2.2l.5-2.2l.5-2.2l.5-1.9l.5-1.5l.5-.7l.5 0l.5 1l.5 2.1l.5 3.1l.5 4l.5 4.9l.5 5.6l.5 6.1l.5 6.3l.5 6.5l.5 6.2l.5 6l.5 5.5l.5 5l.5 4.4l.5 3.8l.5 3.2l.5 2.6l.5 2.1l.5 1.7l.5 1.3l.5 .9l.5 .8l.5 .5l.5 .4l.5-.3l.5 .2l.5 .1l.5 .1l.5 .1l.5 0l.5 0l.5 0l.5 0l.5 0l.5 0l.5 0l.5 0l.5 0l.5 0l.5 0l.5 0l.5 0l.5 0l.5 0l.5 0l.5 0l.5 0l.5 0l.5 0l.5 0l.5 0l.5 0l.5 0l.5 0l.5 0l.5 0l.5 0l.5 0l.5 0l.5 0l.5 0l.5 0l.5 0l.5 0l.5 0l.5-.4l.5 0l.5 0l.5 0l.5 0l.5 0l.5 0l.5 0l.5 0l.5 0l.5 0l.5 0l.5 0l.5 0l.5 1.1l.5-1.1l.5 0l.5 0l.5 0l.5 0l.5 0l.5 0l.5 0l.5 0l.5 0l.5 0l.5 0l.5 .9l.5 0l.5 0l.5 0l.5 0l.5 0l.5 0l.5 0l.5 0l.5 0l.5 0l.5 0l.5 0l.5 0l.5 0l.5 0l.5 0l.5 0l.5 0l.5 0l.5 0l.5 0l.5 0l.5 0l.5 0l.5 0l.5 0l.5 0l.5 0l.5 0l.5 0l.5 0l.5-.8l.5 0l.5 0l.5 0l.5 0l.5 0l.5 0l.5 0l.5 0l.5 .1l.5 0l.5 0l.5 0l.5 0l.5 0l.5 0l.5 0l.5 0l.5 0l.5 0l.5 0l.5 0l.5 0l.5 0l.5 0l.5 0l.5 0l.5 0l.5 0l.5 0l.5 0l.5 0l.5 0l.5 0l.5 .2l.5 0l.5 0l.5 0l.5 0l.5 0l.5 0l.5 0l.5 0l.5 0l.5 0l.5 0l.5 0l.5 0l.5 0l.5 1.4l.5-1.4l.5 0l.5 0l.5 0l.5 0l.5 0l.5 0l.5 0l.5 0l.5 0l.5 0l.5 0l.5 0l.5 0l.5 0l.5 0l.5 0l.5 0l.5 0l.5 0l.5 0l.5 0l.5 0l.5 0l.5 0l.5 0l.5-.1l.5 0l.5 0l.5 0l.5 0l.5 0l.5 0l.5 0l.5 0l.5 0l.5 0l.5 0l.5 0l.5 0l.5 0l.5 0l.5 0l.5 0l.5 0l.5 0l.5 0l.5 0l.5 0l.5 0l.5 0l.5 0l.5-.1l.5 0l.5-.1l.5-.2l.5-.3l.5-.5l.5-.8l.5-1l.5-1.4l.5-1.7l.5-1.5l.5-3.9l.5-1.2l.5-2.7l.5-2.4l.5-2l.5-1.4l.5-.6l.5 .1l.5 .9l.5 1.5l.5 1.7l.5 1.9l.5 1.7l.5 1.5l.5 1.2l.5 .9l.5 .7l.5 .5l.5 .6l.5 .6l.5 .8l.5 .9l.5 1l.5-.5l.5 2.5l.5 .9l.5 .8l.5 .6l.5 .5l.5 .4l.5 .3l.5 .2l.5 .1l.5 0l.5 .1l.5-.5l.5 0l.5 0l.5 0l.5 0l.5 0l.5 0l.5 0l.5 0l.5 0l.5 0l.5 0l.5 0l.5 0l.5 0l.5 0l.5 0l.5 0l.5 0l.5 0l.5 0l.5 1.2l.5-1.2l.5 0l.5 0l.5 0l.5 0l.5 0l.5 0l.5 0l.5 0l.5 0l.5 0l.5 0l.5 0l.5 .6l.5 0l.5 0l.5 0l.5 0l.5 0l.5 0l.5 0l.5 0l.5 0l.5 1.2l.5-1.2l.5 0l.5 0l.5 0l.5 0l.5 0l.5 0l.5 0l.5 0l.5 0l.5 0l.5 0l.5 0l.5 0l.5 0l.5 0l.5 0l.5 0l.5 0l.5-.7l.5 0l.5 0l.5 0l.5 0l.5 0l.5 0l.5 0l.5 0l.5 0l.5 0l.5 0l.5 0l.5 0l.5 0l.5 0l.5 0l.5 0l.5 0l.5 0l.5 0l.5 0l.5 0l.5 0l.5 0l.5 0l.5-.3l.5 0l.5 0l.5 0l.5 0l.5 0l.5 0l.5 0l.5 0l.5 0l.5 0l.5 0l.5 0l.5 0l.5 0l.5 0l.5 0l.5 0l.5 0l.5 0l.5 0l.5 1.2l.5-1.2l.5 .9l.5 0l.5 0l.5 0l.5 0l.5 0l.5 0l.5 0l.5 0l.5 0l.5 0l.5 0l.5 0l.5 0l.5 0l.5 0l.5 0l.5 0l.5 0l.5 0l.5 0l.5 0l.5 0l.5 0l.5 0l.5 0l.5 0l.5 0l.5 0l.5 .5l.5 0l.5 0l.5 0l.5 0l.5 0l.5 0l.5-1.2l.5 1.2l.5 0l.5 0l.5 0l.5 0l.5 0l.5 0l.5 0l.5 0l.5 0l.5 0l.5 0l.5 0l.5 0l.5 0l.5 0l.5 0l.5 0l.5 0l.5 0l.5 0l.5 0l.5 0l.5 0l.5 0l.5-.8l.5 0l.5 0l.5 0l.5 0l.5 0l.5 0l.5 0l.5 0l.5 0l.5 0l.5 0l.5 0l.5 0l.5 0l.5 0l.5 0l.5 0l.5 0l.5 0l.5 0l.5 0l.5-1.4l.5 1.4l.5 0l.5 0l.5 0l.5 0l.5 0l.5 0l.5 .2l.5 0l.5 0l.5 0l.5 0l.5 0l.5 0l.5 0l.5 0l.5 0l.5 1.2l.5-1.2l.5 0l.5 0l.5 0l.5 0l.5 0l.5-1.6l.5 1.6l.5 0l.5 0l.5 0l.5 0l.5-.1l.5 0l.5 0l.5-.1l.5 0l.5-.2l.5-.3l.5-.4l.5-.6l.5-1l.5-1.4l.5-2.6l.5-2.7l.5-3.7l.5-4.7l.5-5.8l.5-6.9l.5-7.9l.5-8.8l.5-9.2l.5-9.2l.5-8.7l.5-7.5l.5-5.8l.5-3.8l.5-1.2l.5 1.2l.5 3.8l.5 5.8l.5 7.5l.5 8.7l.5 9.2l.5 9.2l.5 8.8l.5 7.9l.5 6.9l.5 5.8l.5 4.7l.5 3.7l.5 2.7l.5 2l.5 1.5l.5 .9l.5 .7l.5 .4l.5 .2l.5 .2l.5 .1l.5 0l.5 0l.5 .6l.5 0l.5 0l.5 0l.5 0l.5 0l.5 0l.5 0l.5 0l.5 0l.5 0l.5 0l.5 0l.5 0l.5 0l.5 0l.5-.1l.5 0l.5 0l.5 0l.5 0l.5 0l.5 0l.5-.1l.5 0l.5 0l.5-.1l.5 0l.5-.1l.5-.1l.5-.1l.5-.1l.5-.1l.5-.1l.5-.1l.5-.2l.5-.1l.5-.2l.5-.2l.5 1.2l.5-1.6l.5-.2l.5 .1l.5-.2l.5-.2l.5-.2l.5-.2l.5-.1l.5-.2l.5-.1l.5-.2l.5-.1l.5 0l.5-.1l.5 0l.5-.1l.5 0l.5-.1l.5-.1l.5-.3l.5-.4l.5-.6l.5-.9l.5-1.3l.5-1.7l.5-2.2l.5-2.6l.5-3l.5-3.3l.5-3.4l.5-3.2l.5-2.8l.5-2.2l.5-1.4l.5-.4l.5 .7l.5 1.6l.5 2.5l.5 3.1l.5 3.5l.5 3.6l.5 3.6l.5 3.3l.5 2.8l.5 2.4l.5 2l.5 .3l.5 2.3l.5 .8l.5 .5l.5-.9l.5 1.4l.5 .1l.5 .1l.5-.1l.5 0l.5-.2l.5-.1l.5-.3l.5-.9l.5-.4l.5-.5l.5-.6l.5-.7l.5-.9l.5-1.1l.5-1.2l.5-1.5l.5-1.7l.5-1.9l.5-3.2l.5-1.2l.5-2.5l.5-2.8l.5-2.8l.5-2.6l.5-3.1l.5-3l.5-3l.5-2.8l.5-2.7l.5-2.4l.5-2.2l.5-1.9l.5-1.5l.5-1.3l.5-1l.5-1l.5-.9l.5-1.1l.5-1.6l.5-2.1l.5-3l.5-4.1l.5-5.2l.5-6.6l.5-7.8l.5-8.9l.5-11.1l.5-8.5l.5-9.8l.5-8.9l.5-7.4l.5-5.3l.5-2.8l.5 .1l.5 3l.5 5.9l.5 8.6l.5 10.6l.5 12.2l.5 13.1l.5 13.3l.5 13l.5 12.2l.5 11.1l.5 9.7l.5 7.6l.5 6.8l.5 5.4l.5 4.3l.5 3.2l.5 2.3l.5 1.7l.5 1.2l.5 .8l.5 .6l.5 .3l.5 .3l.5 .1l.5 .1l.5 0l.5 .1l.5 0l.5 0l.5 0l.5 0l.5 0l.5 0l.5 0l.5 0l.5 0l.5-.1l.5 0l.5-.1l.5-.1l.5-.2l.5-.3l.5-.5l.5-.8l.5-1l.5-.6l.5-2l.5-2.7l.5-3.3l.5-4.3l.5-5.1l.5-6l.5-6.7l.5-7.4l.5-7.7l.5-7.7l.5-7.3l.5-6.5l.5-5.2l.5-3.7l.5-1.7l.5 .2l.5 2.1l.5 4l.5 5.5l.5 6.7l.5 7.4l.5 7.7l.5 7.7l.5 7.3l.5 6.6l.5 5.8l.5 4.9l.5 4.1l.5 3.2l.5 2.5l.5 1.9l.5 1.4l.5 .9l.5 .7l.5 .5l.5 .2l.5 .2l.5 .1l.5 .1l.5 .1l.5 0l.5-.2l.5 0l.5 0l.5 0l.5 0l.5 0l.5 0l.5 0l.5 0l.5 0l.5 0l.5 .1l.5 0l.5-.1l.5 0l.5-.1l.5-.1l.5-.1l.5-.3l.5-.4l.5-.9l.5-.8l.5-1.1l.5-1.5l.5-1.9l.5-2.5l.5-3.2l.5-3.9l.5-4.7l.5-5.3l.5-6.1l.5-6.6l.5-6.9l.5-7.1l.5-6.8l.5-6.4l.5-5.7l.5-4.7l.5-3.6l.5-2.5l.5-1.5l.5-.9l.5-.5l.5-.7l.5-1.4l.5-2.5l.5-4l.5-5.7l.5-7.5l.5-9.1l.5-10.1l.5-10.6l.5-10.1l.5-8.9l.5-5.9l.5-3.8l.5-.6l.5 3.1l.5 6.6l.5 9.8l.5 12.4l.5 14.3l.5 15.3l.5 15.6l.5 15.2l.5 14.5l.5 12.6l.5 11l.5 9.2l.5 7.4l.5 5.8l.5 4.5l.5 3.3l.5 2.4l.5 1.7l.5 1.1l.5 .8l.5 .5l.5 .3l.5 .2l.5 .1l.5 .1l.5 0l.5 0l.5 0l.5 0l.5 0l.5 0l.5 0l.5 0l.5 0l.5 0l.5 0l.5 0l.5 0l.5 0l.5-.2l.5 0l.5-.1l.5-.1l.5-.1l.5-.2l.5-.4l.5-.5l.5-.8l.5-1.1l.5-.3l.5-2.8l.5-1.9l.5-2.2l.5-2.2l.5-2l.5-1.6l.5-1.2l.5-.5l.5 .2l.5 .9l.5 1.5l.5 1.9l.5 2.1l.5 2.2l.5 2l.5 .3l.5 2.9l.5 1.1l.5 .8l.5 .4l.5 .2l.5-.1l.5-.3l.5-.5l.5-.6l.5-.7l.5-.7l.5-.6l.5-.6l.5-.3l.5-.1l.5 .1l.5 .4l.5 .5l.5 .6l.5 .8l.5 .7l.5 .6l.5 .6"/>
</g>
<rect x="232.2" y="889" width="827.0999999999999" height="670.5" fill="none" stroke="#000" stroke-width="8" stroke-linejoin="miter"/>
<line x1="244.0" y1="1559.5" x2="244.0" y2="1572.5" stroke="#000" stroke-width="8" stroke-linecap="butt"/>
<text x="242.0" y="1618.0" font-size="46.5" font-weight="normal" text-anchor="middle" class="tk">4000</text>
<line x1="357.1" y1="1559.5" x2="357.1" y2="1566.5" stroke="#000" stroke-width="8" stroke-linecap="butt"/>
<line x1="470.2" y1="1559.5" x2="470.2" y2="1572.5" stroke="#000" stroke-width="8" stroke-linecap="butt"/>
<text x="470.2" y="1618.0" font-size="46.5" font-weight="normal" text-anchor="middle" class="tk">3000</text>
<line x1="583.3" y1="1559.5" x2="583.3" y2="1566.5" stroke="#000" stroke-width="8" stroke-linecap="butt"/>
<line x1="696.4" y1="1559.5" x2="696.4" y2="1572.5" stroke="#000" stroke-width="8" stroke-linecap="butt"/>
<text x="696.4" y="1618.0" font-size="46.5" font-weight="normal" text-anchor="middle" class="tk">2000</text>
<line x1="809.5" y1="1559.5" x2="809.5" y2="1566.5" stroke="#000" stroke-width="8" stroke-linecap="butt"/>
<line x1="922.6" y1="1559.5" x2="922.6" y2="1572.5" stroke="#000" stroke-width="8" stroke-linecap="butt"/>
<text x="922.6" y="1618.0" font-size="46.5" font-weight="normal" text-anchor="middle" class="tk">1000</text>
<line x1="1035.7" y1="1559.5" x2="1035.7" y2="1566.5" stroke="#000" stroke-width="8" stroke-linecap="butt"/>
<text x="18.5" y="918.0" font-size="85" font-weight="bold" text-anchor="start" >c</text>
<text class="th" transform="translate(188.0,1200.0) rotate(-90)" font-size="57" font-weight="bold" text-anchor="middle">Absorbance (a.u.)</text>
<text class="th" x="409" y="1687" font-size="57" font-weight="bold">Wavenumber (cm<tspan dy="-23" font-size="36">-1</tspan><tspan dy="23">)</tspan></text>
<text class="an" x="409.5" y="978.8" font-size="46" font-weight="normal">2356 cm<tspan dy="-12.5" font-size="26">-1</tspan></text>
<text class="an" x="653" y="978.8" font-size="46" font-weight="normal">1735 cm<tspan dy="-12.5" font-size="26">-1</tspan></text>
<text class="an" x="947.5" y="1054" font-size="38" font-weight="normal">150<tspan x="1018" stroke-width="0.6" font-family="'Noto Sans CJK SC', sans-serif">&#8451;</tspan></text>
<text class="an" x="963" y="1522" font-size="38" font-weight="normal">30<tspan x="1013" stroke-width="0.6" font-family="'Noto Sans CJK SC', sans-serif">&#8451;</tspan></text>
<defs><linearGradient id="ag" x1="0" y1="1" x2="0" y2="0"><stop offset="0" stop-color="#000"/><stop offset="1" stop-color="#0000FF"/></linearGradient></defs>
<rect x="1014" y="1110" width="12.5" height="361" fill="url(#ag)"/>
<polygon points="1020.2,1079 1038,1116 1002.5,1116" fill="#0000FF"/>
<g fill="none" stroke-width="7.5" stroke-linejoin="round" stroke-linecap="butt">
<path stroke="#0000FF" d="M1374.0 1022.4l1-.2l1 .4l1-.4l1 .3l1-.1l1-.3l1 .4l1-.4l1 .3l1-.2l1 0l1 .2l1 .4l1-.6l1 .1l1 .3l1 .3l1-.3l1-.2l1 .5l1-.8l1 .7l1-.5l1-.1l1 0l1 .1l1 .5l1-.6l1 .4l1 0l1-.2l1 .1l1-.3l1-.1l1 .2l1 .3l1-.2l1 0l1 .2l1-.1l1-.2l1 .4l1 0l1-.4l1 .3l1-.1l1 .3l1-.1l1-.4l1 .6l1-.7l1 .2l1 .3l1-.5l1 .3l1-.4l1 .5l1 .1l1-.1l1 .2l1-.4l1 .3l1-.1l1 0l1-.1l1 .3l1 .1l1-.4l1 .1l1-.5l1 .6l1-.1l1 .3l1-.1l1-.5l1 .1l1 .2l1-.5l1 .4l1-.3l1 0l1-.1l1 .6l1-.5l1 .1l1 .1l1 .4l1-.6l1 .3l1 0l1 .3l1 0l1 0l1-.5l1 .1l1 0l1 .4l1 .1l1-.7l1 0l1 .1l1 0l1 .2l1 .1l1-.3l1-.2l1 .3l1 0l1 .2l1 .3l1-.2l1-.2l1 .1l1 0l1-.5l1 .7l1-.1l1 .1l1-.1l1-.3l1 0l1-.2l1 .4l1-.5l1 .1l1 .1l1-.1l1 .2l1-.3l1 0l1 .1l1 0l1 .2l1-.3l1 .7l1-.2l1-.4l1 .1l1 .1l1 0l1-.2l1 .6l1 .1l1-.4l1 0l1-.3l1 0l1 .2l1-.1l1 .5l1-.6l1-.1l1 .8l1-.4l1-.3l1 .3l1-.4l1 .4l1 .4l1-.1l1-.1l1-.4l1 .1l1-.2l1 .5l1-.2l1 .2l1-.3l1-.1l1 .4l1 .2l1-.1l1-.1l1 .1l1-.1l1-.4l1 .2l1-.1l1-.3l1 0l1 .2l1 0l1 .3l1 .2l1-.4l1 .4l1 0l1 0l1-.5l1-.2l1 0l1-.1l1 0l1 .3l1 .2l1 0l1-.3l1 .1l1 .1l1-.8l1 .2l1-.3l1-.8l1-.9l1-1.3l1-1.5l1-.9l1-1.9l1-1.4l1-1.7l1-2.6l1-2.2l1-2.1l1-2.9l1-3.4l1-3.2l1-3.4l1-3l1-3.9l1-4.6l1-3.6l1-4.1l1-4.6l1-4.6l1-4.1l1-4.5l1-4.2l1-3.1l1-3.8l1-3.4l1-2.5l1-2.9l1-1.7l1-1.5l1-1.5l1-.4l1 .3l1 1.2l1 2.6l1 3l1 4.2l1 4.5l1 6l1 5.3l1 6l1 6.1l1 6.3l1 5.4l1 5.8l1 4.7l1 4.5l1 3.9l1 2.9l1 2.9l1 1.5l1 .8l1 .8l1-1.3l1-1.3l1-2.1l1-3l1-3.6l1-3.4l1-3.6l1-3l1-3.2l1-1.4l1-1l1 .1l1 .6l1 .2l1 .5l1 .8l1 .9l1 .5l1 1.1l1 1l1 1.2l1 1.4l1 1.2l1 1.4l1 1.4l1 1.9l1 1.3l1 1.6l1 1.6l1 .9l1 1.7l1 1.8l1 1.3l1 .8l1 1.3l1 1.5l1 .9l1 1.2l1 .9l1 1.5l1 1l1 1l1 .1l1 1.2l1 .6l1 .2l1 1.2l1 .5l1-.1l1 .9l1 0l1 .3l1 .7l1 .1l1-.3l1 .4l1 .2l1 0l1 0l1 .2l1 .4l1-.4l1 .4l1 0l1-.3l1 .3l1 .3l1-.1l1-.3l1 .7l1-.1l1 .1l1-.7l1 .2l1-.2l1 .6l1-.4l1-.1l1 .2l1 .4l1-.1l1-.4l1-.1l1 .6l1-.2l1 .1l1-.5l1-.1l1 .5l1-.2l1-.2l1 .7l1-.3l1 .1l1-.5l1 .6l1-.6l1 .6l1-.3l1-.1l1 .1l1 .3l1-.5l1-.1l1 .3l1-.2l1-.1l1 0l1-.1l1 .2l1 0l1 0l1 .4l1-.4l1 .2l1-.3l1 .2l1-.3l1 .2l1-.2l1 .6l1-.2l1-.2l1 .2l1 .3l1-.6l1 .6l1-.4l1 .1l1 .3l1-.4l1 .1l1 .2l1 .2l1-.5l1 .4l1-.1l1-.1l1-.2l1 0l1-.3l1 .1l1 0l1 .5l1-.4l1-.1l1 0l1 .6l1 0l1-.2l1-.3l1 0l1 0l1 .2l1-.3l1 .3l1-.2l1 .6l1 0l1-.4l1-.2l1 .6l1-.6l1 .1l1-.3l1 .3l1 .1l1 0l1-.2l1 .2l1-.4l1 .2l1-.1l1 .2l1-.3l1 0l1 .2l1 0l1 .3l1-.1l1 .2l1-.1l1 .1l1 .1l1-.4l1 0l1 .5l1-.7l1 .5l1-.1l1-.5l1 .7l1 0l1-.2l1 .1l1 0l1-.5l1 .3l1 0l1 .3l1-.1l1 .1l1-.2l1 .2l1-.2l1 .1l1-.4l1-.2l1 .1l1 .2l1-.2l1 .6l1-.3l1 .1l1 0l1 0l1-.1l1-.4l1 .6l1 0l1-.2l1 0l1 .1l1-.4l1 .5l1-.4l1-.1l1 .1l1 .4l1-.4l1 .4"/>
<path stroke="#0000FF" d="M1877.0 1022.9l1-.4l1-.1l1 .1l1 .1l1 .1l1-.1l1 0l1-.4l1 0l1 .1l1 .4l1-.4l1 .3l1-.5l1 0l1 .2l1 .3l1 .1l1-.1l1-.3l1 .2l1 0l1 0l1-.3l1 .7l1-.5l1 .6l1 0l1-.6l1 .4l1 .4l1 .2l1-.3l1-.1l1 .1l1 .6l1-.5l1 .4l1-.4l1 .3l1 .3l1-.7l1 .5l1-.4l1 .2l1-.2l1-.5l1 .4l1-.4l1-.4l1-.1l1 .4l1-.1l1-.1l1-.2l1 .2l1 0l1 .4l1-.7l1 .6l1 .1l1-.6l1 .6l1-.1l1 .1l1-.5l1 .1l1 0l1 .5l1-.3l1-.2l1 0l1-.1l1-.2l1 .1l1 .6l1-.5l1 .5l1-.5l1 0l1 .2l1-.2l1 .1l1 .5l1-.1l1-.1l1-.1l1 .2l1 .1l1-.4l1 .2l1-.6l1 .6l1-.2l1 .2l1-.1l1-.3l1-.2l1 .7l1-.6l1 .3l1-.1l1-.1l1 .4l1 .2l1-.6l1 .3l1-.3l1 .2l1-.1l1-.2l1 0l1 .1l1 .5l1-.3l1-.2l1 .5l1 .1l1-.4l1-.3l1 .1l1-.1l1 .2l1-.2l1 .1l1 0l1 .3l1 .2l1-.1l1-.3l1 0l1 .1l1-.1l1 0l1-.3l1 .2l1 .6l1-.7l1 .3l1 .1l1 .2l1-.5l1 0l1 0l1 .1l1 .1l1 .4l1-.1l1 0l1-.7l1 0l1 .6l1 .1l1-.3l1 .1l1-.5l1 .3l1 .4l1 0l1 0l1 .1l1-.6l1-.1l1 0l1 .3l1 .1l1 .3l1-.2l1-.1l1 .1l1-.2l1 0l1-.4l1 .6l1-.4l1 .5l1-.2l1-.3l1-.1l1 .1l1 .3l1 .1l1-.5l1 0l1 .3l1 .1l1-.2l1-.1l1 .3l1-.5l1 .2l1 .2l1 .4l1-.3l1 .2l1-.3l1-.2l1 0l1 .6l1-.2l1-.4l1-.2l1 .4l1 .1l1-.2l1-.1l1 .3l1 .2l1-.5l1-.2l1 .3l1 0l1 .2l1-.3l1 .4l1 0l1-.2l1-.2l1 .6l1-.6l1 .5l1-.5l1 0l1 .4l1-.4l1 .6l1-.4l1-.3l1 .1l1 .1l1 .2l1 .2l1-.6l1 .2l1-.2l1 .6l1-.6l1-.1l1 0l1 .3l1 .4l1-.1l1-.1l1 .2l1 0l1-.5l1-.2l1 .6l1-.1l1-.6l1 .5l1-.3l1 0l1-.1l1-.1l1-.2l1 .2l1 0l1 .5l1-.7l1 .6l1-.6l1 0l1 .3l1 0l1-.4l1-.4l1 .2l1-.2l1 .4l1-.7l1 0l1 .3l1-.9l1 .2l1 .1l1-.2l1-.8l1-.2l1-.2l1 .5l1-.8l1 .1l1-.1l1-.7l1-.3l1 .3l1-.6l1-.5l1 .1l1-.6l1-.3l1-.5l1 .3l1-.1l1-.5l1 0l1-1l1-.2l1-.2l1 0l1-.5l1-1.1l1-.8l1-.7l1-.7l1-.5l1-1.3l1-.1l1-.5l1-.1l1 .3l1 .5l1 .6l1 .9l1 1.1l1 1.3l1 .4l1 1l1 1.2l1 .3l1 .4l1 .5l1 .9l1 .3l1 .9"/>
<path stroke="#0000E3" d="M1374.0 1067.1l1 .1l1-.6l1-.1l1 0l1 .3l1 .2l1-.2l1-.2l1 .1l1 .2l1 0l1 .1l1 .1l1-.2l1-.4l1 .6l1-.5l1 .3l1-.2l1 .3l1-.4l1 0l1 0l1-.1l1 .6l1-.2l1-.2l1 0l1 .5l1-.4l1-.2l1 .4l1-.1l1 .3l1-.7l1 .3l1 .3l1 0l1 0l1-.7l1 .2l1-.1l1 .1l1 .6l1-.3l1 .2l1-.4l1 .4l1-.3l1-.2l1 .4l1 .2l1-.7l1 .4l1 0l1-.3l1 .1l1-.2l1 .1l1 0l1 .3l1 0l1-.3l1-.2l1 .3l1 .2l1-.4l1 .1l1 0l1 .4l1-.2l1-.3l1 0l1 .2l1 .1l1 .1l1-.4l1 0l1 .5l1-.3l1-.1l1 0l1 .6l1-.6l1 .3l1-.2l1 0l1 .4l1 .1l1-.5l1-.1l1 .4l1-.4l1-.2l1 .7l1-.4l1 .4l1-.4l1 .4l1-.3l1-.3l1-.1l1 .4l1 .1l1 .2l1-.6l1 .4l1-.2l1 .1l1-.3l1 .1l1 .2l1 .3l1-.6l1 .3l1 .2l1 .2l1-.6l1-.1l1 .7l1 0l1-.4l1-.4l1 .7l1-.4l1 .4l1-.2l1 .2l1-.6l1 .5l1-.4l1 .1l1 .4l1 0l1-.6l1 .1l1 .1l1 .1l1-.1l1-.2l1 .1l1 .4l1 .1l1-.7l1 .4l1 .2l1-.6l1 .7l1-.6l1 .4l1-.1l1 .1l1-.3l1 .1l1 .2l1-.2l1 .2l1-.1l1 0l1-.4l1 .5l1-.1l1-.2l1 .4l1 0l1-.2l1-.3l1 .3l1-.3l1 0l1 .2l1-.2l1 .3l1 0l1-.4l1 .5l1-.4l1 .5l1 0l1-.2l1-.4l1 .4l1-.1l1 .4l1-.6l1 .5l1 .1l1-.2l1 0l1-.5l1 .6l1-.4l1 .3l1-.1l1-.6l1 .5l1 .1l1-.7l1 .1l1 .2l1-.8l1 0l1-1.2l1-.5l1-1.6l1-1l1-1.1l1-2.2l1-1.8l1-1.7l1-2.3l1-2.6l1-2.5l1-2.8l1-2.5l1-3.5l1-3.4l1-4.4l1-3.5l1-4.7l1-4l1-4.4l1-4.7l1-4.1l1-4.7l1-4.4l1-4l1-4.6l1-3.1l1-3.6l1-3.2l1-2.3l1-2.5l1-1l1-1.4l1-.6l1 .6l1 1.1l1 2.1l1 3.9l1 3.7l1 5.6l1 5.1l1 6.2l1 6.5l1 6l1 6.3l1 5.7l1 5.5l1 5.2l1 4.8l1 4.4l1 3.2l1 2.7l1 2.1l1 .2l1 .1l1-.6l1-2.3l1-2.7l1-3l1-4l1-3.9l1-4l1-3.4l1-2.9l1-2.3l1-.5l1-.1l1 0l1 1.1l1 0l1 .6l1 .8l1 1.4l1 1.3l1 1.1l1 1.1l1 1.3l1 1.2l1 2.1l1 1.5l1 1.5l1 1.9l1 1.5l1 2.1l1 1.5l1 1.2l1 2.2l1 .8l1 1.9l1 1.4l1 1.2l1 1.2l1 1.8l1 .6l1 1.5l1 1.3l1 .3l1 1l1 1.1l1 .6l1 .8l1 .8l1 0l1 .6l1 .4l1 .2l1 1l1 .3l1 .2l1-.4l1 .9l1 .1l1-.1l1 .4l1-.1l1-.1l1 0l1 .1l1 0l1 .2l1 .4l1 0l1 .2l1-.1l1-.4l1 .3l1-.1l1 .3l1-.2l1-.2l1 .3l1 .3l1-.6l1 .5l1-.7l1 .2l1 0l1 .4l1 .2l1-.2l1-.3l1 .4l1-.4l1-.1l1 .5l1-.2l1 .1l1-.1l1 .3l1-.4l1 .3l1-.1l1 .1l1-.4l1 .3l1-.1l1-.3l1 0l1 .3l1-.4l1 .6l1-.6l1-.1l1 .1l1 .6l1-.4l1-.2l1-.1l1 0l1 .6l1-.1l1 .1l1 0l1-.5l1 .4l1-.2l1 .4l1 0l1 0l1-.6l1 .6l1 0l1 .1l1-.7l1 .1l1-.1l1-.1l1 .7l1-.1l1-.1l1 .2l1-.2l1-.3l1-.1l1 0l1 .5l1-.4l1 .1l1 0l1-.3l1 .2l1 0l1 .4l1-.3l1 0l1 .5l1-.4l1 .3l1-.2l1-.5l1 .3l1 0l1 .3l1-.3l1 .3l1-.2l1-.2l1 .5l1-.6l1 .6l1-.6l1-.1l1 .2l1 .4l1 .2l1-.8l1 .4l1 0l1 .2l1-.5l1 .3l1-.1l1 .4l1-.5l1 .6l1-.6l1 0l1 .4l1-.2l1-.3l1 .4l1-.4l1 .5l1 0l1 0l1-.1l1-.2l1 0l1 0l1 .4l1-.6l1 .6l1-.7l1 .2l1 0l1 .5l1-.3l1-.1l1 .4l1-.5l1 .2l1 0l1 .2l1 0l1-.1l1-.2l1 0l1-.2l1 .6l1-.2l1 .1l1-.5l1 .3l1 .2l1-.1l1-.4l1 .3l1 .3l1-.5l1 0l1 0l1 .4l1 .1l1-.6l1 0l1 .1"/>
<path stroke="#0000E3" d="M1877.0 1066.7l1 .1l1-.3l1 .2l1-.1l1 .6l1-.2l1-.5l1 .7l1-.7l1 .2l1 .5l1-.2l1 0l1-.3l1-.1l1 .3l1-.4l1 .1l1 .1l1-.3l1 .3l1 .4l1-.1l1-.2l1 .2l1-.1l1-.3l1 .5l1-.1l1 .3l1 .2l1-.2l1 .2l1 .2l1-.2l1 0l1 .4l1 .2l1-.1l1-.1l1 .1l1-.2l1-.1l1-.2l1-.2l1 .1l1-.5l1 .2l1 .2l1-.1l1-.2l1-.3l1 .1l1 0l1 .1l1-.2l1 .3l1 .2l1-.6l1 .3l1 .1l1-.3l1 .1l1 .4l1-.8l1 .4l1-.3l1 .5l1 .2l1-.4l1-.3l1 .4l1-.1l1 .2l1-.2l1 .1l1 .2l1-.3l1-.1l1 .5l1-.6l1 .3l1-.2l1 .3l1-.5l1 .7l1-.5l1-.3l1 .2l1 .1l1-.3l1 .3l1 0l1 .3l1-.3l1-.1l1 0l1 .4l1 .2l1-.4l1-.2l1 .4l1-.3l1-.1l1-.1l1 .5l1 0l1-.1l1-.1l1 0l1-.2l1 .6l1-.5l1 .2l1 .2l1 0l1-.3l1-.2l1 .2l1-.3l1 .6l1-.4l1 .4l1-.5l1 .1l1-.1l1 .1l1-.2l1-.1l1 .6l1-.4l1 0l1 0l1 .2l1-.1l1 .2l1 0l1-.2l1 .4l1 0l1-.7l1 .7l1 0l1-.1l1-.5l1 .6l1-.2l1-.5l1 0l1 .8l1-.3l1-.3l1-.1l1 0l1 .1l1 .4l1-.3l1-.2l1 .6l1-.1l1-.5l1 .6l1-.2l1 .1l1-.1l1 .2l1-.1l1 .1l1-.5l1 .4l1-.2l1 .2l1-.2l1 .3l1-.3l1-.2l1 0l1-.1l1 .3l1-.4l1 .4l1-.3l1 .3l1 0l1 0l1 .3l1-.7l1 .7l1-.3l1 0l1 .1l1 .2l1-.4l1 0l1 .5l1-.7l1 .4l1 0l1-.5l1 .5l1 0l1 .2l1-.4l1 .5l1-.4l1 0l1 .3l1-.7l1 .6l1-.1l1-.2l1 .4l1-.4l1 .1l1 0l1 .2l1-.4l1 .1l1 0l1 .1l1 .3l1-.5l1 .5l1-.4l1 .1l1-.2l1 .2l1 .4l1-.3l1 .1l1-.4l1 0l1 0l1 .2l1 .1l1 .1l1-.6l1 .5l1 .2l1-.3l1-.4l1 .2l1-.3l1 .2l1 .6l1-.3l1 0l1 .1l1 .1l1-.2l1-.1l1 0l1 .1l1-.1l1 0l1-.4l1 .4l1-.2l1 .2l1-.6l1 0l1-.1l1 .5l1 0l1-.2l1-.3l1 .3l1-.2l1-.2l1-.4l1 0l1-.1l1-.2l1 0l1 0l1 .1l1-.9l1 .2l1-.6l1-.1l1 .3l1-.4l1 .1l1-.7l1-.5l1 0l1-.1l1 .1l1-.3l1-.6l1-.3l1-.5l1 .2l1-.6l1-.3l1-.3l1-.3l1 .3l1-.8l1 .4l1-1.1l1 .1l1-1.2l1-.7l1-.2l1-1.1l1-.4l1-1.1l1-.6l1 .1l1-.2l1 .5l1 .5l1 .3l1 1.3l1 1l1 .8l1 1.3l1 .3l1 1.3l1 .5l1 0l1 .5l1 .9l1 .6l1-.2"/>
<path stroke="#0000C6" d="M1374.0 1110.7l1 .4l1-.5l1 .6l1-.3l1-.4l1 .3l1 .2l1-.1l1 .1l1-.4l1 .5l1-.3l1 .2l1 0l1-.2l1 0l1 .3l1 .2l1-.2l1-.1l1-.3l1-.2l1 .8l1-.2l1 .1l1-.4l1 .2l1 .3l1-.1l1-.2l1-.3l1 .1l1 .4l1-.4l1 .2l1 0l1 .2l1-.1l1-.4l1-.2l1 .2l1 .1l1 .2l1 .2l1 0l1-.7l1 .7l1-.1l1 .1l1-.2l1-.3l1 .5l1-.1l1-.1l1 .2l1-.4l1-.2l1 .3l1 .2l1-.4l1 .4l1 .1l1-.5l1 .3l1 0l1-.1l1-.2l1 0l1 .4l1 0l1-.2l1-.3l1 .5l1 0l1-.4l1 .3l1 .2l1 0l1-.3l1 0l1 .1l1-.3l1 0l1-.1l1 .5l1-.3l1 .2l1-.2l1 .1l1-.3l1-.1l1 .8l1-.5l1-.2l1 .4l1 .1l1-.5l1 .4l1-.2l1 .1l1-.4l1 0l1 .8l1-.1l1-.3l1 .1l1-.3l1 .4l1-.3l1 .5l1-.2l1 .1l1 .1l1-.6l1-.2l1 .2l1-.1l1 0l1-.1l1 .4l1 .3l1-.3l1 .4l1-.1l1-.6l1 .4l1-.2l1-.2l1 .7l1-.6l1 .3l1 0l1 .3l1-.3l1-.2l1 .1l1-.3l1 .7l1 0l1-.6l1-.2l1 .2l1 .1l1 .4l1 0l1 0l1-.7l1 .6l1 0l1-.1l1 .3l1-.8l1 .1l1 .5l1 .2l1-.3l1-.3l1 .3l1 .1l1-.5l1 .2l1-.1l1-.1l1 .3l1-.3l1 .1l1-.1l1 .4l1-.5l1 .6l1-.4l1-.2l1 .7l1-.5l1 .5l1 0l1 0l1-.6l1 .3l1-.3l1 .6l1 0l1-.2l1-.2l1-.1l1 .4l1-.3l1 .1l1-.4l1 0l1-.2l1 .5l1-.1l1-.4l1 .6l1-.5l1 .1l1-.3l1 0l1 .3l1-.8l1-.6l1-.5l1-1.1l1-.7l1-1.9l1-.8l1-2.4l1-1.2l1-2.2l1-2.6l1-2.2l1-2.8l1-2.9l1-3.3l1-3.3l1-3.1l1-3.9l1-4.2l1-5l1-4.3l1-4.1l1-5.3l1-4.1l1-5l1-4l1-5.1l1-3.5l1-4.2l1-3.7l1-3.2l1-2l1-2.4l1-1.9l1-.9l1 0l1-.3l1 1.6l1 2.1l1 3.6l1 4.8l1 5.1l1 5.3l1 6.1l1 6.4l1 6.9l1 6.3l1 6l1 5.8l1 5.8l1 4.9l1 4.3l1 3.2l1 2.4l1 1.8l1 1.5l1-.2l1-.7l1-2.3l1-2l1-3.7l1-3.4l1-4l1-4.3l1-4l1-2.2l1-2.4l1-.5l1-.5l1 .3l1 .9l1 .2l1 .5l1 1l1 1.2l1 .6l1 1.7l1 1.2l1 1.5l1 1.2l1 2l1 1.7l1 1.7l1 1.2l1 2l1 1.4l1 2l1 1.1l1 2.2l1 1.7l1 1.1l1 1.5l1 1.4l1 1.3l1 .8l1 2l1 .5l1 1l1 .9l1 1l1 1.2l1 .1l1 .8l1 1.1l1 .1l1 .3l1 1l1 .3l1 .3l1 .5l1-.2l1 .8l1 .1l1-.4l1 .3l1 .4l1 .1l1-.1l1 0l1 .3l1-.2l1 .4l1 .3l1-.5l1 .3l1 .2l1-.5l1 .6l1 .1l1-.4l1 0l1 .3l1-.2l1-.1l1 .4l1-.1l1-.3l1-.1l1 .1l1 0l1 .5l1-.2l1 .1l1 0l1 0l1-.7l1 .4l1 .4l1-.1l1-.5l1 .1l1 .2l1-.2l1 .1l1-.3l1 .2l1 .1l1-.4l1 .1l1 .7l1-.2l1 .1l1-.2l1 .1l1 .1l1 0l1-.7l1 .5l1-.3l1 .3l1-.3l1 .2l1 .3l1-.2l1-.3l1 .2l1-.1l1 .5l1-.6l1 0l1 .3l1-.4l1 .4l1 .3l1-.4l1-.2l1 .2l1 0l1-.3l1 0l1 0l1 .1l1 .1l1-.1l1 0l1-.1l1 .3l1 .3l1-.2l1 0l1 0l1-.3l1 .4l1-.2l1 0l1 .1l1-.1l1-.2l1 0l1 0l1 .2l1-.1l1 .2l1-.5l1 .3l1 .4l1-.5l1 .2l1 0l1-.2l1 .6l1-.6l1 .4l1-.5l1 0l1 .6l1-.3l1-.4l1 .3l1 .1l1 .2l1-.5l1 .1l1 .6l1-.2l1-.5l1 .2l1 0l1 .2l1 0l1 .2l1 0l1-.3l1 .2l1 0l1 0l1-.2l1 .2l1 0l1 .1l1-.6l1 .6l1-.7l1 .6l1-.1l1-.1l1 .4l1-.3l1-.2l1 .3l1 .1l1-.2l1-.2l1 .1l1 0l1 .2l1-.4l1 .1l1 .1l1-.1l1 0l1 .3l1 .1l1-.3l1 0l1-.3l1 .1l1-.1l1 .4l1 0l1-.4l1 .6l1-.4l1 .4l1 0l1 .1l1-.6l1 .1"/>
<path stroke="#0000C6" d="M1877.0 1111.2l1-.7l1 0l1 .5l1-.1l1 .3l1-.1l1-.2l1 .4l1-.4l1 0l1 .1l1-.2l1 0l1 .2l1-.2l1 .5l1-.3l1-.1l1-.3l1 .2l1 0l1 .2l1 0l1 .2l1 .1l1-.3l1 0l1 .2l1 .3l1-.4l1 .2l1 .4l1-.5l1 .3l1 .6l1-.1l1-.1l1-.3l1 .6l1-.2l1 .1l1 .1l1-.2l1-.5l1-.3l1 0l1 .1l1-.1l1-.3l1-.1l1 .3l1 0l1-.3l1 .5l1-.3l1-.4l1 .2l1 .3l1-.4l1 .4l1-.6l1 .2l1 .5l1-.2l1 0l1-.3l1 .2l1 0l1-.2l1 .3l1-.1l1 .4l1-.3l1-.2l1-.2l1 0l1 .5l1-.5l1 0l1 0l1 .3l1 .3l1-.2l1 .1l1-.6l1 0l1 .6l1-.3l1 .3l1-.3l1-.2l1 .1l1-.1l1 .6l1-.2l1-.2l1 .1l1-.1l1-.3l1 .7l1-.2l1 .3l1-.4l1 .1l1-.3l1-.2l1 .7l1 0l1-.4l1 .4l1 0l1-.5l1 .3l1 .3l1-.4l1 .4l1-.6l1 .1l1 .3l1-.4l1 0l1 .5l1-.3l1 .2l1-.4l1-.1l1 .2l1-.2l1 .7l1-.6l1 .2l1-.3l1 .3l1-.1l1 0l1-.2l1 0l1 .6l1-.4l1-.1l1 0l1 0l1 0l1-.2l1 .5l1-.2l1-.2l1 .5l1-.5l1 .1l1 .5l1-.6l1 .3l1 .3l1-.1l1-.5l1 .2l1 .3l1-.3l1 .5l1-.6l1 .6l1-.4l1-.2l1 .2l1-.3l1 .5l1-.4l1 .5l1-.2l1-.2l1-.1l1 .3l1-.3l1 .5l1-.6l1 .3l1 0l1-.2l1 .4l1-.3l1 .2l1 0l1-.3l1 .1l1-.2l1 0l1 .6l1-.4l1 .2l1-.4l1 .3l1-.1l1 .1l1-.2l1-.1l1 .1l1 0l1-.1l1 .5l1-.4l1 .1l1 .4l1-.1l1 .1l1 0l1-.6l1 .1l1-.2l1 .5l1 0l1-.2l1 0l1 .2l1 .1l1-.4l1 .5l1-.4l1 .2l1-.4l1 0l1 .6l1-.1l1 0l1-.6l1 0l1 .1l1 0l1 .1l1 .1l1-.3l1 .2l1 .3l1-.4l1 .6l1-.3l1 .1l1-.3l1 .1l1 .2l1-.3l1-.2l1 .6l1 0l1-.4l1-.2l1 .6l1-.2l1-.5l1 .2l1-.1l1 .5l1-.5l1 .6l1-.2l1-.5l1 .4l1-.2l1 .2l1 0l1-.4l1-.2l1 .6l1-.4l1 .3l1-.2l1-.1l1 0l1-.2l1-.2l1-.4l1 .4l1-.3l1-.1l1 .2l1-.8l1 .4l1-.7l1 .3l1 0l1-.7l1 .1l1 .1l1-.4l1-.3l1-.4l1-.4l1 0l1-.1l1-.4l1-.1l1-.4l1 .3l1-.2l1-.6l1-.2l1 0l1-.2l1 .1l1-.8l1-.3l1 0l1-1l1-.3l1-.7l1-.3l1-.8l1-.4l1-1l1 .1l1-.2l1 .3l1 .8l1 .8l1 .2l1 1l1 .9l1 .7l1 .6l1 .9l1 .5l1 1l1 .3l1 .1l1 .6l1 .5"/>
<path stroke="#0000AA" d="M1374.0 1156.9l1-.2l1 0l1-.1l1 .8l1-.2l1-.5l1 .5l1 .2l1-.3l1-.4l1 .3l1-.1l1-.1l1 .2l1-.4l1 .7l1-.2l1 0l1 .2l1-.2l1-.3l1 0l1-.1l1-.1l1 .6l1 .1l1-.5l1-.1l1 .4l1 .2l1 0l1-.6l1 .5l1 .1l1-.1l1-.3l1-.2l1 .6l1-.4l1 0l1 .1l1-.1l1 .4l1-.5l1-.2l1 .5l1 0l1 .2l1-.1l1 .1l1 .1l1-.4l1 0l1-.3l1 .1l1 .3l1-.4l1 .5l1-.5l1 .3l1 .4l1-.7l1-.1l1 .4l1-.2l1 .4l1-.6l1 .7l1 0l1-.1l1-.3l1-.1l1 .3l1-.1l1-.1l1 0l1 .1l1 .1l1 .2l1 0l1-.6l1 .1l1 .2l1 .1l1-.2l1-.1l1-.1l1 .2l1 .1l1 .4l1-.1l1 0l1 .1l1 0l1-.3l1 .1l1-.6l1 .5l1 0l1-.3l1 .3l1 .3l1-.4l1 .1l1-.3l1 .1l1 .4l1-.7l1 .2l1 .3l1-.1l1-.3l1 .4l1-.2l1 .2l1-.2l1 .1l1 .1l1-.2l1-.2l1 0l1 .6l1-.3l1-.3l1 .6l1-.5l1-.1l1 .3l1-.2l1 .2l1 0l1-.2l1 .3l1-.4l1 .3l1 .1l1-.4l1 .2l1-.2l1 .3l1 .3l1-.3l1 .2l1 0l1-.5l1 .7l1-.2l1-.5l1 .6l1-.4l1-.2l1 .7l1-.3l1 .1l1-.5l1 .5l1-.6l1 .2l1 .1l1-.3l1 .5l1-.3l1 0l1 .4l1-.3l1 .4l1-.2l1 .2l1-.2l1 .2l1 0l1-.6l1 .5l1-.3l1 .3l1-.1l1 .2l1-.6l1 .2l1 .3l1 .1l1-.1l1-.6l1 .5l1-.5l1 .4l1 .2l1-.6l1 .6l1-.2l1-.4l1-.1l1 .2l1 .2l1-.2l1-.4l1-.1l1 0l1 .5l1-.8l1 0l1-.8l1-.5l1-1.2l1-1.4l1-.8l1-1.8l1-1.6l1-1.9l1-2l1-3l1-2.3l1-3l1-2.8l1-3.1l1-3.6l1-4.5l1-4l1-3.9l1-4.6l1-5l1-4.7l1-5.2l1-4.4l1-5.2l1-4.4l1-4.8l1-4.8l1-3.8l1-3.8l1-2.8l1-3l1-2.7l1-1.6l1-1l1-.4l1 .4l1 1.3l1 2.5l1 3.4l1 5.1l1 5.2l1 5.8l1 6.9l1 7.2l1 6.1l1 6.8l1 7l1 5.8l1 5.7l1 5.3l1 4.3l1 3.9l1 2.9l1 2.3l1 1.1l1-.6l1-.4l1-1.6l1-2.6l1-3.4l1-3.9l1-4.1l1-4.2l1-3.7l1-2.6l1-2l1-.8l1-.1l1-.1l1 .8l1 .6l1 .5l1 1l1 .7l1 1.3l1 1.2l1 1l1 1.7l1 1.5l1 2.1l1 1.2l1 1.6l1 1.6l1 1.7l1 1.8l1 1.5l1 1.6l1 2.3l1 1.3l1 1.5l1 1.6l1 1.2l1 1.2l1 1.2l1 1.4l1 1.1l1 1.4l1 .8l1 1.2l1 .3l1 1.3l1 .4l1 .2l1 .6l1 .8l1 .8l1-.1l1 .7l1 0l1 .7l1-.4l1 .5l1 .5l1-.3l1 .1l1-.1l1 .2l1 .2l1 .4l1-.3l1 .2l1-.1l1 .3l1 .3l1-.2l1-.3l1 .4l1 .2l1-.3l1-.4l1 .6l1 .1l1-.4l1-.2l1 0l1 .3l1 .3l1-.2l1 .2l1-.5l1 .1l1 .3l1-.1l1-.2l1 .2l1-.2l1-.3l1 .3l1-.3l1 .5l1-.2l1 .1l1 .1l1-.3l1 .2l1-.4l1 .7l1-.2l1 .3l1-.8l1 .5l1 .1l1-.3l1-.2l1 0l1 0l1 .5l1-.5l1 .6l1-.4l1 .1l1 .1l1-.1l1 .1l1 0l1-.2l1 .3l1-.4l1 .4l1 0l1 0l1-.4l1 .4l1 .2l1-.4l1-.2l1 .2l1 .4l1-.7l1-.1l1 .4l1 .1l1 .1l1-.3l1 .5l1-.6l1 .4l1-.5l1-.1l1 .1l1-.1l1 .4l1 0l1-.3l1 .7l1-.5l1-.2l1 0l1 .5l1 .1l1-.6l1-.1l1 .6l1-.4l1 .6l1-.4l1 .1l1-.2l1 .3l1-.2l1-.1l1 .4l1-.6l1 .5l1-.5l1 .4l1-.2l1 .4l1-.7l1 .5l1-.2l1 .4l1 .1l1-.3l1-.3l1 0l1 0l1 .1l1-.1l1 0l1 .4l1-.1l1-.3l1 .6l1-.6l1 .3l1-.4l1 .6l1 0l1-.5l1 .4l1 .1l1-.5l1 .1l1 .1l1 .3l1-.6l1 .4l1 0l1-.1l1 .1l1 .2l1-.5l1 .5l1-.4l1 .3l1 .1l1-.6l1 .6l1 .1l1-.6l1-.2l1 .1l1 .7l1-.8l1 .7l1-.6l1 .5l1-.5l1 0l1 .4l1-.4l1 .2l1 .4l1-.1l1 .1l1 .1"/>
<path stroke="#0000AA" d="M1877.0 1156.6l1 .2l1 .4l1 0l1-.6l1 .4l1-.2l1 .1l1-.2l1-.1l1 .8l1-.5l1 .4l1-.6l1 .3l1-.3l1 .2l1-.2l1 .5l1-.5l1 .5l1-.2l1-.3l1 .2l1 .1l1 .4l1-.4l1-.1l1 .7l1 0l1-.1l1-.3l1 0l1 .2l1 0l1 0l1 .5l1 0l1 .1l1-.1l1-.3l1 .5l1-.1l1-.2l1-.1l1 .1l1 .1l1-.2l1-.2l1-.3l1-.2l1 .1l1 .4l1-.5l1 0l1 0l1-.3l1 .7l1-.8l1 .5l1 .2l1-.5l1 .3l1-.2l1-.1l1 0l1-.1l1 .6l1-.1l1 .1l1-.7l1 .6l1-.3l1 .2l1-.1l1-.1l1 .5l1-.8l1 .6l1 .1l1-.3l1 .1l1 .3l1-.6l1 .3l1 .1l1-.3l1 .3l1-.3l1 .1l1 .1l1 0l1-.2l1 .2l1-.1l1-.2l1 .3l1-.3l1 .5l1-.3l1 .2l1-.2l1 0l1-.2l1-.1l1 .6l1-.3l1 0l1 0l1 .3l1-.5l1-.1l1 .6l1-.3l1 .1l1 .2l1 0l1 0l1-.7l1 .3l1 .4l1 0l1-.6l1 0l1 .1l1-.1l1 .2l1 .3l1-.2l1 0l1-.3l1 .2l1 .5l1-.2l1-.2l1 0l1 .2l1 0l1-.5l1 .4l1-.2l1 .1l1-.2l1 .1l1 0l1 0l1-.3l1 .2l1 .3l1-.5l1 .1l1 .5l1-.4l1 .1l1-.1l1 .5l1-.6l1 .4l1 .2l1-.5l1 .1l1 .3l1-.1l1-.2l1-.3l1 .4l1-.1l1 .3l1-.4l1 .1l1 .2l1 .1l1-.3l1 0l1 .2l1 .2l1-.5l1 .6l1-.2l1-.3l1 .2l1-.2l1-.2l1 .5l1-.3l1 .1l1 0l1 .3l1-.1l1-.6l1 .5l1-.1l1 0l1 .3l1-.4l1 .1l1 .3l1-.3l1 0l1 0l1 .3l1-.2l1 .1l1-.3l1-.3l1 .5l1-.1l1 .2l1 0l1-.5l1 .1l1-.1l1 .6l1-.6l1 0l1 .5l1-.2l1-.4l1 .5l1 .1l1-.2l1-.4l1 .5l1-.2l1 .2l1 .3l1-.2l1 .1l1-.6l1 .2l1 .1l1-.4l1 .8l1-.6l1 0l1 0l1 0l1 .5l1-.3l1 0l1-.1l1-.3l1 .2l1 .5l1-.1l1 0l1-.5l1 0l1-.1l1 .4l1-.2l1 .1l1 0l1 0l1-.1l1 .3l1-.5l1 .5l1-.3l1-.4l1 .2l1 .1l1-.1l1 .1l1-.2l1-.1l1 .4l1-.5l1 .3l1 0l1-.2l1-.2l1 .3l1-.5l1 .3l1-.8l1 .2l1 0l1-.5l1 .5l1-.8l1 .3l1-.5l1 .5l1-.5l1 0l1-.4l1 0l1-.2l1-.4l1-.3l1 .4l1-.7l1 .4l1-.7l1-.3l1-.1l1 .4l1-.1l1-.6l1 0l1-.6l1 .2l1-.6l1-.9l1-.5l1 0l1-1l1 .1l1-.8l1-.3l1 .2l1 .2l1 .7l1 .3l1 1.3l1 .3l1 1.2l1 .1l1 1.2l1 .8l1 .1l1 .2l1 .7l1 .6l1 .1l1 .6"/>
<path stroke="#00008E" d="M1374.0 1202.1l1 .3l1 .2l1-.3l1 .2l1-.4l1 .6l1-.6l1 .6l1 .1l1 0l1-.4l1-.2l1 .1l1 .3l1-.2l1 .3l1-.6l1 .3l1 .3l1-.2l1-.1l1-.3l1 0l1 .1l1 .5l1 0l1-.5l1 .5l1-.7l1 .5l1 .3l1-.5l1 .5l1-.3l1-.5l1 .3l1 .1l1-.2l1 .4l1-.5l1 .5l1-.4l1-.1l1 .3l1-.3l1 .3l1 .2l1-.1l1-.1l1-.4l1 .4l1-.3l1 .4l1-.4l1 .4l1-.2l1 0l1 .2l1-.4l1 0l1 .7l1-.5l1 .4l1 0l1-.3l1-.3l1 0l1 .6l1-.6l1 .3l1 0l1-.3l1 .3l1-.3l1 .3l1 0l1-.1l1-.1l1 .1l1-.1l1-.1l1 .1l1 .5l1-.3l1 .3l1-.7l1 .8l1-.4l1 .2l1-.1l1 .1l1-.4l1 .4l1-.5l1 .1l1-.2l1 .3l1 .1l1-.2l1 .5l1-.6l1 .4l1-.3l1 .3l1 .1l1 0l1-.6l1 .2l1 .3l1 .3l1-.8l1 .5l1 .1l1 .1l1-.4l1 .3l1-.2l1 .3l1-.7l1 .8l1-.5l1 0l1-.2l1 .1l1 .4l1-.1l1-.4l1 .2l1-.2l1 .1l1 0l1 .1l1 .5l1 0l1-.2l1-.2l1 0l1 .2l1 .1l1-.1l1-.1l1-.3l1 .3l1 .2l1-.1l1-.5l1 .5l1-.3l1-.2l1 .7l1-.3l1 .1l1-.5l1 .6l1 0l1 0l1-.1l1 .1l1-.1l1-.1l1-.2l1 .4l1-.1l1 .1l1-.5l1 .6l1-.4l1 .4l1-.7l1 .7l1-.2l1-.4l1 .5l1-.5l1 0l1 .2l1-.2l1 .2l1 .3l1-.2l1 .1l1-.3l1 .3l1 0l1-.1l1 .2l1-.1l1-.3l1-.3l1 .4l1 .1l1-.4l1 .2l1 .2l1 0l1-.6l1 .5l1-.4l1 .1l1 .5l1-.5l1-.2l1-.6l1-.8l1-.9l1-.9l1-.7l1-1.4l1-1.5l1-1.6l1-1.4l1-1.3l1-2.1l1-1.8l1-2l1-2.9l1-2l1-3.2l1-2.2l1-3.4l1-3l1-2.6l1-3.6l1-3.3l1-2.6l1-3.3l1-2.7l1-3.2l1-2.6l1-2l1-2.5l1-1.4l1-2.1l1-.6l1-1.2l1-.1l1-.2l1 1.1l1 2.3l1 1.9l1 3.3l1 3l1 4l1 4l1 4.7l1 4.7l1 4.1l1 4.1l1 4.4l1 3.6l1 3.1l1 2.4l1 2.8l1 1.6l1 1.6l1 .1l1 .2l1-.7l1-1.6l1-1.8l1-2.3l1-2.6l1-3.2l1-3l1-2.2l1-2.8l1-.9l1-.7l1-.1l1 .1l1 .6l1 .5l1 .4l1 .6l1 .1l1 1.1l1 .7l1 1.6l1 1l1 .5l1 1.4l1 1.2l1 .7l1 1.5l1 1.5l1 1.2l1 .9l1 1.5l1 .8l1 1.3l1 1l1 1.5l1 .8l1 1l1 .8l1 .6l1 1.3l1 .5l1 .7l1 .3l1 .5l1 .9l1 .6l1 .5l1 0l1 .2l1 .6l1 .6l1-.3l1 .6l1-.2l1 .3l1-.1l1 .3l1 .2l1 .6l1 0l1-.5l1 .2l1 .5l1-.5l1 .1l1 .1l1-.2l1 .1l1 .1l1 0l1 .5l1-.5l1-.1l1 .6l1-.4l1 .4l1-.2l1 .1l1-.4l1-.1l1 .5l1-.2l1 0l1 .1l1 .1l1-.4l1 .1l1 .4l1-.3l1-.2l1 .3l1-.3l1 .4l1-.6l1 .7l1-.2l1-.2l1 .5l1-.6l1 0l1-.1l1 .3l1 .2l1-.1l1-.2l1 .3l1-.5l1 .1l1 .3l1 .3l1-.3l1 .1l1 0l1-.3l1 .5l1-.2l1-.3l1 0l1 .3l1-.3l1-.2l1 .6l1-.3l1 0l1 .1l1 .2l1-.6l1 .2l1-.2l1 .2l1 .1l1 .3l1-.2l1 0l1-.2l1 .2l1-.3l1 .5l1-.1l1 .1l1-.6l1 .4l1 .1l1-.2l1 .3l1 0l1-.1l1 .1l1-.2l1 .2l1-.6l1 .5l1 0l1-.1l1-.3l1-.1l1 .4l1 .2l1-.5l1 0l1 0l1-.1l1 .4l1 .3l1-.2l1-.3l1 .3l1-.5l1 .6l1-.4l1-.3l1 .5l1-.4l1 .1l1-.2l1 .4l1 0l1 .2l1-.6l1 .7l1-.6l1 .1l1 .3l1-.2l1 0l1 .2l1-.3l1 .4l1-.4l1 .5l1-.1l1-.2l1-.4l1 .6l1-.6l1 .4l1-.1l1-.2l1 .4l1 .1l1-.1l1-.2l1 .1l1 .1l1-.3l1 .5l1 .1l1-.2l1 .2l1-.5l1 .5l1-.7l1 .3l1-.3l1 .3l1 .1l1 .1l1-.2l1-.1l1-.1l1 .1l1-.1l1 0l1 .4l1-.2l1 0l1-.2l1 .4l1-.4l1 0l1 .2"/>
<path stroke="#00008E" d="M1877.0 1202.6l1 .2l1-.2l1 .2l1-.1l1-.1l1 0l1-.5l1 .1l1-.2l1 .7l1-.1l1-.1l1-.3l1 .1l1-.2l1 .4l1 .3l1-.6l1-.2l1 .1l1 .2l1 .4l1-.1l1-.2l1-.3l1 0l1 0l1 .5l1-.2l1 .4l1-.1l1-.1l1-.2l1 .3l1-.6l1 0l1 .3l1 0l1-.2l1 0l1-.2l1 .7l1-.1l1 .1l1 .1l1-.5l1 .2l1-.3l1 .3l1 0l1-.6l1-.2l1 .1l1 .2l1-.2l1-.4l1 .5l1-.2l1-.4l1-.5l1 .5l1-.4l1-.5l1 .1l1 .1l1 .2l1-.4l1 .1l1-.3l1 .1l1 .6l1-.4l1-.1l1 .6l1-.3l1 .2l1 .4l1 .3l1 .1l1 .2l1-.1l1-.2l1 .6l1-.4l1 .4l1 0l1 .2l1 .1l1-.4l1 .4l1 0l1-.1l1-.3l1 .6l1-.2l1-.5l1 .2l1 .6l1-.6l1 .1l1 .3l1 0l1-.1l1 .1l1-.6l1 0l1 .7l1-.2l1-.6l1-.1l1 .1l1 .5l1-.7l1 .3l1 .1l1-.4l1 0l1-.7l1-.3l1-.4l1 .4l1-.9l1 .4l1-.6l1-.7l1 .1l1-.9l1 0l1-.7l1 .2l1-.2l1-.2l1-.9l1 .5l1-.3l1 .2l1-.3l1 .2l1 .1l1 .4l1-.3l1 .2l1 .7l1 .2l1 .4l1 .1l1 .9l1-.2l1 1l1 .3l1 0l1 0l1 .7l1-.1l1 .4l1-.1l1 .8l1-.2l1 0l1-.2l1 .6l1 .2l1 0l1-.5l1 .2l1 0l1 .4l1-.5l1 .4l1 .3l1-.2l1-.6l1 .1l1 0l1 .5l1-.1l1-.1l1 0l1-.1l1 .2l1 0l1 .2l1-.1l1 0l1 .1l1 0l1-.1l1-.6l1 .5l1 .2l1-.4l1 .4l1-.6l1 .7l1-.4l1 .2l1-.4l1 0l1 .1l1 0l1-.2l1 .3l1 .4l1-.3l1 .2l1-.1l1 .1l1 .1l1-.2l1-.4l1 0l1 .1l1-.3l1 .2l1 .5l1 0l1-.4l1 .3l1 0l1 .1l1-.1l1-.2l1-.3l1 .6l1-.4l1 .2l1-.2l1 .1l1 .4l1-.7l1 .3l1 .1l1-.1l1 .4l1-.5l1 .4l1-.1l1 .2l1-.7l1 .1l1 0l1 .5l1-.7l1 .2l1 .4l1 .2l1-.7l1 .3l1 .1l1 .1l1 0l1 0l1-.4l1 0l1-.2l1 .6l1-.4l1 0l1 .6l1-.3l1 0l1 0l1 0l1 .1l1-.4l1-.1l1 0l1-.1l1 .3l1-.2l1 0l1 .3l1 .4l1-.2l1-.4l1 .4l1-.5l1 0l1 .1l1 .1l1 .3l1-.2l1 .2l1-.5l1 .6l1-.4l1 .4l1-.7l1 .7l1-.5l1 .5l1-.1l1-.1l1-.3l1-.3l1 .1l1 .6l1-.7l1 .2l1-.2l1-.2l1-.7l1-.4l1-.5l1 .2l1-1l1-.4l1-.7l1-.8l1-.6l1-.5l1 .5l1-.7l1 .8l1-.3l1 .7l1 0l1 1.1l1 .2l1 .7l1 .7l1 .1l1 .6l1 .8l1-.1l1 .3"/>
<path stroke="#000071" d="M1374.0 1248.6l1-.4l1 0l1 0l1 .1l1 0l1 .2l1-.1l1 .3l1-.7l1 .5l1 .2l1-.5l1-.2l1 .4l1-.3l1 .3l1 .2l1-.5l1 0l1 .3l1-.3l1 .1l1 .2l1-.3l1 0l1 .2l1 .1l1 .3l1-.3l1-.3l1 .1l1 .4l1-.1l1 .2l1 .1l1-.1l1-.6l1 .7l1-.4l1-.2l1-.1l1 .6l1-.5l1-.1l1 .1l1 .5l1-.3l1 .2l1-.5l1 .3l1-.1l1-.1l1 .3l1-.2l1-.2l1 .7l1-.4l1-.3l1-.1l1 .5l1-.1l1-.4l1 .4l1 .2l1-.2l1-.2l1 .2l1 .1l1 0l1-.4l1 .5l1 .2l1-.2l1 .1l1-.4l1 .4l1-.6l1 .1l1 .3l1 .2l1-.6l1 .1l1-.2l1 .4l1-.3l1 .1l1 .4l1-.1l1 .3l1-.5l1 .2l1-.5l1 .8l1-.6l1 .2l1 0l1 .4l1-.4l1 .4l1-.3l1-.3l1 .5l1-.5l1 .6l1-.4l1-.2l1 .6l1-.5l1 0l1 0l1 .2l1-.5l1 .3l1-.2l1 .6l1-.7l1 .5l1-.3l1 .2l1 0l1 .2l1-.5l1 .1l1-.1l1 .7l1-.7l1 0l1 .3l1 .1l1 .2l1-.7l1 .2l1-.1l1 .4l1-.1l1-.1l1 .4l1-.2l1 .2l1 .1l1-.6l1 .6l1-.5l1-.3l1 .7l1-.6l1-.1l1 .2l1 0l1 .6l1-.1l1-.4l1 .1l1 .3l1-.1l1-.1l1-.1l1-.3l1 .1l1 .3l1 0l1 .1l1 .1l1 .1l1-.6l1-.1l1 .6l1-.2l1-.4l1 .5l1-.4l1 0l1 .1l1 .1l1 .1l1-.4l1 .5l1-.1l1-.1l1 .1l1 .1l1-.6l1 .4l1 .1l1 0l1 0l1-.4l1 .6l1-.2l1-.4l1 .1l1 .4l1-.6l1 .2l1 .4l1 0l1-.4l1 .4l1-.3l1 .2l1-.2l1-.8l1-.5l1-.7l1-.8l1-1.1l1-1l1-1l1-1.3l1-1.7l1-1.2l1-1.4l1-2.1l1-2.2l1-2l1-2.5l1-2.8l1-2.4l1-3.2l1-2.5l1-3.5l1-3l1-2.7l1-3.4l1-3.1l1-3.3l1-3l1-2.8l1-2.5l1-3l1-1.7l1-2.2l1-1.5l1-.7l1-.9l1-.1l1 .2l1 .7l1 1.4l1 2.3l1 3.4l1 3.7l1 3.6l1 4.1l1 4.3l1 4.7l1 4.8l1 3.7l1 4.3l1 3.7l1 3.7l1 3.2l1 1.7l1 2l1 2l1 .8l1-.4l1-.3l1-.8l1-1.7l1-1.9l1-2.2l1-2.6l1-2.5l1-2.2l1-1.7l1-1.3l1-.1l1 .1l1-.1l1 .6l1 .3l1 .2l1 .6l1 .4l1 1.2l1 .5l1 .4l1 .9l1 1.4l1 .7l1 1.2l1 .7l1 1.4l1 1.1l1 .4l1 1.4l1 .7l1 1.4l1 1.1l1 .9l1 .4l1 .7l1 1.3l1 .7l1 .4l1 .7l1 .9l1 .2l1 1l1 .2l1 .4l1 .6l1 .4l1 .5l1-.2l1 .8l1-.2l1 .3l1 .5l1 .2l1 .1l1 .3l1-.4l1 .1l1 .4l1-.3l1 0l1 .1l1 .5l1 .1l1-.1l1 .3l1-.2l1-.3l1 0l1 .3l1-.5l1 .5l1-.5l1 0l1 .4l1-.3l1 .6l1 0l1-.3l1-.2l1-.1l1 .3l1 0l1-.1l1 .3l1-.2l1 .2l1-.5l1 0l1 .2l1 .1l1-.2l1 .3l1-.3l1 .1l1 .1l1 .2l1 0l1-.3l1 .1l1 .3l1 0l1-.2l1-.4l1 .3l1 .1l1-.3l1-.2l1 .8l1-.1l1-.6l1 .3l1 .1l1-.3l1-.1l1 .5l1 0l1-.3l1-.2l1 .2l1-.2l1 .7l1-.8l1 .2l1 .4l1-.5l1 0l1 0l1 0l1 .3l1 .3l1-.6l1 0l1 .5l1-.3l1 0l1-.2l1 .1l1 .6l1-.7l1 .1l1 .4l1 .1l1 0l1-.3l1 .4l1-.3l1-.3l1 .2l1 .2l1 0l1-.5l1 .1l1 .6l1-.7l1 .6l1-.4l1-.1l1 0l1 .2l1 .4l1-.7l1 .6l1-.4l1-.2l1 .5l1-.3l1-.1l1 .1l1 .4l1 0l1-.2l1-.5l1 .6l1-.1l1 .2l1 .1l1-.5l1 .4l1 0l1-.5l1 .1l1 0l1 0l1 0l1-.2l1 .1l1 .5l1-.4l1 .2l1 .2l1-.1l1-.4l1 .5l1-.1l1 .2l1-.2l1 0l1 .1l1-.5l1 .3l1-.2l1 .4l1-.6l1 .3l1-.1l1 .4l1-.4l1 .4l1 0l1 0l1-.6l1 .7l1-.2l1-.1l1 0l1-.5l1 .7l1-.3l1 0l1-.1l1 .3l1 0l1 .1l1-.5l1 .1l1-.1l1-.1l1 .2l1-.3l1 .6"/>
<path stroke="#000071" d="M1877.0 1248.2l1-.1l1 0l1 .5l1-.4l1 .2l1-.1l1 .3l1 .2l1-.6l1 .3l1 .2l1-.3l1 .3l1-.1l1-.4l1 .5l1-.2l1-.4l1 .4l1 .2l1-.3l1 0l1-.1l1 .4l1-.2l1-.3l1 .1l1 0l1 .5l1-.2l1-.5l1 .6l1-.7l1 .5l1-.2l1 .3l1-.3l1-.2l1 .3l1 .2l1 0l1-.4l1-.2l1 .4l1 0l1-.6l1 .4l1 0l1-.7l1-.3l1 0l1-.2l1-1l1-.4l1-.4l1-.3l1-1l1-.3l1-.7l1-.4l1-1l1 .2l1-.4l1-.6l1 0l1-.6l1 .7l1-.1l1 .5l1 .4l1 .1l1 1l1 0l1 .5l1 1l1 .9l1 .5l1 .6l1 .1l1 .7l1 .1l1-.1l1 .7l1 .3l1-.1l1 .2l1-.1l1 0l1 .2l1 .1l1 0l1-.3l1 0l1 .3l1 .3l1 0l1-.4l1 0l1 .2l1-.3l1 .4l1 .2l1-.5l1 .3l1 .1l1 0l1 0l1-.1l1-.3l1 .4l1 0l1-.7l1 .7l1-.5l1-.4l1-.2l1 .3l1-.3l1-.8l1-.2l1-.4l1-.4l1-1.3l1-.6l1-1.5l1-1.2l1-1.3l1-1.1l1-1.2l1-1.7l1-1.5l1-1.2l1-1.3l1-1l1-.7l1-.5l1-.7l1 0l1-.1l1 .6l1-.1l1 .8l1 0l1 .3l1 .8l1 .1l1 .4l1 .3l1 .8l1 .6l1-.2l1 .3l1 .5l1 .4l1 .8l1 .4l1 .5l1 1.4l1 .7l1 .5l1 1.6l1 .9l1 .6l1 1.1l1 1.1l1 .4l1 .7l1 .5l1 .8l1 .5l1 .4l1 .5l1-.4l1 .4l1 .5l1 .1l1-.1l1 .1l1-.2l1 .5l1-.3l1-.1l1-.2l1 0l1 .6l1-.1l1-.6l1 .3l1 .1l1 0l1-.1l1 .4l1-.4l1 .1l1 .3l1-.2l1-.1l1-.1l1 0l1 .2l1 .1l1-.4l1 .1l1 0l1 0l1 .4l1-.3l1-.2l1 .1l1 .4l1-.6l1 .5l1-.6l1 .2l1-.2l1 .6l1-.5l1 .1l1-.2l1 .2l1 .4l1 0l1 .1l1 .1l1-.4l1 .3l1-.6l1 .6l1-.4l1-.1l1 .4l1 .1l1-.4l1-.2l1 .6l1-.1l1-.1l1 .3l1-.8l1 0l1 .1l1-.1l1 .6l1-.1l1-.4l1 0l1 0l1 .4l1 0l1 .3l1-.5l1 .5l1-.5l1 0l1-.1l1 0l1 .6l1 0l1-.2l1-.5l1 0l1 0l1 .2l1 .3l1-.6l1 .4l1 .1l1-.5l1 .4l1 .2l1-.1l1-.1l1 .3l1-.2l1-.2l1 0l1 .5l1-.1l1 0l1-.3l1-.3l1 0l1 .2l1 .3l1-.6l1 .6l1 0l1-.2l1-.4l1 .6l1-.3l1 .2l1-.1l1 .1l1-.3l1 .4l1-.1l1-.1l1-.4l1-.5l1-.3l1-.5l1 0l1-.7l1-.7l1-.7l1-.7l1-1l1-1.1l1-.3l1-.9l1 0l1-.5l1 .7l1 0l1 .4l1 1.1l1 .1l1 1.5l1 .7l1 .2l1 1.2l1 .5l1 .7l1 .2l1 .2"/>
<path stroke="#000055" d="M1374.0 1293.3l1-.6l1 .5l1-.5l1 .1l1-.1l1 .6l1-.3l1 .2l1-.4l1 .4l1-.1l1-.4l1 .3l1 .2l1-.4l1 .3l1-.3l1 .1l1 .4l1 .1l1 0l1-.5l1 .2l1 .1l1 0l1-.2l1 .3l1-.4l1 .5l1-.4l1-.3l1 .5l1-.5l1 .4l1-.5l1 .8l1-.4l1 .2l1-.5l1 .4l1-.2l1-.1l1 .5l1-.7l1 .4l1-.3l1 .6l1 0l1-.7l1 .4l1 0l1 .2l1 0l1-.3l1 .4l1-.6l1 0l1 .6l1-.6l1 0l1 .3l1-.1l1-.2l1 .6l1-.3l1 .2l1-.4l1 .5l1-.5l1 .5l1-.2l1 .3l1-.2l1-.1l1-.1l1 .3l1-.3l1-.3l1 .6l1-.1l1-.1l1 .1l1-.4l1 .2l1 .3l1 .1l1-.1l1-.6l1 .4l1-.1l1-.1l1-.2l1 0l1 .3l1 0l1-.2l1 .1l1 .1l1 .2l1-.1l1-.4l1 .6l1-.4l1 .5l1 0l1-.7l1 .4l1 .3l1-.5l1 .1l1-.1l1-.3l1 .2l1-.1l1 .1l1 .3l1 0l1 .3l1-.3l1-.2l1 .5l1-.3l1-.1l1 .3l1-.2l1-.2l1 .2l1-.3l1 .6l1-.6l1 .6l1-.7l1-.1l1 .4l1-.2l1 .2l1-.3l1 .6l1-.2l1 0l1 .2l1 .1l1-.3l1 .1l1-.6l1 0l1 .3l1 .5l1-.5l1 .2l1-.5l1 .3l1 .4l1-.2l1 .2l1-.7l1 .2l1-.1l1 .6l1-.6l1 .6l1-.5l1 .5l1-.3l1-.1l1 .5l1-.5l1 .3l1-.5l1 .6l1 .1l1-.7l1 .5l1-.4l1-.1l1 .2l1 .2l1 .3l1 0l1 0l1-.3l1 0l1-.4l1 .5l1-.2l1-.1l1 .4l1-.5l1-.1l1 0l1-.1l1 .4l1 .2l1-.5l1 .3l1 .1l1 .1l1 0l1 .1l1-.4l1-.1l1 0l1-.5l1-.1l1-1.1l1-.4l1-1.3l1-1.1l1-.7l1-1.2l1-1.2l1-1l1-1.8l1-1.2l1-1.5l1-2.1l1-1.9l1-1.7l1-2.4l1-2.5l1-2.5l1-2.3l1-2.2l1-2.7l1-1.9l1-2.6l1-2.3l1-2l1-1.7l1-2.3l1-1.7l1-1.3l1-1.1l1-.4l1-.7l1-.4l1-.1l1 .6l1 1.3l1 2.4l1 2.2l1 2.2l1 3.4l1 2.7l1 3.7l1 3.3l1 3.1l1 3.7l1 3.1l1 2.6l1 2.2l1 2.6l1 1.6l1 1.6l1 .4l1 1.1l1-.7l1-.4l1-.8l1-1.7l1-1.9l1-1.6l1-2l1-2.7l1-2l1-1.3l1-1.5l1-.3l1 .3l1-.1l1 0l1 .2l1 .8l1 .8l1 .5l1 0l1 .9l1 .8l1 .5l1 1.2l1 .7l1 1.1l1 .5l1 1.4l1 .9l1 .6l1 .7l1 1.1l1 .6l1 1.3l1 .9l1 .7l1 1l1 0l1 1.2l1 .7l1 .1l1 .7l1 .3l1 .9l1 .6l1 .1l1 .6l1 .1l1 .6l1-.1l1 .8l1-.2l1-.2l1 .2l1 .7l1 .2l1 0l1-.3l1 .6l1 0l1-.4l1 .2l1 .3l1-.5l1 .1l1 .3l1 .4l1 .1l1-.5l1 .5l1-.1l1 .1l1-.3l1 .4l1-.3l1 .2l1-.3l1-.3l1 .3l1 0l1-.1l1 0l1 .1l1 .1l1-.3l1 0l1 .2l1 0l1-.1l1 .2l1-.4l1 .3l1-.2l1 .4l1 0l1 0l1-.2l1-.2l1 .5l1-.3l1-.1l1-.1l1 .1l1 .3l1 .1l1-.3l1 .2l1-.4l1 .2l1-.1l1-.1l1 .1l1 .3l1 0l1-.4l1 0l1 .4l1-.1l1 0l1 0l1 .1l1-.4l1-.2l1 .3l1-.3l1 .8l1-.4l1 .1l1 .3l1-.2l1-.4l1 .1l1-.2l1 .5l1 0l1-.2l1-.1l1-.1l1 .2l1 .2l1 .1l1 0l1 0l1-.3l1-.1l1 0l1 .5l1-.7l1 0l1 .1l1 .5l1 0l1-.4l1 .4l1 0l1-.4l1-.1l1 .4l1-.3l1-.2l1 .6l1-.3l1-.1l1 .2l1-.3l1-.2l1 .3l1 0l1-.3l1 .3l1 .3l1-.3l1 .2l1 0l1-.3l1-.2l1 .5l1 0l1-.3l1 0l1 .5l1 0l1-.5l1 .3l1 0l1-.2l1-.3l1 .3l1 .2l1 0l1-.1l1-.3l1 .1l1 0l1 .1l1 0l1 .4l1-.6l1 .7l1-.6l1 .5l1-.5l1 .3l1-.2l1-.3l1 .6l1 0l1-.4l1 .4l1-.2l1 .4l1-.8l1 .3l1-.1l1 .3l1 .1l1 .1l1-.3l1-.1l1 .3l1-.5l1 .1l1 .4l1-.2l1 .4l1-.7l1 .3l1-.2l1-.2l1 .1l1 0l1 .2"/>
<path stroke="#000055" d="M1877.0 1292.9l1 .1l1-.2l1 .4l1-.2l1 .4l1-.7l1 .3l1 0l1-.1l1 .4l1-.5l1 .5l1-.4l1 0l1 .2l1 0l1-.3l1-.1l1 .7l1-.5l1-.2l1 .4l1-.1l1-.1l1 0l1 .4l1-.4l1 0l1 .5l1-.5l1 0l1-.2l1 .4l1 0l1-.1l1-.1l1-.1l1 .4l1-.3l1 .3l1-.3l1 .2l1-.6l1 .2l1 .5l1-.3l1 0l1-.3l1-.1l1-.4l1-.2l1 .1l1-.2l1-.7l1 0l1-.9l1-.1l1-.9l1-.3l1-.8l1-.5l1-1l1-.3l1-.6l1-1l1-.4l1-.2l1-.5l1-.3l1 0l1-.2l1-.3l1 .4l1 .6l1 .2l1 .6l1 .3l1 .7l1 1l1 .6l1 .5l1 .2l1 1.1l1 .1l1 1.3l1 .5l1 .2l1 0l1 .8l1-.3l1 .7l1-.1l1-.4l1 .8l1-.4l1 .2l1-.2l1-.3l1 0l1-.8l1 .2l1-.8l1-.6l1-.2l1-.7l1-.4l1-.1l1-.8l1-.3l1-.2l1-.3l1 .3l1-.1l1-.1l1 .1l1-.5l1 .3l1-.4l1 .4l1-.3l1-.4l1-1l1-.8l1-.4l1-1.5l1-1.5l1-1.6l1-2.6l1-1.7l1-2.6l1-2.1l1-2.7l1-2.6l1-1.5l1-2.5l1-1.3l1-1.3l1-1.4l1-.3l1-.5l1-.1l1 .3l1 1l1 .1l1 .8l1 .6l1 .2l1 1.2l1 .4l1 .5l1-.1l1 .2l1 .4l1 .7l1 .4l1 .5l1 .9l1 .7l1 1.8l1 1l1 1.6l1 1.9l1 1.3l1 2.2l1 1.6l1 2.2l1 1.2l1 1.9l1 1.9l1 1.3l1 1.3l1 1.3l1 .7l1 1.1l1 .4l1 1.3l1 0l1 .9l1 .1l1 .3l1 .2l1-.2l1 .6l1-.3l1 .5l1 0l1 0l1 .1l1-.3l1 .2l1 .2l1-.6l1 0l1 .2l1 .1l1-.3l1 .1l1 .5l1-.4l1-.2l1 0l1 .4l1-.3l1 .2l1 0l1 0l1 0l1 .3l1-.7l1 .7l1-.5l1-.2l1 .6l1-.1l1-.1l1-.2l1 .4l1-.4l1 .4l1-.4l1 .3l1 0l1-.2l1 .1l1-.3l1 .4l1 .1l1-.5l1 .3l1 .2l1-.5l1 .6l1 0l1-.7l1 .2l1-.1l1 .1l1-.1l1 .3l1-.2l1 0l1 .2l1-.1l1 .3l1 0l1-.5l1 .1l1-.2l1 .3l1-.2l1 .5l1 0l1 .2l1-.6l1-.2l1 .6l1-.3l1 .4l1-.4l1-.1l1-.1l1 .7l1-.4l1 0l1-.1l1 .3l1 .1l1-.3l1-.3l1 .2l1 .4l1-.4l1 .2l1-.1l1 0l1 .1l1-.3l1 .2l1 .3l1-.6l1 .2l1 .4l1 .1l1-.8l1 .5l1 0l1 .2l1-.3l1-.3l1 .1l1 .4l1 0l1-.4l1 .3l1 0l1 0l1-.6l1 .3l1-.2l1 .1l1-.4l1-.4l1 .2l1-.8l1-.1l1-1l1-.5l1-.5l1-1.4l1-.3l1-1.3l1 .1l1-1.2l1 .2l1-.4l1 0l1 .4l1 .6l1 .6l1 .5l1 1.2l1 .6l1 1.3l1 .2l1 .7l1 .3"/>
<path stroke="#000039" d="M1374.0 1337.3l1-.5l1 .2l1 .2l1-.4l1 .3l1-.4l1-.1l1-.1l1 .4l1 .3l1-.5l1 .2l1 .2l1-.4l1-.1l1 .3l1-.1l1 .5l1-.1l1-.5l1 .2l1-.1l1-.3l1 .4l1 .3l1-.5l1 .3l1 .1l1-.5l1 .6l1-.6l1 .1l1 .4l1-.6l1 .3l1-.2l1 .3l1-.4l1 .1l1 .1l1-.1l1 0l1 .1l1 .2l1-.3l1 .6l1-.4l1-.1l1 0l1 .5l1-.7l1 .6l1-.5l1 .7l1-.5l1 .2l1 .2l1-.6l1 0l1 .5l1-.1l1 .1l1-.4l1 .2l1-.3l1 .2l1-.1l1 .3l1-.3l1 0l1 .3l1-.4l1 .5l1-.2l1-.2l1-.1l1 .3l1 0l1 .2l1-.3l1 0l1 .4l1-.5l1 .6l1-.1l1 .1l1 0l1-.6l1 .5l1-.2l1-.3l1 .6l1-.3l1 .1l1-.2l1-.3l1 .6l1-.6l1 .1l1 .3l1-.3l1 .2l1 .2l1-.5l1 .4l1-.4l1 .3l1 .1l1 0l1-.5l1 .2l1 .6l1-.5l1 0l1 0l1 .3l1 0l1-.1l1-.2l1 .2l1-.1l1-.2l1 .6l1 0l1-.2l1 .2l1-.4l1 .3l1-.5l1 .4l1 0l1 .2l1-.1l1 0l1-.5l1 .4l1-.2l1-.2l1 .1l1 .3l1 .1l1 0l1-.2l1-.4l1 0l1 .4l1-.3l1 .1l1-.2l1 0l1 .5l1-.4l1 .5l1-.4l1 .4l1-.5l1 0l1 .1l1-.3l1 .3l1 0l1-.3l1 .7l1-.4l1-.3l1 .8l1-.6l1 0l1-.2l1 .1l1 .5l1-.1l1-.1l1-.2l1 0l1 .6l1-.5l1 .5l1-.1l1-.6l1 .6l1-.7l1 .6l1 0l1-.1l1-.1l1 .2l1-.5l1 .3l1-.3l1 .1l1-.1l1 .4l1-.1l1 .2l1 0l1 0l1 .4l1 0l1-.2l1-.3l1 .2l1-.8l1-.8l1-.5l1-.4l1-.7l1-1.2l1-1l1-.8l1-1.3l1-1.5l1-1.3l1-1.3l1-1.9l1-1.9l1-1.4l1-1.8l1-2.5l1-1.8l1-2.1l1-2.9l1-2.3l1-2.1l1-2.4l1-1.8l1-2.1l1-2.5l1-1.7l1-1.9l1-1.9l1-.7l1-1.7l1-.9l1-.2l1-.6l1 .5l1 .7l1 1.6l1 1.3l1 2.6l1 2.5l1 2.7l1 2.8l1 3.3l1 3.3l1 3.2l1 3.3l1 2.8l1 2.6l1 2.6l1 2.4l1 1.2l1 1.5l1 .7l1 .6l1 .1l1-.1l1-.4l1-1.3l1-1.2l1-1.8l1-2.1l1-1.8l1-2.1l1-1l1-1l1-.1l1-.4l1 .5l1 0l1 .4l1 .2l1 .2l1 .9l1 .6l1 .4l1 .2l1 1.1l1 .9l1 .8l1 .5l1 .2l1 1.4l1 .6l1 .5l1 1.3l1 .7l1 .8l1 .2l1 .9l1 .5l1 .6l1 1l1 .4l1 .3l1 .7l1 .8l1 .1l1 .7l1 .1l1 .7l1-.5l1 .6l1 .4l1 .3l1 .4l1-.1l1 .1l1 .2l1 .1l1 .2l1 .3l1-.6l1 .3l1 .5l1-.6l1 .6l1-.6l1 .6l1 .1l1-.4l1 .1l1-.1l1 .4l1-.1l1 0l1-.2l1 .2l1 .3l1-.1l1 .1l1-.5l1 .2l1-.1l1 0l1 .3l1-.5l1 .3l1 .2l1 .1l1-.7l1 .2l1 .2l1 .3l1-.6l1 .6l1-.4l1 .1l1 .3l1-.6l1 .2l1-.2l1 0l1 .1l1 .4l1-.1l1-.4l1 .5l1-.2l1-.3l1 .6l1 0l1-.5l1 .6l1-.2l1-.4l1-.2l1 .7l1 0l1-.6l1 .5l1 0l1-.1l1 .2l1 .1l1-.5l1 .4l1 0l1-.4l1 .2l1 0l1 .2l1-.2l1-.3l1 0l1 .2l1-.3l1 .6l1 0l1-.5l1 .4l1-.1l1-.4l1 .5l1 0l1-.4l1-.1l1 .1l1 .4l1-.2l1 .3l1-.6l1 0l1 .2l1 .4l1-.6l1 0l1 .5l1-.5l1 .4l1-.4l1 .1l1 .3l1 .2l1-.4l1 .1l1-.4l1 .3l1-.1l1 .4l1 0l1 0l1-.2l1 .2l1-.5l1 .2l1-.1l1 0l1 .4l1-.4l1 .1l1-.1l1 .5l1-.2l1-.1l1-.1l1 .4l1 .1l1-.4l1 .1l1 .2l1-.5l1 0l1-.1l1 .3l1 .2l1-.5l1 .2l1 .5l1-.4l1-.1l1 .4l1 0l1-.4l1-.2l1 .4l1 .1l1 .1l1-.2l1-.3l1 .2l1-.2l1 .2l1 0l1 .3l1 0l1 0l1-.3l1 .4l1-.7l1 .6l1-.2l1 .2l1-.4l1 .5l1-.8l1 .7l1 0l1-.4l1 .4l1-.5l1 .4l1-.2l1-.1l1-.1l1 .4l1 0"/>
<path stroke="#000039" d="M1877.0 1336.6l1 .7l1-.6l1 .1l1 0l1 .2l1 .2l1 .1l1-.3l1-.2l1-.2l1 0l1 .3l1 .1l1-.1l1 .4l1-.5l1 0l1 0l1-.2l1 .7l1-.3l1-.1l1-.1l1-.1l1 .1l1 .1l1 0l1 .4l1-.3l1-.3l1-.2l1 .1l1 .2l1 .3l1 .1l1-.5l1 .4l1-.3l1 .1l1 0l1-.4l1 0l1 .5l1-.1l1-.2l1 .3l1-.1l1-.5l1-.4l1 .3l1-.1l1-.6l1-.4l1 0l1-.7l1 .1l1-.6l1-.8l1-.5l1-.8l1-.6l1-.7l1-.2l1-.9l1-.4l1-.9l1-.1l1-.6l1-.2l1-.4l1 0l1-.2l1 .8l1 .1l1 .3l1 .5l1 .2l1 .8l1 .5l1 1.2l1 0l1 1l1 1l1 .5l1 .5l1 .1l1 .3l1 .8l1-.1l1 .5l1-.1l1 .4l1-.2l1 .1l1 0l1-.7l1 .2l1-1.1l1 .2l1-1.2l1-.1l1-.7l1-.3l1-1l1-.7l1-.1l1-.8l1-.3l1-.7l1-.7l1 .3l1-.8l1 0l1-.7l1-.1l1-.1l1-.5l1-.9l1-1.1l1-1l1-1.7l1-2.2l1-2l1-2.5l1-2.7l1-3.5l1-3.2l1-3.4l1-3.6l1-3.1l1-2.9l1-3l1-2.9l1-1.7l1-2.2l1-.7l1-1.2l1-.3l1 .3l1 .8l1 .6l1 1.4l1 1.1l1 .6l1 1.3l1 .7l1 .4l1 0l1 .5l1-.2l1-1.1l1-.3l1-.6l1-.5l1-.2l1 .3l1-.4l1 1.2l1 .6l1 1.2l1 2.6l1 1.8l1 2.5l1 2.9l1 3.3l1 3l1 3.4l1 3.3l1 3.4l1 3l1 2.7l1 2.8l1 2.5l1 2.1l1 1.5l1 2l1 1.3l1 .9l1 .8l1 .6l1 .5l1 1l1 .2l1-.2l1 .9l1 .1l1-.5l1 .6l1-.3l1 .2l1 .3l1-.4l1 .2l1 .1l1-.4l1 .4l1-.2l1 .5l1-.7l1 .5l1-.6l1 .2l1-.1l1 0l1 .3l1-.3l1 .5l1-.5l1 .4l1 .2l1-.6l1 .1l1 .4l1-.2l1 .3l1-.4l1 0l1 .5l1-.5l1 .5l1-.1l1-.5l1 .2l1 .4l1-.7l1 .6l1-.1l1 0l1-.1l1-.5l1 .7l1-.7l1 .5l1-.1l1-.4l1 .1l1-.3l1 .1l1-.8l1 .4l1-.7l1 0l1-.5l1-.1l1-.6l1 0l1-.5l1 .3l1-.3l1 .7l1 .1l1 0l1 .8l1 .2l1 .3l1-.4l1 .8l1 .2l1 .1l1-.3l1 .9l1-.3l1 .1l1 .3l1-.4l1-.2l1 .7l1-.5l1-.2l1 .1l1 .7l1-.2l1-.4l1-.1l1 .6l1-.2l1 0l1-.4l1 .2l1 .5l1-.8l1 .3l1-.3l1 .8l1-.7l1 .7l1-.1l1-.1l1-.6l1 .6l1-.2l1 0l1-.3l1 .3l1 .2l1-.6l1 .6l1-.5l1-.2l1-.2l1-.1l1-.2l1-.6l1-.3l1-1.1l1-.9l1-.6l1-1.8l1-1.4l1-.9l1-1.2l1-1.1l1-.5l1-.8l1 .5l1-.1l1 .8l1 .6l1 1l1 1.1l1 .9l1 1.5l1 .7l1 1.3l1 1l1 .9"/>
<path stroke="#00001C" d="M1374.0 1381.5l1 .2l1 .4l1-.1l1 .2l1-.7l1 .1l1-.1l1 .5l1 0l1-.1l1 .1l1-.2l1 0l1 .3l1-.2l1 0l1 0l1-.1l1 .2l1-.1l1-.4l1 .2l1 0l1 0l1 .1l1-.1l1 0l1 0l1 0l1 .5l1-.7l1-.1l1 .6l1-.3l1 .1l1 .1l1-.2l1-.1l1-.2l1 .7l1 .1l1-.6l1 .2l1-.1l1-.3l1 .7l1 0l1-.5l1 0l1 .4l1 0l1-.2l1-.1l1-.1l1 .4l1 .1l1 0l1-.6l1 .4l1 .3l1-.2l1-.2l1-.3l1-.1l1 .6l1-.5l1 .5l1-.1l1-.1l1 .3l1 0l1-.2l1-.4l1 .4l1-.2l1-.1l1 .5l1-.1l1-.5l1 .1l1 .1l1 .2l1-.2l1 .1l1 .3l1-.6l1 .5l1-.3l1 .5l1 0l1-.5l1 .2l1-.4l1 .2l1 .2l1 0l1-.2l1-.3l1 .1l1 .3l1-.3l1 .1l1 .3l1 .2l1-.3l1-.2l1 .3l1-.3l1 .4l1-.5l1 .1l1 .2l1 .3l1-.6l1 .1l1-.1l1 .1l1 .1l1 0l1 .3l1-.3l1 .1l1-.1l1 .3l1 .1l1-.4l1 .4l1-.5l1 .6l1-.4l1 .1l1-.2l1-.1l1-.1l1 .6l1-.4l1 .3l1-.2l1 0l1-.2l1-.1l1 .2l1 .2l1-.1l1-.4l1 .6l1-.3l1-.2l1 .1l1 0l1 .5l1-.3l1-.1l1-.1l1 0l1 0l1 .1l1 .3l1 0l1 0l1 .1l1-.2l1-.4l1-.1l1 .1l1 .1l1 .2l1 .3l1-.2l1-.2l1-.1l1 .6l1-.2l1-.3l1-.3l1 .8l1-.6l1 .5l1-.6l1 .4l1-.2l1 .4l1-.5l1-.1l1 0l1 .5l1 .2l1-.3l1 0l1-.3l1 0l1-.2l1 .8l1-.7l1 .5l1-.1l1 0l1 .3l1 .5l1-.5l1-.1l1 .2l1-.3l1-.6l1-.8l1 0l1-1.3l1-.7l1-.8l1-.6l1-.9l1-.8l1-.9l1-1l1-1.5l1-1.6l1-.7l1-2.1l1-1.3l1-1.7l1-1.3l1-1.6l1-2.2l1-1.6l1-1.3l1-1.8l1-2.1l1-1l1-1.4l1-1.6l1-1.3l1-.6l1-1.1l1-.7l1-.4l1 0l1-.1l1 .7l1 1.1l1 1.3l1 1.5l1 2.2l1 1.5l1 2.5l1 2.9l1 2.3l1 2.4l1 2.2l1 2l1 2.2l1 1.6l1 1.2l1 1.5l1 .9l1 1.3l1 0l1 .2l1 0l1-.9l1-.3l1-.9l1-1.2l1-1.2l1-1.7l1-1.3l1-.4l1-.7l1-.5l1 0l1-.1l1 .7l1-.1l1 .5l1-.1l1 .3l1 .5l1 .6l1 .5l1 .1l1 .7l1 .3l1 .8l1 .5l1 .4l1 .3l1 .5l1 1l1 .5l1 .1l1 .3l1 .6l1 1.1l1-.3l1 1l1 .2l1 .4l1 .3l1 .2l1 .5l1-.1l1 .9l1-.4l1 .2l1 .6l1 .2l1 .3l1 0l1 .3l1-.6l1 .1l1 .3l1 .5l1-.4l1 .3l1 .3l1-.5l1 .3l1 .4l1-.1l1-.3l1 .1l1-.2l1 .6l1-.1l1-.1l1-.3l1 .4l1-.2l1 .2l1-.3l1 .4l1-.2l1-.1l1 0l1 .2l1-.2l1 .4l1-.8l1 .7l1-.1l1-.2l1 .3l1-.6l1 .2l1 .3l1 .1l1-.4l1 .5l1-.3l1-.5l1 .1l1 0l1 .4l1-.2l1-.1l1 .2l1-.3l1 .6l1 0l1-.3l1 0l1-.2l1 .3l1-.2l1 .5l1 0l1-.2l1 .1l1-.6l1 0l1 .2l1-.2l1 .2l1 .5l1-.1l1 .1l1-.6l1 0l1-.2l1 .2l1-.2l1 .4l1-.2l1 .3l1-.1l1 .1l1-.3l1 .4l1 0l1 0l1-.2l1 0l1-.2l1-.2l1 .4l1 .1l1-.4l1 .6l1 0l1 0l1 0l1-.3l1-.3l1 .1l1 .4l1 .2l1-.7l1-.1l1 .3l1 0l1 .2l1-.4l1 .6l1-.4l1 .4l1-.4l1-.1l1-.1l1 .7l1-.3l1 .2l1-.6l1 .3l1 .2l1 .2l1-.1l1-.6l1 .2l1 .5l1-.4l1 .4l1-.6l1-.2l1 .8l1-.6l1 .2l1-.1l1 .2l1 .2l1 .1l1-.1l1-.5l1 .5l1-.7l1 .3l1 .5l1-.6l1 .1l1 .2l1-.3l1 .4l1-.1l1-.4l1 .6l1-.6l1 .5l1-.3l1-.2l1 0l1 .7l1-.2l1-.2l1 .2l1 .2l1-.1l1-.3l1-.2l1 .2l1 .4l1-.2l1-.1l1 .2l1-.4l1 .1l1 .3l1-.5l1 .5l1-.7l1 .4l1 .1l1-.4l1 .6l1-.3l1-.3l1 .2l1 .2l1-.2l1-.3"/>
<path stroke="#00001C" d="M1877.0 1381.5l1 .5l1-.5l1 .1l1 .4l1 .1l1 0l1-.6l1-.1l1 .6l1-.1l1-.2l1-.3l1 .3l1-.1l1 .3l1 .3l1-.6l1-.1l1 .5l1-.5l1 .1l1 .2l1 .4l1-.5l1 0l1 .1l1-.3l1 .2l1 .3l1-.3l1 .3l1-.5l1 0l1 .4l1-.1l1 .3l1-.6l1 .5l1-.1l1-.2l1-.2l1 .4l1 .1l1-.3l1 0l1 .2l1-.1l1-.2l1-.3l1 .2l1-.1l1 .2l1-.1l1-.5l1-.4l1-.4l1 .1l1-.3l1-.8l1-.1l1-.2l1-1l1-.1l1-.9l1-.4l1-.3l1-1l1-.4l1 .1l1-1l1-.1l1 0l1 .2l1-.1l1 .4l1 .1l1-.3l1 .5l1 .4l1 .8l1 .1l1 .9l1 .6l1 .1l1 1l1 0l1 .8l1-.3l1 .4l1 0l1-.2l1 .3l1-.8l1 0l1-.3l1 .1l1-.7l1-.9l1-.2l1-.3l1-.4l1-1l1 .1l1-.8l1-.2l1-.4l1-.2l1 .3l1-.2l1-.1l1-.2l1-.1l1-.6l1-.3l1 .3l1-.6l1-.8l1-1.2l1-1.3l1-1l1-2.2l1-2.6l1-2.3l1-2.8l1-3.3l1-2.6l1-3.5l1-3.6l1-4.1l1-3l1-3.4l1-2.3l1-2.3l1-2l1-1.5l1-1.5l1-.6l1 .1l1 1l1 .6l1 .7l1 .7l1 1.5l1 .3l1 .9l1 .2l1 .9l1-.6l1-.2l1-.6l1-1.1l1-.7l1-1.1l1-.8l1-.6l1-1.1l1 .6l1 .1l1 1l1 1.5l1 2.6l1 1.7l1 3.2l1 2.9l1 4.2l1 3.2l1 3.9l1 3.5l1 3.8l1 3l1 3.3l1 3.2l1 2.6l1 2.5l1 1.6l1 2.2l1 1.4l1 1.1l1 .9l1 .9l1 .3l1 .5l1 .6l1 .2l1 .1l1 .7l1 .2l1 0l1-.3l1 .5l1 .1l1-.1l1-.3l1 .2l1-.1l1-.1l1-.1l1 .6l1-.2l1 .2l1-.6l1 .1l1 .2l1-.4l1 .2l1 .2l1 0l1 .3l1-.2l1 0l1 0l1 .1l1-.3l1-.3l1 .8l1-.2l1-.5l1 0l1 .1l1 .3l1-.4l1-.1l1 .4l1-.4l1 .2l1 .1l1-.1l1-.2l1 .2l1-.1l1 .1l1 0l1-.2l1-.1l1-.5l1 .5l1-.4l1-.6l1-.8l1-.4l1 0l1-1l1-.8l1 0l1-.5l1-1l1 .1l1-.1l1-.2l1 .4l1 .6l1 .5l1 .6l1 .6l1 .4l1 .3l1 .5l1 1.1l1 .4l1 .3l1-.4l1 .7l1-.3l1 .2l1 0l1 .5l1 0l1 0l1-.3l1 .4l1-.5l1 .3l1 0l1-.3l1 .1l1-.2l1 .5l1-.5l1 0l1 .1l1 .3l1 0l1-.1l1 .3l1-.1l1-.5l1 .2l1-.3l1 0l1-.1l1-.1l1 .1l1 .2l1-.4l1-.7l1-.3l1-.3l1-.7l1-1.3l1-1.1l1-1l1-1.6l1-2.2l1-1.4l1-2.3l1-1.5l1-1.7l1-1.5l1-.7l1-1.3l1-.7l1-.5l1-.1l1-.2l1-.4l1-.4l1 .1l1-.2l1 .2l1 0l1-.2l1-.5l1 .3l1-.1l1-.2l1 .4"/>
<path stroke="#000000" d="M1374.0 1515.8l1 .4l1-.2l1-.1l1 .3l1 0l1 .2l1 0l1-.2l1-.4l1 .3l1-.1l1 .4l1-.4l1-.1l1-.3l1 .4l1 0l1-.2l1-.1l1 .3l1-.3l1 0l1 .3l1-.1l1 .1l1 0l1-.1l1-.2l1-.1l1 .4l1 .4l1-.6l1 .1l1 0l1 .3l1-.2l1 .2l1-.6l1 .1l1 .1l1 .1l1 0l1 0l1 .5l1-.4l1 .1l1 .3l1-.3l1 0l1 .2l1-.4l1-.3l1 .8l1-.4l1 .1l1-.4l1 .5l1-.3l1 .2l1-.3l1 .5l1-.4l1-.1l1 .5l1-.5l1 0l1 .2l1 .4l1-.7l1 .1l1 .4l1-.5l1 .2l1 .3l1 0l1 0l1-.5l1 .6l1-.4l1 .4l1-.3l1 .3l1-.3l1-.2l1-.1l1 .3l1-.4l1 .1l1 .6l1-.2l1 .2l1-.6l1 .3l1 0l1-.3l1 .1l1 .5l1-.1l1-.2l1 .1l1 .2l1 .1l1-.3l1-.5l1 .7l1-.6l1 .1l1-.1l1 .3l1 .1l1-.1l1 0l1-.3l1 .5l1-.2l1-.2l1 .5l1 .1l1-.1l1 .1l1-.7l1 .2l1 .1l1-.2l1 .4l1 .1l1-.6l1 .3l1 .4l1-.1l1-.3l1-.3l1 .3l1 0l1 .2l1-.5l1 .1l1 .6l1-.8l1 .5l1-.4l1 .5l1-.3l1 .4l1-.5l1 .5l1-.5l1-.2l1 .1l1 0l1 .2l1 .5l1-.5l1 .3l1-.6l1 .4l1 0l1-.3l1 .4l1-.1l1-.1l1 .4l1-.1l1-.5l1 0l1-.1l1 .2l1 .3l1 .3l1 0l1-.1l1-.6l1 .5l1 0l1-.2l1 .4l1-.3l1-.4l1 .1l1-.1l1 .4l1 0l1 .2l1-.7l1 0l1 .8l1-.6l1 0l1 .5l1-.6l1 .5l1 .1l1-.2l1 .1l1-.4l1 .6l1 .2l1 .3l1 0l1-.3l1 .2l1 .3l1-.7l1-.2l1-.3l1 .1l1-.7l1-.6l1 0l1-.8l1-.7l1-.2l1-.3l1-.9l1-.5l1-.6l1-.3l1-1l1-1.1l1-.4l1-1l1-.8l1-.6l1-1.4l1-.4l1-1l1-.6l1-.5l1-1l1-.5l1-.8l1-.5l1-.2l1-.3l1-.4l1 .3l1-.1l1 .1l1 .3l1 1.1l1 .9l1 .9l1 .5l1 1l1 1.6l1 .7l1 1.8l1 1l1 .7l1 1.1l1 1.1l1 .3l1 .9l1 .8l1 .3l1 .2l1-.3l1 0l1-.1l1-.5l1 0l1-.5l1-.3l1-.8l1-.2l1-.8l1-.2l1-.3l1 .1l1 .5l1-.3l1-.4l1 .4l1 0l1 .5l1 .1l1 .1l1 .6l1 0l1-.3l1 .2l1 .7l1 .2l1 .3l1 .1l1-.2l1 .6l1 .5l1 .1l1-.3l1 .3l1 .8l1-.1l1-.1l1 .6l1 .4l1 .1l1-.1l1 .3l1-.4l1 .4l1 .4l1-.3l1-.1l1 .7l1-.1l1-.5l1 .1l1 .4l1 .4l1-.2l1 .2l1-.6l1 .4l1-.3l1 .2l1-.2l1 .3l1-.3l1 .5l1 0l1 .2l1-.1l1-.6l1 .7l1-.3l1 .3l1-.3l1-.3l1 .5l1-.5l1 .7l1-.4l1 .3l1-.3l1-.1l1 .2l1 .1l1-.2l1-.2l1 .1l1 .3l1-.4l1-.1l1 .3l1 .1l1-.4l1 .1l1 .6l1-.6l1 .4l1-.4l1-.1l1 .3l1 .3l1-.1l1-.6l1 .6l1-.1l1-.1l1 .1l1-.1l1-.3l1 .5l1-.5l1 .1l1 .5l1-.2l1-.1l1 .2l1-.2l1-.1l1 .1l1-.4l1 .3l1-.3l1 .8l1-.1l1-.2l1-.4l1 .6l1-.5l1 .4l1-.1l1 0l1 .1l1-.4l1 .5l1-.3l1 .2l1 .1l1-.5l1 .1l1 0l1-.2l1 .6l1-.2l1-.1l1 0l1 .3l1-.6l1 .2l1 .2l1-.1l1 0l1-.2l1 0l1 .3l1-.2l1 .4l1 0l1 .1l1-.6l1 .2l1-.3l1 .2l1-.2l1 .3l1 .4l1-.2l1-.3l1-.1l1 .5l1-.7l1 .7l1 0l1-.6l1 .7l1-.3l1-.2l1 0l1 .2l1-.1l1 .3l1 0l1-.4l1-.3l1 .6l1-.1l1 0l1-.4l1 0l1 .6l1-.4l1 .1l1 .4l1-.6l1 .3l1-.5l1 .4l1 .2l1-.5l1 .5l1 .2l1-.1l1-.1l1 .2l1-.2l1-.2l1 .3l1-.1l1-.1l1 0l1-.4l1 .2l1 0l1 .4l1-.1l1-.4l1 .6l1-.8l1 0l1 .3l1-.2l1 .7l1-.5l1 0l1 .4l1-.3l1 .1l1-.1l1 0l1 .4l1-.6l1 .2l1 0l1-.3l1 0"/>
<path stroke="#000000" d="M1877.0 1516.0l1 .2l1-.3l1-.3l1 .7l1-.6l1 .6l1-.7l1 .5l1-.4l1 .1l1 .1l1 .3l1-.3l1 0l1 0l1 .1l1-.2l1 .6l1-.6l1-.1l1 .3l1-.1l1 .3l1-.6l1 .5l1-.2l1 .4l1-.5l1 .1l1 0l1 .1l1-.2l1 .3l1-.2l1 .3l1-.4l1 .2l1 0l1 .2l1-.1l1-.2l1-.2l1 0l1 0l1 0l1 0l1 .4l1-.2l1 .4l1-.5l1 0l1-.1l1 0l1 .4l1 0l1-.3l1 .4l1-.1l1-.2l1 .2l1 0l1-.1l1-.3l1 .2l1 .5l1-.5l1 .2l1-.4l1 .5l1 .1l1-.4l1 0l1 .1l1-.2l1 0l1-.1l1 .4l1-.1l1 .4l1 0l1-.1l1 0l1 0l1-.7l1 .1l1 .6l1-.1l1-.2l1 0l1-.2l1-.1l1-.3l1 .2l1-.3l1-.3l1 .5l1-.5l1 0l1-.7l1 0l1-.6l1 .2l1-.9l1 0l1-.4l1-.6l1-.5l1 0l1-.4l1 0l1-.8l1-.4l1-.2l1 .1l1-.8l1 0l1-.9l1-.4l1-.1l1-.8l1-1.1l1-.6l1-.6l1-1.6l1-1l1-1.4l1-1.2l1-1.7l1-.7l1-1.5l1-1.4l1-1.1l1-1l1-.2l1-.7l1-.8l1-.1l1-.2l1-.3l1 0l1 .7l1-.3l1 .5l1-.3l1 .2l1 .2l1 .5l1 0l1 .4l1-.3l1 0l1-.3l1 .9l1-.1l1 .7l1-.1l1 1.3l1 .5l1 .7l1 1.2l1 .9l1 1.7l1 1l1 1.8l1 .9l1 1.8l1 1.2l1 1.4l1 1.4l1 .6l1 1.3l1 .7l1 1.3l1 .6l1 .6l1 .5l1 .2l1 .9l1 .3l1 .3l1-.3l1 .6l1 0l1 .2l1 .1l1-.2l1 0l1 .3l1 0l1-.1l1 .3l1-.7l1 0l1 .4l1-.3l1 .6l1-.6l1 .6l1-.5l1-.1l1 .5l1-.1l1-.2l1 .2l1-.1l1 .4l1-.4l1 0l1 0l1-.1l1 .3l1-.5l1 .5l1 .1l1-.1l1-.2l1-.1l1-.2l1 0l1 .3l1 .3l1 0l1-.6l1 .4l1 0l1-.3l1 .3l1-.6l1 0l1 0l1 0l1-.4l1-.4l1 .2l1-.7l1-.4l1-.7l1-.4l1-.4l1-1l1-.5l1-1l1-1.2l1-.1l1-1.4l1-.7l1-.5l1-1.3l1-.8l1-.4l1-.5l1 .3l1-.5l1-.4l1 .3l1 .3l1-.1l1 .4l1 .8l1-.1l1 .1l1 .5l1-.1l1 .6l1 .4l1-.1l1 .7l1 .3l1 .8l1 .5l1 .8l1 .4l1 .2l1 .4l1 .8l1 .3l1-.4l1 .2l1-.2l1 0l1 0l1-.5l1-.1l1-.2l1-.5l1 .1l1-.2l1 0l1 0l1 .1l1-.5l1 .3l1-1l1-.5l1-.4l1-.9l1-1.9l1-1.2l1-2.7l1-1.5l1-3.1l1-2.8l1-2.1l1-3.2l1-2.3l1-3.2l1-2.3l1-2l1-2.2l1-1.4l1-1.7l1-.9l1-1.3l1-.6l1-.8l1-1.2l1 .1l1-.4l1-.6l1-.3l1-.5l1-.1l1-.2l1-.2l1 .3l1-.3"/>
</g>
<rect x="1374.3" y="889" width="830.1000000000001" height="672.7" fill="none" stroke="#000" stroke-width="8" stroke-linejoin="miter"/>
<rect x="1864" y="883" width="12" height="12" fill="#fff"/>
<line x1="1857.5" y1="901.0" x2="1869.5" y2="877.0" stroke="#000" stroke-width="5.5" stroke-linecap="butt"/>
<line x1="1872.0" y1="901.0" x2="1884.0" y2="877.0" stroke="#000" stroke-width="5.5" stroke-linecap="butt"/>
<rect x="1864" y="1555.7" width="12" height="12" fill="#fff"/>
<line x1="1857.5" y1="1573.7" x2="1869.5" y2="1549.7" stroke="#000" stroke-width="5.5" stroke-linecap="butt"/>
<line x1="1872.0" y1="1573.7" x2="1884.0" y2="1549.7" stroke="#000" stroke-width="5.5" stroke-linecap="butt"/>
<line x1="1375.9" y1="1561.7" x2="1375.9" y2="1575.7" stroke="#000" stroke-width="8" stroke-linecap="butt"/>
<text x="1375.9" y="1620.4" font-size="46.5" font-weight="normal" text-anchor="middle" class="tk">2500</text>
<line x1="1456.6" y1="1561.7" x2="1456.6" y2="1568.7" stroke="#000" stroke-width="8" stroke-linecap="butt"/>
<line x1="1537.3" y1="1561.7" x2="1537.3" y2="1575.7" stroke="#000" stroke-width="8" stroke-linecap="butt"/>
<text x="1537.3" y="1620.4" font-size="46.5" font-weight="normal" text-anchor="middle" class="tk">2400</text>
<line x1="1618.0" y1="1561.7" x2="1618.0" y2="1568.7" stroke="#000" stroke-width="8" stroke-linecap="butt"/>
<line x1="1698.7" y1="1561.7" x2="1698.7" y2="1575.7" stroke="#000" stroke-width="8" stroke-linecap="butt"/>
<text x="1698.7" y="1620.4" font-size="46.5" font-weight="normal" text-anchor="middle" class="tk">2300</text>
<line x1="1779.4" y1="1561.7" x2="1779.4" y2="1568.7" stroke="#000" stroke-width="8" stroke-linecap="butt"/>
<line x1="1959.2" y1="1561.7" x2="1959.2" y2="1568.7" stroke="#000" stroke-width="8" stroke-linecap="butt"/>
<line x1="2040.4" y1="1561.7" x2="2040.4" y2="1575.7" stroke="#000" stroke-width="8" stroke-linecap="butt"/>
<text x="2040.4" y="1620.4" font-size="46.5" font-weight="normal" text-anchor="middle" class="tk">1500</text>
<line x1="2121.7" y1="1561.7" x2="2121.7" y2="1568.7" stroke="#000" stroke-width="8" stroke-linecap="butt"/>
<line x1="2202.9" y1="1561.7" x2="2202.9" y2="1575.7" stroke="#000" stroke-width="8" stroke-linecap="butt"/>
<text x="2202.9" y="1620.4" font-size="46.5" font-weight="normal" text-anchor="middle" class="tk">1400</text>
<text x="1124.0" y="918.5" font-size="85" font-weight="bold" text-anchor="start" >d</text>
<text class="th" transform="translate(1329.0,1202.0) rotate(-90)" font-size="57" font-weight="bold" text-anchor="middle">Absorbance (a.u.)</text>
<text class="th" x="1525" y="1688.8" font-size="57" font-weight="bold">Wavenumber (cm<tspan dy="-23" font-size="36">-1</tspan><tspan dy="23">)</tspan></text>
</svg>
</body></html>
